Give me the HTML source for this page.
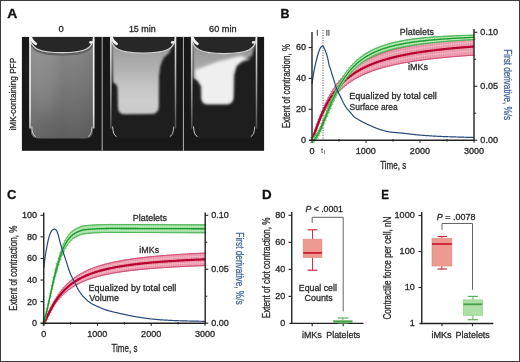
<!DOCTYPE html>
<html><head><meta charset="utf-8"><style>
html,body{margin:0;padding:0;background:#fff;width:520px;height:362px;overflow:hidden;}
svg{display:block;font-family:"Liberation Sans", sans-serif;}
</style></head><body>
<svg style="will-change:transform" width="520" height="362" viewBox="0 0 520 362" font-family='"Liberation Sans", sans-serif'>
<defs>
<filter id="b1" filterUnits="userSpaceOnUse" x="0" y="0" width="520" height="362"><feGaussianBlur stdDeviation="1.2"/></filter>
<filter id="b2" filterUnits="userSpaceOnUse" x="0" y="0" width="520" height="362"><feGaussianBlur stdDeviation="1.6"/></filter>
<filter id="b03" filterUnits="userSpaceOnUse" x="0" y="0" width="520" height="362"><feGaussianBlur stdDeviation="0.35"/></filter>
<filter id="b05" filterUnits="userSpaceOnUse" x="0" y="0" width="520" height="362"><feGaussianBlur stdDeviation="0.5"/></filter>
<filter id="b3" filterUnits="userSpaceOnUse" x="0" y="0" width="520" height="362"><feGaussianBlur stdDeviation="5"/></filter>
<linearGradient id="tube1" x1="0" y1="0" x2="0" y2="1">
 <stop offset="0" stop-color="#8a8a8a"/><stop offset="0.45" stop-color="#797979"/><stop offset="1" stop-color="#5e5e5e"/>
</linearGradient>
<linearGradient id="tube1h" x1="0" y1="0" x2="1" y2="0">
 <stop offset="0" stop-color="#ffffff" stop-opacity="0.06"/><stop offset="0.5" stop-color="#ffffff" stop-opacity="0"/><stop offset="1" stop-color="#000" stop-opacity="0.06"/>
</linearGradient>
<linearGradient id="wallg0" x1="0" y1="0" x2="0" y2="1"><stop offset="0" stop-color="#fafafa"/><stop offset="0.8" stop-color="#ececec"/><stop offset="1" stop-color="#c4c4c4"/></linearGradient>
<linearGradient id="wallg1" x1="0" y1="0" x2="0" y2="1"><stop offset="0" stop-color="#eeeeee"/><stop offset="0.55" stop-color="#9a9a9a"/><stop offset="1" stop-color="#4a4a4a"/></linearGradient>
<linearGradient id="haze" x1="0" y1="0" x2="0" y2="1">
 <stop offset="0" stop-color="#8a8a8a"/><stop offset="1" stop-color="#b0b0b0"/>
</linearGradient>
</defs>
<rect x="0" y="0" width="520" height="362" fill="#ffffff"/>
<text x="7.25" y="17.60" font-size="12.5" font-weight="bold" fill="#111" stroke="#111" stroke-width="0.3" textLength="10.01" lengthAdjust="spacingAndGlyphs" >A</text>
<text x="280.57" y="17.60" font-size="12.5" font-weight="bold" fill="#111" stroke="#111" stroke-width="0.3" textLength="9.00" lengthAdjust="spacingAndGlyphs" >B</text>
<text x="6.97" y="198.60" font-size="12.5" font-weight="bold" fill="#111" stroke="#111" stroke-width="0.3" textLength="9.39" lengthAdjust="spacingAndGlyphs" >C</text>
<text x="262.11" y="198.80" font-size="12.5" font-weight="bold" fill="#111" stroke="#111" stroke-width="0.3" textLength="9.66" lengthAdjust="spacingAndGlyphs" >D</text>
<text x="381.32" y="198.60" font-size="12.5" font-weight="bold" fill="#111" stroke="#111" stroke-width="0.3" textLength="7.73" lengthAdjust="spacingAndGlyphs" >E</text>
<rect x="21.9" y="36.9" width="242.2" height="113.9" fill="#181818"/>
<clipPath id="ph"><rect x="21.9" y="36.9" width="242.2" height="113.9"/></clipPath>
<g clip-path="url(#ph)">
<path d="M30.8,36.9 L93.0,36.9 L93.0,130.5 Q93.0,138.5 85.0,138.5 L38.8,138.5 Q30.8,138.5 30.8,130.5 Z" fill="url(#tube1)"/>
<path d="M30.8,36.9 L93.0,36.9 L93.0,130.5 Q93.0,138.5 85.0,138.5 L38.8,138.5 Q30.8,138.5 30.8,130.5 Z" fill="url(#tube1h)"/>
<ellipse cx="43.8" cy="75" rx="14" ry="40" fill="#ffffff" fill-opacity="0.07" filter="url(#b3)"/>
<path d="M94.0,37.4 C92.8,48.6 85.0,52.6 61.9,52.6 C38.8,52.6 31.0,48.6 29.8,37.4" fill="none" stroke="#606060" stroke-width="2.2" transform="translate(0,1.8)" filter="url(#b05)"/>
<path d="M29.8,35.9 L94.0,35.9 L94.0,37.4 C92.8,48.6 85.0,52.6 61.9,52.6 C38.8,52.6 31.0,48.6 29.8,37.4 Z" fill="#272727"/>
<path d="M93.5,37.4 C92.8,48.6 85.0,52.6 61.9,52.6 C38.8,52.6 31.0,48.6 29.8,37.4" fill="none" stroke="#d4d4d4" stroke-width="1.1" filter="url(#b03)"/>
<rect x="29.2" y="36.9" width="1.7" height="91.6" fill="url(#wallg0)" filter="url(#b03)"/>
<rect x="92.9" y="36.9" width="1.6" height="91.6" fill="url(#wallg0)" filter="url(#b03)"/>
<path d="M30.8,37.4 Q32.3,41.9 35.8,43.9" fill="none" stroke="#f4f4f4" stroke-width="2.6" stroke-linecap="round" filter="url(#b05)"/>
<ellipse cx="90.8" cy="42.4" rx="1.8" ry="1.4" fill="#e8e8e8" filter="url(#b05)"/>
<path d="M31.8,126.5 Q32.3,135.5 35.8,136.5" fill="none" stroke="#cfcfcf" stroke-width="1.0" filter="url(#b05)"/>
<path d="M92.0,126.5 Q91.5,135.5 88.0,136.5" fill="none" stroke="#bbbbbb" stroke-width="1.0" filter="url(#b05)"/>
<linearGradient id="hz2" x1="0" y1="50" x2="0" y2="115" gradientUnits="userSpaceOnUse"><stop offset="0" stop-color="#a0a0a0"/><stop offset="0.3" stop-color="#b2b2b2"/><stop offset="0.55" stop-color="#c4c4c4"/><stop offset="0.8" stop-color="#cecece"/><stop offset="1" stop-color="#c8c8c8"/></linearGradient>
<path d="M111.6,36.9 L174.8,36.9 L174.8,130.5 Q174.8,138.5 166.8,138.5 L119.6,138.5 Q111.6,138.5 111.6,130.5 Z" fill="#1e1e1e"/>
<path d="M111.5,40 L175,40 L169,53 L163.5,58 L160.3,66 L159,76 L158.8,107 Q158.2,113.8 152,114 L124,114.2 Q118.5,114 118,108 L117.6,88 L116.5,85 L113,82 Z" fill="url(#hz2)" filter="url(#b1)"/>
<path d="M110.6,35.9 L175.8,35.9 L175.8,37.4 C174.60000000000002,49.0 166.8,53.0 143.2,53.0 C119.6,53.0 111.8,49.0 110.6,37.4 Z" fill="#272727"/>
<path d="M175.3,37.4 C174.60000000000002,49.0 166.8,53.0 143.2,53.0 C119.6,53.0 111.8,49.0 110.6,37.4" fill="none" stroke="#d4d4d4" stroke-width="1.1" filter="url(#b03)"/>
<rect x="110.0" y="36.9" width="1.7" height="91.6" fill="url(#wallg1)" filter="url(#b03)"/>
<rect x="174.70000000000002" y="36.9" width="1.6" height="91.6" fill="url(#wallg1)" filter="url(#b03)"/>
<path d="M111.6,37.4 Q113.1,41.9 116.6,43.9" fill="none" stroke="#f4f4f4" stroke-width="2.6" stroke-linecap="round" filter="url(#b05)"/>
<ellipse cx="172.60000000000002" cy="42.4" rx="1.8" ry="1.4" fill="#e8e8e8" filter="url(#b05)"/>
<path d="M112.6,126.5 Q113.1,135.5 116.6,136.5" fill="none" stroke="#cfcfcf" stroke-width="1.0" filter="url(#b05)"/>
<path d="M173.8,126.5 Q173.3,135.5 169.8,136.5" fill="none" stroke="#bbbbbb" stroke-width="1.0" filter="url(#b05)"/>
<linearGradient id="hz3" x1="0" y1="50" x2="0" y2="90" gradientUnits="userSpaceOnUse"><stop offset="0" stop-color="#989898"/><stop offset="0.5" stop-color="#b0b0b0"/><stop offset="1" stop-color="#c4c4c4"/></linearGradient>
<path d="M192.5,36.9 L255.8,36.9 L255.8,130.5 Q255.8,138.5 247.8,138.5 L200.5,138.5 Q192.5,138.5 192.5,130.5 Z" fill="#1e1e1e"/>
<path d="M192.5,40 L256,40 L252,56 L242,59 L236,66 L233.5,75 L233,98 Q232.5,103.5 227,103.8 L207,103.8 Q202,103.5 201.8,98 L201.6,86 L198,80.5 L193.5,78 Z" fill="url(#hz3)" filter="url(#b1)"/>
<path d="M195.5,70 L218,61.5 L240,56 L251,58.5 L242,61.5 L236,66 L233.5,75 L233,98 Q232.5,103.5 227,103.8 L207,103.8 Q202,103.5 201.8,98 L201.6,86 L198,80.5 L195.5,78 Z" fill="#efefef" filter="url(#b2)"/>
<path d="M191.5,35.9 L256.8,35.9 L256.8,37.4 C255.60000000000002,49.6 247.8,53.6 224.15,53.6 C200.5,53.6 192.7,49.6 191.5,37.4 Z" fill="#272727"/>
<path d="M256.3,37.4 C255.60000000000002,49.6 247.8,53.6 224.15,53.6 C200.5,53.6 192.7,49.6 191.5,37.4" fill="none" stroke="#d4d4d4" stroke-width="1.1" filter="url(#b03)"/>
<rect x="190.9" y="36.9" width="1.7" height="91.6" fill="url(#wallg1)" filter="url(#b03)"/>
<rect x="255.70000000000002" y="36.9" width="1.6" height="91.6" fill="url(#wallg1)" filter="url(#b03)"/>
<path d="M192.5,37.4 Q194.0,41.9 197.5,43.9" fill="none" stroke="#f4f4f4" stroke-width="2.6" stroke-linecap="round" filter="url(#b05)"/>
<ellipse cx="253.60000000000002" cy="42.4" rx="1.8" ry="1.4" fill="#e8e8e8" filter="url(#b05)"/>
<path d="M193.5,126.5 Q194.0,135.5 197.5,136.5" fill="none" stroke="#cfcfcf" stroke-width="1.0" filter="url(#b05)"/>
<path d="M254.8,126.5 Q254.3,135.5 250.8,136.5" fill="none" stroke="#bbbbbb" stroke-width="1.0" filter="url(#b05)"/>
</g>
<line x1="102.20" y1="36.90" x2="102.20" y2="150.80" stroke="#b5b5b5" stroke-width="1.0" />
<line x1="183.40" y1="36.90" x2="183.40" y2="150.80" stroke="#b5b5b5" stroke-width="1.0" />
<text x="58.43" y="31.90" font-size="8.6" font-weight="normal" fill="#2b2b2b" stroke="#2b2b2b" stroke-width="0.3" textLength="5.24" lengthAdjust="spacingAndGlyphs" >0</text>
<text x="128.92" y="32.00" font-size="8.6" font-weight="normal" fill="#2b2b2b" stroke="#2b2b2b" stroke-width="0.3" textLength="26.76" lengthAdjust="spacingAndGlyphs" >15 min</text>
<text x="209.14" y="32.00" font-size="8.6" font-weight="normal" fill="#2b2b2b" stroke="#2b2b2b" stroke-width="0.3" textLength="27.46" lengthAdjust="spacingAndGlyphs" >60 min</text>
<text transform="translate(15.80,0) rotate(-90)" x="-130.55" y="0" font-size="9.4" font-weight="normal" fill="#2b2b2b" stroke="#2b2b2b" stroke-width="0.3" textLength="72.68" lengthAdjust="spacingAndGlyphs">iMK-containing PFP</text>
<clipPath id="bR"><path d="M312.00,137.80 L312.55,136.55 L313.02,135.32 L313.11,135.07 L313.66,133.52 L314.04,132.45 L314.22,131.94 L314.77,130.34 L315.06,129.52 L315.32,128.75 L315.88,127.18 L316.08,126.62 L316.43,125.62 L316.98,124.08 L317.09,123.78 L317.54,122.57 L318.09,121.09 L318.11,121.03 L318.65,119.63 L319.13,118.38 L319.20,118.21 L319.75,116.81 L320.15,115.83 L320.31,115.45 L320.86,114.12 L321.17,113.39 L321.42,112.81 L321.97,111.52 L322.19,110.98 L322.52,110.17 L323.08,108.84 L323.21,108.53 L323.63,107.54 L324.18,106.28 L324.23,106.19 L324.74,105.05 L325.25,103.94 L325.29,103.84 L325.85,102.67 L326.26,101.80 L326.40,101.52 L326.95,100.40 L327.28,99.74 L327.51,99.30 L328.06,98.24 L328.30,97.78 L328.62,97.19 L329.17,96.17 L329.32,95.90 L329.72,95.18 L330.28,94.21 L330.34,94.10 L330.83,93.26 L331.36,92.38 L331.38,92.33 L331.94,91.43 L332.38,90.72 L332.49,90.54 L333.05,89.67 L333.40,89.14 L333.60,88.83 L334.42,87.62 L335.43,86.16 L336.45,84.76 L337.47,83.41 L338.49,82.12 L339.51,80.88 L340.53,79.68 L341.55,78.53 L342.57,77.42 L343.58,76.35 L344.60,75.31 L345.62,74.32 L346.64,73.36 L347.66,72.43 L348.68,71.54 L349.70,70.67 L350.72,69.83 L351.74,69.02 L352.75,68.24 L353.77,67.48 L354.79,66.74 L355.81,66.03 L356.83,65.34 L357.85,64.67 L358.87,64.02 L359.89,63.39 L360.91,62.78 L361.92,62.19 L362.94,61.61 L363.96,61.05 L364.98,60.50 L366.00,59.97 L367.02,59.45 L368.04,58.95 L369.06,58.46 L370.08,57.99 L371.09,57.52 L372.11,57.07 L373.13,56.63 L374.15,56.20 L375.17,55.78 L376.19,55.37 L377.21,54.97 L378.23,54.58 L379.25,54.20 L380.26,53.83 L381.28,53.47 L382.30,53.12 L383.32,52.77 L384.34,52.43 L385.36,52.10 L386.38,51.78 L387.40,51.47 L388.42,51.16 L389.43,50.85 L390.45,50.56 L391.47,50.27 L392.49,49.98 L393.51,49.71 L394.53,49.44 L395.55,49.17 L396.57,48.91 L397.58,48.65 L398.60,48.40 L399.62,48.16 L400.64,47.91 L401.66,47.68 L402.68,47.45 L403.70,47.22 L404.72,47.00 L405.74,46.78 L406.75,46.56 L407.77,46.35 L408.79,46.14 L409.81,45.94 L410.83,45.74 L411.85,45.55 L412.87,45.35 L413.89,45.16 L414.91,44.98 L415.92,44.80 L416.94,44.62 L417.96,44.44 L418.98,44.27 L420.00,44.09 L421.02,43.93 L422.04,43.76 L423.06,43.60 L424.08,43.44 L425.09,43.28 L426.11,43.13 L427.13,42.98 L428.15,42.83 L429.17,42.68 L430.19,42.53 L431.21,42.39 L432.23,42.25 L433.25,42.11 L434.26,41.98 L435.28,41.84 L436.30,41.71 L437.32,41.58 L438.34,41.45 L439.36,41.32 L440.38,41.20 L441.40,41.08 L442.42,40.95 L443.43,40.83 L444.45,40.72 L445.47,40.60 L446.49,40.49 L447.51,40.37 L448.53,40.26 L449.55,40.15 L450.57,40.04 L451.58,39.94 L452.60,39.83 L453.62,39.73 L454.64,39.63 L455.66,39.52 L456.68,39.42 L457.70,39.33 L458.72,39.23 L459.74,39.13 L460.75,39.04 L461.77,38.94 L462.79,38.85 L463.81,38.76 L464.83,38.67 L465.85,38.58 L466.87,38.49 L467.89,38.41 L468.91,38.32 L469.92,38.24 L470.94,38.15 L471.96,38.07 L472.98,37.99 L474.00,37.91 L474.00,55.14 L472.98,55.21 L471.96,55.28 L470.94,55.35 L469.92,55.42 L468.91,55.49 L467.89,55.56 L466.87,55.63 L465.85,55.70 L464.83,55.78 L463.81,55.85 L462.79,55.93 L461.77,56.01 L460.75,56.08 L459.74,56.16 L458.72,56.24 L457.70,56.32 L456.68,56.40 L455.66,56.49 L454.64,56.57 L453.62,56.66 L452.60,56.74 L451.58,56.83 L450.57,56.92 L449.55,57.01 L448.53,57.10 L447.51,57.19 L446.49,57.29 L445.47,57.38 L444.45,57.48 L443.43,57.58 L442.42,57.68 L441.40,57.78 L440.38,57.88 L439.36,57.98 L438.34,58.09 L437.32,58.20 L436.30,58.30 L435.28,58.41 L434.26,58.53 L433.25,58.64 L432.23,58.75 L431.21,58.87 L430.19,58.99 L429.17,59.11 L428.15,59.23 L427.13,59.36 L426.11,59.48 L425.09,59.61 L424.08,59.74 L423.06,59.88 L422.04,60.01 L421.02,60.15 L420.00,60.29 L418.98,60.43 L417.96,60.57 L416.94,60.72 L415.92,60.87 L414.91,61.02 L413.89,61.18 L412.87,61.33 L411.85,61.49 L410.83,61.66 L409.81,61.82 L408.79,61.99 L407.77,62.17 L406.75,62.34 L405.74,62.52 L404.72,62.70 L403.70,62.89 L402.68,63.08 L401.66,63.27 L400.64,63.46 L399.62,63.67 L398.60,63.87 L397.58,64.08 L396.57,64.29 L395.55,64.51 L394.53,64.73 L393.51,64.96 L392.49,65.19 L391.47,65.42 L390.45,65.66 L389.43,65.91 L388.42,66.16 L387.40,66.42 L386.38,66.68 L385.36,66.95 L384.34,67.22 L383.32,67.50 L382.30,67.79 L381.28,68.09 L380.26,68.39 L379.25,68.69 L378.23,69.01 L377.21,69.33 L376.19,69.67 L375.17,70.01 L374.15,70.35 L373.13,70.71 L372.11,71.08 L371.09,71.45 L370.08,71.84 L369.06,72.23 L368.04,72.64 L367.02,73.06 L366.00,73.49 L364.98,73.93 L363.96,74.38 L362.94,74.85 L361.92,75.33 L360.91,75.82 L359.89,76.33 L358.87,76.86 L357.85,77.40 L356.83,77.96 L355.81,78.53 L354.79,79.12 L353.77,79.73 L352.75,80.36 L351.74,81.02 L350.72,81.69 L349.70,82.39 L348.68,83.11 L347.66,83.85 L346.64,84.62 L345.62,85.42 L344.60,86.25 L343.58,87.10 L342.57,87.99 L341.55,88.92 L340.53,89.88 L339.51,90.87 L338.49,91.91 L337.47,92.98 L336.45,94.10 L335.43,95.26 L334.42,96.48 L333.60,97.48 L333.40,97.74 L333.05,98.19 L332.49,98.91 L332.38,99.06 L331.94,99.64 L331.38,100.40 L331.36,100.43 L330.83,101.17 L330.34,101.87 L330.28,101.96 L329.72,102.77 L329.32,103.36 L329.17,103.59 L328.62,104.44 L328.30,104.93 L328.06,105.31 L327.51,106.19 L327.28,106.56 L326.95,107.10 L326.40,108.04 L326.26,108.27 L325.85,108.99 L325.29,109.97 L325.25,110.05 L324.74,110.97 L324.23,111.92 L324.18,112.00 L323.63,113.05 L323.21,113.87 L323.08,114.12 L322.52,115.23 L322.19,115.90 L321.97,116.36 L321.42,117.61 L321.17,118.19 L320.86,118.92 L320.31,120.25 L320.15,120.63 L319.75,121.61 L319.20,123.01 L319.13,123.18 L318.65,124.43 L318.11,125.83 L318.09,125.89 L317.54,127.37 L317.09,128.58 L316.98,128.88 L316.43,130.42 L316.08,131.42 L315.88,131.98 L315.32,133.55 L315.06,134.32 L314.77,135.14 L314.22,136.74 L314.04,137.25 L313.66,138.32 L313.11,139.87 L313.02,140.12 L312.55,141.35 L312.00,142.60 Z"/></clipPath>
<path d="M312.00,137.80 L312.55,136.55 L313.02,135.32 L313.11,135.07 L313.66,133.52 L314.04,132.45 L314.22,131.94 L314.77,130.34 L315.06,129.52 L315.32,128.75 L315.88,127.18 L316.08,126.62 L316.43,125.62 L316.98,124.08 L317.09,123.78 L317.54,122.57 L318.09,121.09 L318.11,121.03 L318.65,119.63 L319.13,118.38 L319.20,118.21 L319.75,116.81 L320.15,115.83 L320.31,115.45 L320.86,114.12 L321.17,113.39 L321.42,112.81 L321.97,111.52 L322.19,110.98 L322.52,110.17 L323.08,108.84 L323.21,108.53 L323.63,107.54 L324.18,106.28 L324.23,106.19 L324.74,105.05 L325.25,103.94 L325.29,103.84 L325.85,102.67 L326.26,101.80 L326.40,101.52 L326.95,100.40 L327.28,99.74 L327.51,99.30 L328.06,98.24 L328.30,97.78 L328.62,97.19 L329.17,96.17 L329.32,95.90 L329.72,95.18 L330.28,94.21 L330.34,94.10 L330.83,93.26 L331.36,92.38 L331.38,92.33 L331.94,91.43 L332.38,90.72 L332.49,90.54 L333.05,89.67 L333.40,89.14 L333.60,88.83 L334.42,87.62 L335.43,86.16 L336.45,84.76 L337.47,83.41 L338.49,82.12 L339.51,80.88 L340.53,79.68 L341.55,78.53 L342.57,77.42 L343.58,76.35 L344.60,75.31 L345.62,74.32 L346.64,73.36 L347.66,72.43 L348.68,71.54 L349.70,70.67 L350.72,69.83 L351.74,69.02 L352.75,68.24 L353.77,67.48 L354.79,66.74 L355.81,66.03 L356.83,65.34 L357.85,64.67 L358.87,64.02 L359.89,63.39 L360.91,62.78 L361.92,62.19 L362.94,61.61 L363.96,61.05 L364.98,60.50 L366.00,59.97 L367.02,59.45 L368.04,58.95 L369.06,58.46 L370.08,57.99 L371.09,57.52 L372.11,57.07 L373.13,56.63 L374.15,56.20 L375.17,55.78 L376.19,55.37 L377.21,54.97 L378.23,54.58 L379.25,54.20 L380.26,53.83 L381.28,53.47 L382.30,53.12 L383.32,52.77 L384.34,52.43 L385.36,52.10 L386.38,51.78 L387.40,51.47 L388.42,51.16 L389.43,50.85 L390.45,50.56 L391.47,50.27 L392.49,49.98 L393.51,49.71 L394.53,49.44 L395.55,49.17 L396.57,48.91 L397.58,48.65 L398.60,48.40 L399.62,48.16 L400.64,47.91 L401.66,47.68 L402.68,47.45 L403.70,47.22 L404.72,47.00 L405.74,46.78 L406.75,46.56 L407.77,46.35 L408.79,46.14 L409.81,45.94 L410.83,45.74 L411.85,45.55 L412.87,45.35 L413.89,45.16 L414.91,44.98 L415.92,44.80 L416.94,44.62 L417.96,44.44 L418.98,44.27 L420.00,44.09 L421.02,43.93 L422.04,43.76 L423.06,43.60 L424.08,43.44 L425.09,43.28 L426.11,43.13 L427.13,42.98 L428.15,42.83 L429.17,42.68 L430.19,42.53 L431.21,42.39 L432.23,42.25 L433.25,42.11 L434.26,41.98 L435.28,41.84 L436.30,41.71 L437.32,41.58 L438.34,41.45 L439.36,41.32 L440.38,41.20 L441.40,41.08 L442.42,40.95 L443.43,40.83 L444.45,40.72 L445.47,40.60 L446.49,40.49 L447.51,40.37 L448.53,40.26 L449.55,40.15 L450.57,40.04 L451.58,39.94 L452.60,39.83 L453.62,39.73 L454.64,39.63 L455.66,39.52 L456.68,39.42 L457.70,39.33 L458.72,39.23 L459.74,39.13 L460.75,39.04 L461.77,38.94 L462.79,38.85 L463.81,38.76 L464.83,38.67 L465.85,38.58 L466.87,38.49 L467.89,38.41 L468.91,38.32 L469.92,38.24 L470.94,38.15 L471.96,38.07 L472.98,37.99 L474.00,37.91 L474.00,55.14 L472.98,55.21 L471.96,55.28 L470.94,55.35 L469.92,55.42 L468.91,55.49 L467.89,55.56 L466.87,55.63 L465.85,55.70 L464.83,55.78 L463.81,55.85 L462.79,55.93 L461.77,56.01 L460.75,56.08 L459.74,56.16 L458.72,56.24 L457.70,56.32 L456.68,56.40 L455.66,56.49 L454.64,56.57 L453.62,56.66 L452.60,56.74 L451.58,56.83 L450.57,56.92 L449.55,57.01 L448.53,57.10 L447.51,57.19 L446.49,57.29 L445.47,57.38 L444.45,57.48 L443.43,57.58 L442.42,57.68 L441.40,57.78 L440.38,57.88 L439.36,57.98 L438.34,58.09 L437.32,58.20 L436.30,58.30 L435.28,58.41 L434.26,58.53 L433.25,58.64 L432.23,58.75 L431.21,58.87 L430.19,58.99 L429.17,59.11 L428.15,59.23 L427.13,59.36 L426.11,59.48 L425.09,59.61 L424.08,59.74 L423.06,59.88 L422.04,60.01 L421.02,60.15 L420.00,60.29 L418.98,60.43 L417.96,60.57 L416.94,60.72 L415.92,60.87 L414.91,61.02 L413.89,61.18 L412.87,61.33 L411.85,61.49 L410.83,61.66 L409.81,61.82 L408.79,61.99 L407.77,62.17 L406.75,62.34 L405.74,62.52 L404.72,62.70 L403.70,62.89 L402.68,63.08 L401.66,63.27 L400.64,63.46 L399.62,63.67 L398.60,63.87 L397.58,64.08 L396.57,64.29 L395.55,64.51 L394.53,64.73 L393.51,64.96 L392.49,65.19 L391.47,65.42 L390.45,65.66 L389.43,65.91 L388.42,66.16 L387.40,66.42 L386.38,66.68 L385.36,66.95 L384.34,67.22 L383.32,67.50 L382.30,67.79 L381.28,68.09 L380.26,68.39 L379.25,68.69 L378.23,69.01 L377.21,69.33 L376.19,69.67 L375.17,70.01 L374.15,70.35 L373.13,70.71 L372.11,71.08 L371.09,71.45 L370.08,71.84 L369.06,72.23 L368.04,72.64 L367.02,73.06 L366.00,73.49 L364.98,73.93 L363.96,74.38 L362.94,74.85 L361.92,75.33 L360.91,75.82 L359.89,76.33 L358.87,76.86 L357.85,77.40 L356.83,77.96 L355.81,78.53 L354.79,79.12 L353.77,79.73 L352.75,80.36 L351.74,81.02 L350.72,81.69 L349.70,82.39 L348.68,83.11 L347.66,83.85 L346.64,84.62 L345.62,85.42 L344.60,86.25 L343.58,87.10 L342.57,87.99 L341.55,88.92 L340.53,89.88 L339.51,90.87 L338.49,91.91 L337.47,92.98 L336.45,94.10 L335.43,95.26 L334.42,96.48 L333.60,97.48 L333.40,97.74 L333.05,98.19 L332.49,98.91 L332.38,99.06 L331.94,99.64 L331.38,100.40 L331.36,100.43 L330.83,101.17 L330.34,101.87 L330.28,101.96 L329.72,102.77 L329.32,103.36 L329.17,103.59 L328.62,104.44 L328.30,104.93 L328.06,105.31 L327.51,106.19 L327.28,106.56 L326.95,107.10 L326.40,108.04 L326.26,108.27 L325.85,108.99 L325.29,109.97 L325.25,110.05 L324.74,110.97 L324.23,111.92 L324.18,112.00 L323.63,113.05 L323.21,113.87 L323.08,114.12 L322.52,115.23 L322.19,115.90 L321.97,116.36 L321.42,117.61 L321.17,118.19 L320.86,118.92 L320.31,120.25 L320.15,120.63 L319.75,121.61 L319.20,123.01 L319.13,123.18 L318.65,124.43 L318.11,125.83 L318.09,125.89 L317.54,127.37 L317.09,128.58 L316.98,128.88 L316.43,130.42 L316.08,131.42 L315.88,131.98 L315.32,133.55 L315.06,134.32 L314.77,135.14 L314.22,136.74 L314.04,137.25 L313.66,138.32 L313.11,139.87 L313.02,140.12 L312.55,141.35 L312.00,142.60 Z" fill="#e98aa0"/>
<path d="M312.90,35.9V144.6M314.70,35.9V144.6M316.50,35.9V144.6M318.30,35.9V144.6M320.10,35.9V144.6M321.90,35.9V144.6M323.70,35.9V144.6M325.50,35.9V144.6M327.30,35.9V144.6M329.10,35.9V144.6M330.90,35.9V144.6M332.70,35.9V144.6M334.50,35.9V144.6M336.30,35.9V144.6M338.10,35.9V144.6M339.90,35.9V144.6M341.70,35.9V144.6M343.50,35.9V144.6M345.30,35.9V144.6M347.10,35.9V144.6M348.90,35.9V144.6M350.70,35.9V144.6M352.50,35.9V144.6M354.30,35.9V144.6M356.10,35.9V144.6M357.90,35.9V144.6M359.70,35.9V144.6M361.50,35.9V144.6M363.30,35.9V144.6M365.10,35.9V144.6M366.90,35.9V144.6M368.70,35.9V144.6M370.50,35.9V144.6M372.30,35.9V144.6M374.10,35.9V144.6M375.90,35.9V144.6M377.70,35.9V144.6M379.50,35.9V144.6M381.30,35.9V144.6M383.10,35.9V144.6M384.90,35.9V144.6M386.70,35.9V144.6M388.50,35.9V144.6M390.30,35.9V144.6M392.10,35.9V144.6M393.90,35.9V144.6M395.70,35.9V144.6M397.50,35.9V144.6M399.30,35.9V144.6M401.10,35.9V144.6M402.90,35.9V144.6M404.70,35.9V144.6M406.50,35.9V144.6M408.30,35.9V144.6M410.10,35.9V144.6M411.90,35.9V144.6M413.70,35.9V144.6M415.50,35.9V144.6M417.30,35.9V144.6M419.10,35.9V144.6M420.90,35.9V144.6M422.70,35.9V144.6M424.50,35.9V144.6M426.30,35.9V144.6M428.10,35.9V144.6M429.90,35.9V144.6M431.70,35.9V144.6M433.50,35.9V144.6M435.30,35.9V144.6M437.10,35.9V144.6M438.90,35.9V144.6M440.70,35.9V144.6M442.50,35.9V144.6M444.30,35.9V144.6M446.10,35.9V144.6M447.90,35.9V144.6M449.70,35.9V144.6M451.50,35.9V144.6M453.30,35.9V144.6M455.10,35.9V144.6M456.90,35.9V144.6M458.70,35.9V144.6M460.50,35.9V144.6M462.30,35.9V144.6M464.10,35.9V144.6M465.90,35.9V144.6M467.70,35.9V144.6M469.50,35.9V144.6M471.30,35.9V144.6M473.10,35.9V144.6" stroke="#ffffff" stroke-opacity="0.4" stroke-width="0.7" clip-path="url(#bR)"/>
<path d="M310.50,137.80h3.0M310.50,142.60h3.0M312.16,133.52h3.0M312.16,138.32h3.0M313.82,128.75h3.0M313.82,133.55h3.0M315.48,124.08h3.0M315.48,128.88h3.0M317.15,119.63h3.0M317.15,124.43h3.0M318.81,115.45h3.0M318.81,120.25h3.0M320.47,111.52h3.0M320.47,116.36h3.0M322.13,107.54h3.0M322.13,113.05h3.0M323.75,103.94h3.0M323.75,110.05h3.0M325.45,100.40h3.0M325.45,107.10h3.0M327.12,97.19h3.0M327.12,104.44h3.0M328.78,94.21h3.0M328.78,101.96h3.0M330.44,91.43h3.0M330.44,99.64h3.0M332.10,88.83h3.0M332.10,97.48h3.0M333.93,86.16h3.0M333.93,95.26h3.0M335.97,83.41h3.0M335.97,92.98h3.0M338.01,80.88h3.0M338.01,90.87h3.0M340.05,78.53h3.0M340.05,88.92h3.0M342.08,76.35h3.0M342.08,87.10h3.0M344.12,74.32h3.0M344.12,85.42h3.0M346.16,72.43h3.0M346.16,83.85h3.0M348.20,70.67h3.0M348.20,82.39h3.0M350.24,69.02h3.0M350.24,81.02h3.0M352.27,67.48h3.0M352.27,79.73h3.0M354.31,66.03h3.0M354.31,78.53h3.0M356.35,64.67h3.0M356.35,77.40h3.0M358.39,63.39h3.0M358.39,76.33h3.0M360.42,62.19h3.0M360.42,75.33h3.0M362.46,61.05h3.0M362.46,74.38h3.0M364.50,59.97h3.0M364.50,73.49h3.0M366.54,58.95h3.0M366.54,72.64h3.0M368.58,57.99h3.0M368.58,71.84h3.0M370.61,57.07h3.0M370.61,71.08h3.0M372.65,56.20h3.0M372.65,70.35h3.0M374.69,55.37h3.0M374.69,69.67h3.0M376.73,54.58h3.0M376.73,69.01h3.0M378.76,53.83h3.0M378.76,68.39h3.0M380.80,53.12h3.0M380.80,67.79h3.0M382.84,52.43h3.0M382.84,67.22h3.0M384.88,51.78h3.0M384.88,66.68h3.0M386.92,51.16h3.0M386.92,66.16h3.0M388.95,50.56h3.0M388.95,65.66h3.0M390.99,49.98h3.0M390.99,65.19h3.0M393.03,49.44h3.0M393.03,64.73h3.0M395.07,48.91h3.0M395.07,64.29h3.0M397.10,48.40h3.0M397.10,63.87h3.0M399.14,47.91h3.0M399.14,63.46h3.0M401.18,47.45h3.0M401.18,63.08h3.0M403.22,47.00h3.0M403.22,62.70h3.0M405.25,46.56h3.0M405.25,62.34h3.0M407.29,46.14h3.0M407.29,61.99h3.0M409.33,45.74h3.0M409.33,61.66h3.0M411.37,45.35h3.0M411.37,61.33h3.0M413.41,44.98h3.0M413.41,61.02h3.0M415.44,44.62h3.0M415.44,60.72h3.0M417.48,44.27h3.0M417.48,60.43h3.0M419.52,43.93h3.0M419.52,60.15h3.0M421.56,43.60h3.0M421.56,59.88h3.0M423.59,43.28h3.0M423.59,59.61h3.0M425.63,42.98h3.0M425.63,59.36h3.0M427.67,42.68h3.0M427.67,59.11h3.0M429.71,42.39h3.0M429.71,58.87h3.0M431.75,42.11h3.0M431.75,58.64h3.0M433.78,41.84h3.0M433.78,58.41h3.0M435.82,41.58h3.0M435.82,58.20h3.0M437.86,41.32h3.0M437.86,57.98h3.0M439.90,41.08h3.0M439.90,57.78h3.0M441.93,40.83h3.0M441.93,57.58h3.0M443.97,40.60h3.0M443.97,57.38h3.0M446.01,40.37h3.0M446.01,57.19h3.0M448.05,40.15h3.0M448.05,57.01h3.0M450.08,39.94h3.0M450.08,56.83h3.0M452.12,39.73h3.0M452.12,56.66h3.0M454.16,39.52h3.0M454.16,56.49h3.0M456.20,39.33h3.0M456.20,56.32h3.0M458.24,39.13h3.0M458.24,56.16h3.0M460.27,38.94h3.0M460.27,56.01h3.0M462.31,38.76h3.0M462.31,55.85h3.0M464.35,38.58h3.0M464.35,55.70h3.0M466.39,38.41h3.0M466.39,55.56h3.0M468.42,38.24h3.0M468.42,55.42h3.0M470.46,38.07h3.0M470.46,55.28h3.0M472.50,37.91h3.0M472.50,55.14h3.0" stroke="#e07c98" stroke-width="0.7" fill="none"/>
<path d="M312.00,139.00 L312.55,137.75 L313.02,136.52 L313.11,136.27 L313.66,134.72 L314.04,133.65 L314.22,133.14 L314.77,131.54 L315.06,130.72 L315.32,129.95 L315.88,128.38 L316.08,127.82 L316.43,126.82 L316.98,125.28 L317.09,124.98 L317.54,123.77 L318.09,122.29 L318.11,122.23 L318.65,120.83 L319.13,119.58 L319.20,119.41 L319.75,118.01 L320.15,117.03 L320.31,116.65 L320.86,115.32 L321.17,114.59 L321.42,114.01 L321.97,112.73 L322.19,112.21 L322.52,111.43 L323.08,110.16 L323.21,109.87 L323.63,108.92 L324.18,107.71 L324.23,107.62 L324.74,106.53 L325.25,105.47 L325.29,105.37 L325.85,104.25 L326.26,103.42 L326.40,103.15 L326.95,102.07 L327.28,101.45 L327.51,101.03 L328.06,100.00 L328.30,99.57 L328.62,99.00 L329.17,98.03 L329.32,97.77 L329.72,97.08 L330.28,96.15 L330.34,96.04 L330.83,95.24 L331.36,94.39 L331.38,94.35 L331.94,93.48 L332.38,92.81 L332.49,92.63 L333.05,91.80 L333.40,91.29 L333.60,90.99 L334.42,89.83 L335.43,88.44 L336.45,87.09 L337.47,85.80 L338.49,84.57 L339.51,83.37 L340.53,82.23 L341.55,81.12 L342.57,80.06 L343.58,79.04 L344.60,78.05 L345.62,77.09 L346.64,76.17 L347.66,75.29 L348.68,74.43 L349.70,73.60 L350.72,72.80 L351.74,72.02 L352.75,71.27 L353.77,70.54 L354.79,69.84 L355.81,69.16 L356.83,68.49 L357.85,67.85 L358.87,67.23 L359.89,66.63 L360.91,66.04 L361.92,65.47 L362.94,64.92 L363.96,64.38 L364.98,63.86 L366.00,63.35 L367.02,62.86 L368.04,62.37 L369.06,61.91 L370.08,61.45 L371.09,61.00 L372.11,60.57 L373.13,60.15 L374.15,59.74 L375.17,59.34 L376.19,58.95 L377.21,58.56 L378.23,58.19 L379.25,57.83 L380.26,57.47 L381.28,57.13 L382.30,56.79 L383.32,56.46 L384.34,56.13 L385.36,55.82 L386.38,55.51 L387.40,55.20 L388.42,54.91 L389.43,54.62 L390.45,54.33 L391.47,54.06 L392.49,53.79 L393.51,53.52 L394.53,53.26 L395.55,53.00 L396.57,52.75 L397.58,52.51 L398.60,52.27 L399.62,52.03 L400.64,51.80 L401.66,51.58 L402.68,51.35 L403.70,51.14 L404.72,50.92 L405.74,50.71 L406.75,50.51 L407.77,50.31 L408.79,50.11 L409.81,49.91 L410.83,49.72 L411.85,49.53 L412.87,49.35 L413.89,49.17 L414.91,48.99 L415.92,48.81 L416.94,48.64 L417.96,48.47 L418.98,48.31 L420.00,48.14 L421.02,47.98 L422.04,47.82 L423.06,47.67 L424.08,47.52 L425.09,47.37 L426.11,47.22 L427.13,47.07 L428.15,46.93 L429.17,46.79 L430.19,46.65 L431.21,46.51 L432.23,46.38 L433.25,46.24 L434.26,46.11 L435.28,45.98 L436.30,45.86 L437.32,45.73 L438.34,45.61 L439.36,45.49 L440.38,45.37 L441.40,45.25 L442.42,45.13 L443.43,45.02 L444.45,44.91 L445.47,44.80 L446.49,44.69 L447.51,44.58 L448.53,44.47 L449.55,44.37 L450.57,44.26 L451.58,44.16 L452.60,44.06 L453.62,43.96 L454.64,43.86 L455.66,43.77 L456.68,43.67 L457.70,43.58 L458.72,43.48 L459.74,43.39 L460.75,43.30 L461.77,43.21 L462.79,43.12 L463.81,43.03 L464.83,42.95 L465.85,42.86 L466.87,42.78 L467.89,42.69 L468.91,42.61 L469.92,42.53 L470.94,42.45 L471.96,42.37 L472.98,42.29 L474.00,42.22" fill="none" stroke="#fcd8e0" stroke-opacity="0.55" stroke-width="0.9" clip-path="url(#bR)"/>
<path d="M312.00,141.40 L312.55,140.15 L313.02,138.92 L313.11,138.67 L313.66,137.12 L314.04,136.05 L314.22,135.54 L314.77,133.94 L315.06,133.12 L315.32,132.35 L315.88,130.78 L316.08,130.22 L316.43,129.22 L316.98,127.68 L317.09,127.38 L317.54,126.17 L318.09,124.69 L318.11,124.63 L318.65,123.23 L319.13,121.98 L319.20,121.81 L319.75,120.41 L320.15,119.43 L320.31,119.05 L320.86,117.72 L321.17,116.99 L321.42,116.41 L321.97,115.15 L322.19,114.67 L322.52,113.96 L323.08,112.80 L323.21,112.53 L323.63,111.67 L324.18,110.57 L324.23,110.48 L324.74,109.49 L325.25,108.53 L325.29,108.44 L325.85,107.41 L326.26,106.65 L326.40,106.41 L326.95,105.43 L327.28,104.86 L327.51,104.47 L328.06,103.54 L328.30,103.14 L328.62,102.63 L329.17,101.74 L329.32,101.50 L329.72,100.87 L330.28,100.02 L330.34,99.93 L330.83,99.19 L331.36,98.42 L331.38,98.38 L331.94,97.59 L332.38,96.98 L332.49,96.82 L333.05,96.06 L333.40,95.59 L333.60,95.32 L334.42,94.26 L335.43,92.99 L336.45,91.76 L337.47,90.59 L338.49,89.46 L339.51,88.37 L340.53,87.33 L341.55,86.32 L342.57,85.35 L343.58,84.42 L344.60,83.51 L345.62,82.64 L346.64,81.81 L347.66,81.00 L348.68,80.21 L349.70,79.46 L350.72,78.72 L351.74,78.02 L352.75,77.33 L353.77,76.67 L354.79,76.03 L355.81,75.40 L356.83,74.80 L357.85,74.22 L358.87,73.65 L359.89,73.10 L360.91,72.56 L361.92,72.04 L362.94,71.54 L363.96,71.05 L364.98,70.57 L366.00,70.11 L367.02,69.66 L368.04,69.22 L369.06,68.79 L370.08,68.38 L371.09,67.97 L372.11,67.58 L373.13,67.19 L374.15,66.82 L375.17,66.45 L376.19,66.09 L377.21,65.74 L378.23,65.40 L379.25,65.07 L380.26,64.75 L381.28,64.43 L382.30,64.12 L383.32,63.82 L384.34,63.53 L385.36,63.24 L386.38,62.96 L387.40,62.68 L388.42,62.41 L389.43,62.15 L390.45,61.89 L391.47,61.63 L392.49,61.39 L393.51,61.14 L394.53,60.91 L395.55,60.67 L396.57,60.44 L397.58,60.22 L398.60,60.00 L399.62,59.79 L400.64,59.58 L401.66,59.37 L402.68,59.17 L403.70,58.97 L404.72,58.77 L405.74,58.58 L406.75,58.40 L407.77,58.21 L408.79,58.03 L409.81,57.85 L410.83,57.68 L411.85,57.51 L412.87,57.34 L413.89,57.17 L414.91,57.01 L415.92,56.85 L416.94,56.69 L417.96,56.54 L418.98,56.39 L420.00,56.24 L421.02,56.09 L422.04,55.95 L423.06,55.81 L424.08,55.67 L425.09,55.53 L426.11,55.40 L427.13,55.26 L428.15,55.13 L429.17,55.00 L430.19,54.88 L431.21,54.75 L432.23,54.63 L433.25,54.51 L434.26,54.39 L435.28,54.27 L436.30,54.16 L437.32,54.04 L438.34,53.93 L439.36,53.82 L440.38,53.71 L441.40,53.60 L442.42,53.50 L443.43,53.39 L444.45,53.29 L445.47,53.19 L446.49,53.09 L447.51,52.99 L448.53,52.89 L449.55,52.80 L450.57,52.70 L451.58,52.61 L452.60,52.52 L453.62,52.43 L454.64,52.34 L455.66,52.25 L456.68,52.16 L457.70,52.07 L458.72,51.99 L459.74,51.90 L460.75,51.82 L461.77,51.74 L462.79,51.66 L463.81,51.58 L464.83,51.50 L465.85,51.42 L466.87,51.35 L467.89,51.27 L468.91,51.20 L469.92,51.12 L470.94,51.05 L471.96,50.98 L472.98,50.91 L474.00,50.83" fill="none" stroke="#fcd8e0" stroke-opacity="0.55" stroke-width="0.9" clip-path="url(#bR)"/>
<path d="M312.00,137.80 L312.55,136.55 L313.02,135.32 L313.11,135.07 L313.66,133.52 L314.04,132.45 L314.22,131.94 L314.77,130.34 L315.06,129.52 L315.32,128.75 L315.88,127.18 L316.08,126.62 L316.43,125.62 L316.98,124.08 L317.09,123.78 L317.54,122.57 L318.09,121.09 L318.11,121.03 L318.65,119.63 L319.13,118.38 L319.20,118.21 L319.75,116.81 L320.15,115.83 L320.31,115.45 L320.86,114.12 L321.17,113.39 L321.42,112.81 L321.97,111.52 L322.19,110.98 L322.52,110.17 L323.08,108.84 L323.21,108.53 L323.63,107.54 L324.18,106.28 L324.23,106.19 L324.74,105.05 L325.25,103.94 L325.29,103.84 L325.85,102.67 L326.26,101.80 L326.40,101.52 L326.95,100.40 L327.28,99.74 L327.51,99.30 L328.06,98.24 L328.30,97.78 L328.62,97.19 L329.17,96.17 L329.32,95.90 L329.72,95.18 L330.28,94.21 L330.34,94.10 L330.83,93.26 L331.36,92.38 L331.38,92.33 L331.94,91.43 L332.38,90.72 L332.49,90.54 L333.05,89.67 L333.40,89.14 L333.60,88.83 L334.42,87.62 L335.43,86.16 L336.45,84.76 L337.47,83.41 L338.49,82.12 L339.51,80.88 L340.53,79.68 L341.55,78.53 L342.57,77.42 L343.58,76.35 L344.60,75.31 L345.62,74.32 L346.64,73.36 L347.66,72.43 L348.68,71.54 L349.70,70.67 L350.72,69.83 L351.74,69.02 L352.75,68.24 L353.77,67.48 L354.79,66.74 L355.81,66.03 L356.83,65.34 L357.85,64.67 L358.87,64.02 L359.89,63.39 L360.91,62.78 L361.92,62.19 L362.94,61.61 L363.96,61.05 L364.98,60.50 L366.00,59.97 L367.02,59.45 L368.04,58.95 L369.06,58.46 L370.08,57.99 L371.09,57.52 L372.11,57.07 L373.13,56.63 L374.15,56.20 L375.17,55.78 L376.19,55.37 L377.21,54.97 L378.23,54.58 L379.25,54.20 L380.26,53.83 L381.28,53.47 L382.30,53.12 L383.32,52.77 L384.34,52.43 L385.36,52.10 L386.38,51.78 L387.40,51.47 L388.42,51.16 L389.43,50.85 L390.45,50.56 L391.47,50.27 L392.49,49.98 L393.51,49.71 L394.53,49.44 L395.55,49.17 L396.57,48.91 L397.58,48.65 L398.60,48.40 L399.62,48.16 L400.64,47.91 L401.66,47.68 L402.68,47.45 L403.70,47.22 L404.72,47.00 L405.74,46.78 L406.75,46.56 L407.77,46.35 L408.79,46.14 L409.81,45.94 L410.83,45.74 L411.85,45.55 L412.87,45.35 L413.89,45.16 L414.91,44.98 L415.92,44.80 L416.94,44.62 L417.96,44.44 L418.98,44.27 L420.00,44.09 L421.02,43.93 L422.04,43.76 L423.06,43.60 L424.08,43.44 L425.09,43.28 L426.11,43.13 L427.13,42.98 L428.15,42.83 L429.17,42.68 L430.19,42.53 L431.21,42.39 L432.23,42.25 L433.25,42.11 L434.26,41.98 L435.28,41.84 L436.30,41.71 L437.32,41.58 L438.34,41.45 L439.36,41.32 L440.38,41.20 L441.40,41.08 L442.42,40.95 L443.43,40.83 L444.45,40.72 L445.47,40.60 L446.49,40.49 L447.51,40.37 L448.53,40.26 L449.55,40.15 L450.57,40.04 L451.58,39.94 L452.60,39.83 L453.62,39.73 L454.64,39.63 L455.66,39.52 L456.68,39.42 L457.70,39.33 L458.72,39.23 L459.74,39.13 L460.75,39.04 L461.77,38.94 L462.79,38.85 L463.81,38.76 L464.83,38.67 L465.85,38.58 L466.87,38.49 L467.89,38.41 L468.91,38.32 L469.92,38.24 L470.94,38.15 L471.96,38.07 L472.98,37.99 L474.00,37.91" fill="none" stroke="#c83562" stroke-width="0.8"/>
<path d="M312.00,142.60 L312.55,141.35 L313.02,140.12 L313.11,139.87 L313.66,138.32 L314.04,137.25 L314.22,136.74 L314.77,135.14 L315.06,134.32 L315.32,133.55 L315.88,131.98 L316.08,131.42 L316.43,130.42 L316.98,128.88 L317.09,128.58 L317.54,127.37 L318.09,125.89 L318.11,125.83 L318.65,124.43 L319.13,123.18 L319.20,123.01 L319.75,121.61 L320.15,120.63 L320.31,120.25 L320.86,118.92 L321.17,118.19 L321.42,117.61 L321.97,116.36 L322.19,115.90 L322.52,115.23 L323.08,114.12 L323.21,113.87 L323.63,113.05 L324.18,112.00 L324.23,111.92 L324.74,110.97 L325.25,110.05 L325.29,109.97 L325.85,108.99 L326.26,108.27 L326.40,108.04 L326.95,107.10 L327.28,106.56 L327.51,106.19 L328.06,105.31 L328.30,104.93 L328.62,104.44 L329.17,103.59 L329.32,103.36 L329.72,102.77 L330.28,101.96 L330.34,101.87 L330.83,101.17 L331.36,100.43 L331.38,100.40 L331.94,99.64 L332.38,99.06 L332.49,98.91 L333.05,98.19 L333.40,97.74 L333.60,97.48 L334.42,96.48 L335.43,95.26 L336.45,94.10 L337.47,92.98 L338.49,91.91 L339.51,90.87 L340.53,89.88 L341.55,88.92 L342.57,87.99 L343.58,87.10 L344.60,86.25 L345.62,85.42 L346.64,84.62 L347.66,83.85 L348.68,83.11 L349.70,82.39 L350.72,81.69 L351.74,81.02 L352.75,80.36 L353.77,79.73 L354.79,79.12 L355.81,78.53 L356.83,77.96 L357.85,77.40 L358.87,76.86 L359.89,76.33 L360.91,75.82 L361.92,75.33 L362.94,74.85 L363.96,74.38 L364.98,73.93 L366.00,73.49 L367.02,73.06 L368.04,72.64 L369.06,72.23 L370.08,71.84 L371.09,71.45 L372.11,71.08 L373.13,70.71 L374.15,70.35 L375.17,70.01 L376.19,69.67 L377.21,69.33 L378.23,69.01 L379.25,68.69 L380.26,68.39 L381.28,68.09 L382.30,67.79 L383.32,67.50 L384.34,67.22 L385.36,66.95 L386.38,66.68 L387.40,66.42 L388.42,66.16 L389.43,65.91 L390.45,65.66 L391.47,65.42 L392.49,65.19 L393.51,64.96 L394.53,64.73 L395.55,64.51 L396.57,64.29 L397.58,64.08 L398.60,63.87 L399.62,63.67 L400.64,63.46 L401.66,63.27 L402.68,63.08 L403.70,62.89 L404.72,62.70 L405.74,62.52 L406.75,62.34 L407.77,62.17 L408.79,61.99 L409.81,61.82 L410.83,61.66 L411.85,61.49 L412.87,61.33 L413.89,61.18 L414.91,61.02 L415.92,60.87 L416.94,60.72 L417.96,60.57 L418.98,60.43 L420.00,60.29 L421.02,60.15 L422.04,60.01 L423.06,59.88 L424.08,59.74 L425.09,59.61 L426.11,59.48 L427.13,59.36 L428.15,59.23 L429.17,59.11 L430.19,58.99 L431.21,58.87 L432.23,58.75 L433.25,58.64 L434.26,58.53 L435.28,58.41 L436.30,58.30 L437.32,58.20 L438.34,58.09 L439.36,57.98 L440.38,57.88 L441.40,57.78 L442.42,57.68 L443.43,57.58 L444.45,57.48 L445.47,57.38 L446.49,57.29 L447.51,57.19 L448.53,57.10 L449.55,57.01 L450.57,56.92 L451.58,56.83 L452.60,56.74 L453.62,56.66 L454.64,56.57 L455.66,56.49 L456.68,56.40 L457.70,56.32 L458.72,56.24 L459.74,56.16 L460.75,56.08 L461.77,56.01 L462.79,55.93 L463.81,55.85 L464.83,55.78 L465.85,55.70 L466.87,55.63 L467.89,55.56 L468.91,55.49 L469.92,55.42 L470.94,55.35 L471.96,55.28 L472.98,55.21 L474.00,55.14" fill="none" stroke="#c83562" stroke-width="0.8"/>
<path d="M312.00,140.20 L312.55,138.95 L313.02,137.72 L313.11,137.47 L313.66,135.92 L314.04,134.85 L314.22,134.34 L314.77,132.74 L315.06,131.92 L315.32,131.15 L315.88,129.58 L316.08,129.02 L316.43,128.02 L316.98,126.48 L317.09,126.18 L317.54,124.97 L318.09,123.49 L318.11,123.43 L318.65,122.03 L319.13,120.78 L319.20,120.61 L319.75,119.21 L320.15,118.23 L320.31,117.85 L320.86,116.52 L321.17,115.79 L321.42,115.21 L321.97,113.94 L322.19,113.44 L322.52,112.70 L323.08,111.48 L323.21,111.20 L323.63,110.30 L324.18,109.14 L324.23,109.05 L324.74,108.01 L325.25,107.00 L325.29,106.91 L325.85,105.83 L326.26,105.03 L326.40,104.78 L326.95,103.75 L327.28,103.15 L327.51,102.75 L328.06,101.77 L328.30,101.35 L328.62,100.82 L329.17,99.88 L329.32,99.63 L329.72,98.97 L330.28,98.08 L330.34,97.98 L330.83,97.21 L331.36,96.40 L331.38,96.36 L331.94,95.54 L332.38,94.89 L332.49,94.72 L333.05,93.93 L333.40,93.44 L333.60,93.16 L334.42,92.05 L335.43,90.71 L336.45,89.43 L337.47,88.20 L338.49,87.01 L339.51,85.87 L340.53,84.78 L341.55,83.72 L342.57,82.70 L343.58,81.73 L344.60,80.78 L345.62,79.87 L346.64,78.99 L347.66,78.14 L348.68,77.32 L349.70,76.53 L350.72,75.76 L351.74,75.02 L352.75,74.30 L353.77,73.61 L354.79,72.93 L355.81,72.28 L356.83,71.65 L357.85,71.04 L358.87,70.44 L359.89,69.86 L360.91,69.30 L361.92,68.76 L362.94,68.23 L363.96,67.72 L364.98,67.22 L366.00,66.73 L367.02,66.26 L368.04,65.80 L369.06,65.35 L370.08,64.91 L371.09,64.49 L372.11,64.07 L373.13,63.67 L374.15,63.28 L375.17,62.89 L376.19,62.52 L377.21,62.15 L378.23,61.80 L379.25,61.45 L380.26,61.11 L381.28,60.78 L382.30,60.45 L383.32,60.14 L384.34,59.83 L385.36,59.53 L386.38,59.23 L387.40,58.94 L388.42,58.66 L389.43,58.38 L390.45,58.11 L391.47,57.85 L392.49,57.59 L393.51,57.33 L394.53,57.08 L395.55,56.84 L396.57,56.60 L397.58,56.37 L398.60,56.14 L399.62,55.91 L400.64,55.69 L401.66,55.47 L402.68,55.26 L403.70,55.05 L404.72,54.85 L405.74,54.65 L406.75,54.45 L407.77,54.26 L408.79,54.07 L409.81,53.88 L410.83,53.70 L411.85,53.52 L412.87,53.34 L413.89,53.17 L414.91,53.00 L415.92,52.83 L416.94,52.67 L417.96,52.51 L418.98,52.35 L420.00,52.19 L421.02,52.04 L422.04,51.89 L423.06,51.74 L424.08,51.59 L425.09,51.45 L426.11,51.31 L427.13,51.17 L428.15,51.03 L429.17,50.89 L430.19,50.76 L431.21,50.63 L432.23,50.50 L433.25,50.38 L434.26,50.25 L435.28,50.13 L436.30,50.01 L437.32,49.89 L438.34,49.77 L439.36,49.65 L440.38,49.54 L441.40,49.43 L442.42,49.32 L443.43,49.21 L444.45,49.10 L445.47,48.99 L446.49,48.89 L447.51,48.78 L448.53,48.68 L449.55,48.58 L450.57,48.48 L451.58,48.38 L452.60,48.29 L453.62,48.19 L454.64,48.10 L455.66,48.01 L456.68,47.91 L457.70,47.82 L458.72,47.74 L459.74,47.65 L460.75,47.56 L461.77,47.47 L462.79,47.39 L463.81,47.31 L464.83,47.22 L465.85,47.14 L466.87,47.06 L467.89,46.98 L468.91,46.90 L469.92,46.83 L470.94,46.75 L471.96,46.67 L472.98,46.60 L474.00,46.53" fill="none" stroke="#b8002f" stroke-width="2.2"/>
<clipPath id="bG"><path d="M312.00,137.80 L312.55,137.72 L313.02,137.55 L313.11,137.51 L313.66,137.19 L314.04,136.91 L314.22,136.77 L314.77,136.24 L315.06,135.94 L315.32,135.63 L315.88,134.94 L316.08,134.67 L316.43,134.16 L316.98,133.32 L317.09,133.14 L317.54,132.40 L318.09,131.42 L318.11,131.38 L318.65,130.38 L319.13,129.43 L319.20,129.29 L319.75,128.16 L320.15,127.32 L320.31,126.98 L320.86,125.76 L321.17,125.07 L321.42,124.51 L321.97,123.23 L322.19,122.72 L322.52,121.93 L323.08,120.60 L323.21,120.29 L323.63,119.26 L324.18,117.90 L324.23,117.80 L324.74,116.44 L325.25,115.08 L325.29,114.96 L325.85,113.47 L326.26,112.35 L326.40,111.98 L326.95,110.50 L327.28,109.62 L327.51,109.02 L328.06,107.54 L328.30,106.91 L328.62,106.15 L329.17,104.80 L329.32,104.43 L329.72,103.46 L330.28,102.14 L330.34,101.99 L330.83,100.83 L331.36,99.60 L331.38,99.54 L331.94,98.27 L332.38,97.27 L332.49,97.01 L333.05,95.77 L333.40,94.99 L333.60,94.55 L334.42,92.78 L335.43,90.64 L336.45,88.57 L337.47,86.57 L338.49,84.64 L339.51,82.78 L340.53,80.99 L341.55,79.26 L342.57,77.61 L343.58,76.02 L344.60,74.49 L345.62,73.03 L346.64,71.62 L347.66,70.28 L348.68,68.98 L349.70,67.74 L350.72,66.56 L351.74,65.42 L352.75,64.32 L353.77,63.28 L354.79,62.27 L355.81,61.31 L356.83,60.38 L357.85,59.49 L358.87,58.64 L359.89,57.82 L360.91,57.04 L361.92,56.28 L362.94,55.56 L363.96,54.86 L364.98,54.19 L366.00,53.54 L367.02,52.92 L368.04,52.33 L369.06,51.75 L370.08,51.20 L371.09,50.66 L372.11,50.15 L373.13,49.66 L374.15,49.18 L375.17,48.72 L376.19,48.27 L377.21,47.84 L378.23,47.43 L379.25,47.03 L380.26,46.64 L381.28,46.27 L382.30,45.91 L383.32,45.56 L384.34,45.22 L385.36,44.89 L386.38,44.57 L387.40,44.27 L388.42,43.97 L389.43,43.68 L390.45,43.40 L391.47,43.13 L392.49,42.87 L393.51,42.62 L394.53,42.37 L395.55,42.13 L396.57,41.90 L397.58,41.67 L398.60,41.46 L399.62,41.24 L400.64,41.04 L401.66,40.84 L402.68,40.64 L403.70,40.45 L404.72,40.27 L405.74,40.09 L406.75,39.91 L407.77,39.74 L408.79,39.58 L409.81,39.42 L410.83,39.28 L411.85,39.15 L412.87,39.01 L413.89,38.88 L414.91,38.76 L415.92,38.63 L416.94,38.52 L417.96,38.40 L418.98,38.29 L420.00,38.18 L421.02,38.07 L422.04,37.97 L423.06,37.87 L424.08,37.77 L425.09,37.68 L426.11,37.58 L427.13,37.49 L428.15,37.41 L429.17,37.32 L430.19,37.24 L431.21,37.16 L432.23,37.08 L433.25,37.00 L434.26,36.93 L435.28,36.85 L436.30,36.78 L437.32,36.71 L438.34,36.65 L439.36,36.58 L440.38,36.52 L441.40,36.46 L442.42,36.40 L443.43,36.34 L444.45,36.28 L445.47,36.22 L446.49,36.17 L447.51,36.12 L448.53,36.07 L449.55,36.02 L450.57,35.97 L451.58,35.92 L452.60,35.87 L453.62,35.83 L454.64,35.78 L455.66,35.74 L456.68,35.70 L457.70,35.66 L458.72,35.62 L459.74,35.58 L460.75,35.54 L461.77,35.51 L462.79,35.47 L463.81,35.43 L464.83,35.40 L465.85,35.37 L466.87,35.34 L467.89,35.30 L468.91,35.27 L469.92,35.24 L470.94,35.22 L471.96,35.19 L472.98,35.16 L474.00,35.13 L474.00,39.53 L472.98,39.59 L471.96,39.65 L470.94,39.71 L469.92,39.77 L468.91,39.83 L467.89,39.89 L466.87,39.96 L465.85,40.02 L464.83,40.08 L463.81,40.15 L462.79,40.22 L461.77,40.28 L460.75,40.35 L459.74,40.42 L458.72,40.49 L457.70,40.56 L456.68,40.63 L455.66,40.71 L454.64,40.78 L453.62,40.86 L452.60,40.93 L451.58,41.01 L450.57,41.09 L449.55,41.17 L448.53,41.25 L447.51,41.34 L446.49,41.42 L445.47,41.51 L444.45,41.59 L443.43,41.68 L442.42,41.77 L441.40,41.86 L440.38,41.96 L439.36,42.05 L438.34,42.15 L437.32,42.25 L436.30,42.35 L435.28,42.45 L434.26,42.55 L433.25,42.66 L432.23,42.77 L431.21,42.88 L430.19,42.99 L429.17,43.10 L428.15,43.22 L427.13,43.34 L426.11,43.46 L425.09,43.59 L424.08,43.71 L423.06,43.84 L422.04,43.97 L421.02,44.11 L420.00,44.25 L418.98,44.39 L417.96,44.53 L416.94,44.68 L415.92,44.83 L414.91,44.98 L413.89,45.14 L412.87,45.30 L411.85,45.46 L410.83,45.63 L409.81,45.81 L408.79,45.98 L407.77,46.14 L406.75,46.31 L405.74,46.49 L404.72,46.67 L403.70,46.85 L402.68,47.04 L401.66,47.24 L400.64,47.44 L399.62,47.64 L398.60,47.86 L397.58,48.07 L396.57,48.30 L395.55,48.53 L394.53,48.77 L393.51,49.02 L392.49,49.27 L391.47,49.53 L390.45,49.80 L389.43,50.08 L388.42,50.37 L387.40,50.67 L386.38,50.97 L385.36,51.29 L384.34,51.62 L383.32,51.96 L382.30,52.31 L381.28,52.67 L380.26,53.04 L379.25,53.43 L378.23,53.83 L377.21,54.24 L376.19,54.67 L375.17,55.12 L374.15,55.58 L373.13,56.06 L372.11,56.55 L371.09,57.06 L370.08,57.60 L369.06,58.15 L368.04,58.73 L367.02,59.32 L366.00,59.94 L364.98,60.59 L363.96,61.26 L362.94,61.96 L361.92,62.68 L360.91,63.44 L359.89,64.22 L358.87,65.04 L357.85,65.89 L356.83,66.78 L355.81,67.71 L354.79,68.67 L353.77,69.68 L352.75,70.72 L351.74,71.82 L350.72,72.96 L349.70,74.14 L348.68,75.38 L347.66,76.68 L346.64,78.02 L345.62,79.43 L344.60,80.89 L343.58,82.42 L342.57,84.01 L341.55,85.66 L340.53,87.39 L339.51,89.18 L338.49,91.04 L337.47,92.97 L336.45,94.97 L335.43,97.04 L334.42,99.18 L333.60,100.95 L333.40,101.39 L333.05,102.17 L332.49,103.41 L332.38,103.67 L331.94,104.67 L331.38,105.94 L331.36,106.00 L330.83,107.23 L330.34,108.39 L330.28,108.54 L329.72,109.86 L329.32,110.83 L329.17,111.20 L328.62,112.55 L328.30,113.31 L328.06,113.86 L327.51,115.12 L327.28,115.63 L326.95,116.38 L326.40,117.64 L326.26,117.96 L325.85,118.91 L325.29,120.18 L325.25,120.28 L324.74,121.44 L324.23,122.60 L324.18,122.70 L323.63,124.06 L323.21,125.09 L323.08,125.40 L322.52,126.73 L322.19,127.52 L321.97,128.03 L321.42,129.31 L321.17,129.87 L320.86,130.56 L320.31,131.78 L320.15,132.12 L319.75,132.96 L319.20,134.09 L319.13,134.23 L318.65,135.18 L318.11,136.18 L318.09,136.22 L317.54,137.20 L317.09,137.94 L316.98,138.12 L316.43,138.96 L316.08,139.47 L315.88,139.74 L315.32,140.43 L315.06,140.74 L314.77,141.04 L314.22,141.57 L314.04,141.71 L313.66,141.99 L313.11,142.31 L313.02,142.35 L312.55,142.52 L312.00,142.60 Z"/></clipPath>
<path d="M312.00,137.80 L312.55,137.72 L313.02,137.55 L313.11,137.51 L313.66,137.19 L314.04,136.91 L314.22,136.77 L314.77,136.24 L315.06,135.94 L315.32,135.63 L315.88,134.94 L316.08,134.67 L316.43,134.16 L316.98,133.32 L317.09,133.14 L317.54,132.40 L318.09,131.42 L318.11,131.38 L318.65,130.38 L319.13,129.43 L319.20,129.29 L319.75,128.16 L320.15,127.32 L320.31,126.98 L320.86,125.76 L321.17,125.07 L321.42,124.51 L321.97,123.23 L322.19,122.72 L322.52,121.93 L323.08,120.60 L323.21,120.29 L323.63,119.26 L324.18,117.90 L324.23,117.80 L324.74,116.44 L325.25,115.08 L325.29,114.96 L325.85,113.47 L326.26,112.35 L326.40,111.98 L326.95,110.50 L327.28,109.62 L327.51,109.02 L328.06,107.54 L328.30,106.91 L328.62,106.15 L329.17,104.80 L329.32,104.43 L329.72,103.46 L330.28,102.14 L330.34,101.99 L330.83,100.83 L331.36,99.60 L331.38,99.54 L331.94,98.27 L332.38,97.27 L332.49,97.01 L333.05,95.77 L333.40,94.99 L333.60,94.55 L334.42,92.78 L335.43,90.64 L336.45,88.57 L337.47,86.57 L338.49,84.64 L339.51,82.78 L340.53,80.99 L341.55,79.26 L342.57,77.61 L343.58,76.02 L344.60,74.49 L345.62,73.03 L346.64,71.62 L347.66,70.28 L348.68,68.98 L349.70,67.74 L350.72,66.56 L351.74,65.42 L352.75,64.32 L353.77,63.28 L354.79,62.27 L355.81,61.31 L356.83,60.38 L357.85,59.49 L358.87,58.64 L359.89,57.82 L360.91,57.04 L361.92,56.28 L362.94,55.56 L363.96,54.86 L364.98,54.19 L366.00,53.54 L367.02,52.92 L368.04,52.33 L369.06,51.75 L370.08,51.20 L371.09,50.66 L372.11,50.15 L373.13,49.66 L374.15,49.18 L375.17,48.72 L376.19,48.27 L377.21,47.84 L378.23,47.43 L379.25,47.03 L380.26,46.64 L381.28,46.27 L382.30,45.91 L383.32,45.56 L384.34,45.22 L385.36,44.89 L386.38,44.57 L387.40,44.27 L388.42,43.97 L389.43,43.68 L390.45,43.40 L391.47,43.13 L392.49,42.87 L393.51,42.62 L394.53,42.37 L395.55,42.13 L396.57,41.90 L397.58,41.67 L398.60,41.46 L399.62,41.24 L400.64,41.04 L401.66,40.84 L402.68,40.64 L403.70,40.45 L404.72,40.27 L405.74,40.09 L406.75,39.91 L407.77,39.74 L408.79,39.58 L409.81,39.42 L410.83,39.28 L411.85,39.15 L412.87,39.01 L413.89,38.88 L414.91,38.76 L415.92,38.63 L416.94,38.52 L417.96,38.40 L418.98,38.29 L420.00,38.18 L421.02,38.07 L422.04,37.97 L423.06,37.87 L424.08,37.77 L425.09,37.68 L426.11,37.58 L427.13,37.49 L428.15,37.41 L429.17,37.32 L430.19,37.24 L431.21,37.16 L432.23,37.08 L433.25,37.00 L434.26,36.93 L435.28,36.85 L436.30,36.78 L437.32,36.71 L438.34,36.65 L439.36,36.58 L440.38,36.52 L441.40,36.46 L442.42,36.40 L443.43,36.34 L444.45,36.28 L445.47,36.22 L446.49,36.17 L447.51,36.12 L448.53,36.07 L449.55,36.02 L450.57,35.97 L451.58,35.92 L452.60,35.87 L453.62,35.83 L454.64,35.78 L455.66,35.74 L456.68,35.70 L457.70,35.66 L458.72,35.62 L459.74,35.58 L460.75,35.54 L461.77,35.51 L462.79,35.47 L463.81,35.43 L464.83,35.40 L465.85,35.37 L466.87,35.34 L467.89,35.30 L468.91,35.27 L469.92,35.24 L470.94,35.22 L471.96,35.19 L472.98,35.16 L474.00,35.13 L474.00,39.53 L472.98,39.59 L471.96,39.65 L470.94,39.71 L469.92,39.77 L468.91,39.83 L467.89,39.89 L466.87,39.96 L465.85,40.02 L464.83,40.08 L463.81,40.15 L462.79,40.22 L461.77,40.28 L460.75,40.35 L459.74,40.42 L458.72,40.49 L457.70,40.56 L456.68,40.63 L455.66,40.71 L454.64,40.78 L453.62,40.86 L452.60,40.93 L451.58,41.01 L450.57,41.09 L449.55,41.17 L448.53,41.25 L447.51,41.34 L446.49,41.42 L445.47,41.51 L444.45,41.59 L443.43,41.68 L442.42,41.77 L441.40,41.86 L440.38,41.96 L439.36,42.05 L438.34,42.15 L437.32,42.25 L436.30,42.35 L435.28,42.45 L434.26,42.55 L433.25,42.66 L432.23,42.77 L431.21,42.88 L430.19,42.99 L429.17,43.10 L428.15,43.22 L427.13,43.34 L426.11,43.46 L425.09,43.59 L424.08,43.71 L423.06,43.84 L422.04,43.97 L421.02,44.11 L420.00,44.25 L418.98,44.39 L417.96,44.53 L416.94,44.68 L415.92,44.83 L414.91,44.98 L413.89,45.14 L412.87,45.30 L411.85,45.46 L410.83,45.63 L409.81,45.81 L408.79,45.98 L407.77,46.14 L406.75,46.31 L405.74,46.49 L404.72,46.67 L403.70,46.85 L402.68,47.04 L401.66,47.24 L400.64,47.44 L399.62,47.64 L398.60,47.86 L397.58,48.07 L396.57,48.30 L395.55,48.53 L394.53,48.77 L393.51,49.02 L392.49,49.27 L391.47,49.53 L390.45,49.80 L389.43,50.08 L388.42,50.37 L387.40,50.67 L386.38,50.97 L385.36,51.29 L384.34,51.62 L383.32,51.96 L382.30,52.31 L381.28,52.67 L380.26,53.04 L379.25,53.43 L378.23,53.83 L377.21,54.24 L376.19,54.67 L375.17,55.12 L374.15,55.58 L373.13,56.06 L372.11,56.55 L371.09,57.06 L370.08,57.60 L369.06,58.15 L368.04,58.73 L367.02,59.32 L366.00,59.94 L364.98,60.59 L363.96,61.26 L362.94,61.96 L361.92,62.68 L360.91,63.44 L359.89,64.22 L358.87,65.04 L357.85,65.89 L356.83,66.78 L355.81,67.71 L354.79,68.67 L353.77,69.68 L352.75,70.72 L351.74,71.82 L350.72,72.96 L349.70,74.14 L348.68,75.38 L347.66,76.68 L346.64,78.02 L345.62,79.43 L344.60,80.89 L343.58,82.42 L342.57,84.01 L341.55,85.66 L340.53,87.39 L339.51,89.18 L338.49,91.04 L337.47,92.97 L336.45,94.97 L335.43,97.04 L334.42,99.18 L333.60,100.95 L333.40,101.39 L333.05,102.17 L332.49,103.41 L332.38,103.67 L331.94,104.67 L331.38,105.94 L331.36,106.00 L330.83,107.23 L330.34,108.39 L330.28,108.54 L329.72,109.86 L329.32,110.83 L329.17,111.20 L328.62,112.55 L328.30,113.31 L328.06,113.86 L327.51,115.12 L327.28,115.63 L326.95,116.38 L326.40,117.64 L326.26,117.96 L325.85,118.91 L325.29,120.18 L325.25,120.28 L324.74,121.44 L324.23,122.60 L324.18,122.70 L323.63,124.06 L323.21,125.09 L323.08,125.40 L322.52,126.73 L322.19,127.52 L321.97,128.03 L321.42,129.31 L321.17,129.87 L320.86,130.56 L320.31,131.78 L320.15,132.12 L319.75,132.96 L319.20,134.09 L319.13,134.23 L318.65,135.18 L318.11,136.18 L318.09,136.22 L317.54,137.20 L317.09,137.94 L316.98,138.12 L316.43,138.96 L316.08,139.47 L315.88,139.74 L315.32,140.43 L315.06,140.74 L314.77,141.04 L314.22,141.57 L314.04,141.71 L313.66,141.99 L313.11,142.31 L313.02,142.35 L312.55,142.52 L312.00,142.60 Z" fill="#8ad88a"/>
<path d="M312.90,33.1V144.6M314.70,33.1V144.6M316.50,33.1V144.6M318.30,33.1V144.6M320.10,33.1V144.6M321.90,33.1V144.6M323.70,33.1V144.6M325.50,33.1V144.6M327.30,33.1V144.6M329.10,33.1V144.6M330.90,33.1V144.6M332.70,33.1V144.6M334.50,33.1V144.6M336.30,33.1V144.6M338.10,33.1V144.6M339.90,33.1V144.6M341.70,33.1V144.6M343.50,33.1V144.6M345.30,33.1V144.6M347.10,33.1V144.6M348.90,33.1V144.6M350.70,33.1V144.6M352.50,33.1V144.6M354.30,33.1V144.6M356.10,33.1V144.6M357.90,33.1V144.6M359.70,33.1V144.6M361.50,33.1V144.6M363.30,33.1V144.6M365.10,33.1V144.6M366.90,33.1V144.6M368.70,33.1V144.6M370.50,33.1V144.6M372.30,33.1V144.6M374.10,33.1V144.6M375.90,33.1V144.6M377.70,33.1V144.6M379.50,33.1V144.6M381.30,33.1V144.6M383.10,33.1V144.6M384.90,33.1V144.6M386.70,33.1V144.6M388.50,33.1V144.6M390.30,33.1V144.6M392.10,33.1V144.6M393.90,33.1V144.6M395.70,33.1V144.6M397.50,33.1V144.6M399.30,33.1V144.6M401.10,33.1V144.6M402.90,33.1V144.6M404.70,33.1V144.6M406.50,33.1V144.6M408.30,33.1V144.6M410.10,33.1V144.6M411.90,33.1V144.6M413.70,33.1V144.6M415.50,33.1V144.6M417.30,33.1V144.6M419.10,33.1V144.6M420.90,33.1V144.6M422.70,33.1V144.6M424.50,33.1V144.6M426.30,33.1V144.6M428.10,33.1V144.6M429.90,33.1V144.6M431.70,33.1V144.6M433.50,33.1V144.6M435.30,33.1V144.6M437.10,33.1V144.6M438.90,33.1V144.6M440.70,33.1V144.6M442.50,33.1V144.6M444.30,33.1V144.6M446.10,33.1V144.6M447.90,33.1V144.6M449.70,33.1V144.6M451.50,33.1V144.6M453.30,33.1V144.6M455.10,33.1V144.6M456.90,33.1V144.6M458.70,33.1V144.6M460.50,33.1V144.6M462.30,33.1V144.6M464.10,33.1V144.6M465.90,33.1V144.6M467.70,33.1V144.6M469.50,33.1V144.6M471.30,33.1V144.6M473.10,33.1V144.6" stroke="#d8f8d8" stroke-opacity="0.55" stroke-width="0.7" clip-path="url(#bG)"/>
<path d="M310.30,137.80h3.4M310.30,142.60h3.4M311.96,137.19h3.4M311.96,141.99h3.4M313.62,135.63h3.4M313.62,140.43h3.4M315.28,133.32h3.4M315.28,138.12h3.4M316.95,130.38h3.4M316.95,135.18h3.4M318.61,126.98h3.4M318.61,131.78h3.4M320.27,123.23h3.4M320.27,128.03h3.4M321.93,119.26h3.4M321.93,124.06h3.4M323.55,115.08h3.4M323.55,120.28h3.4M325.25,110.50h3.4M325.25,116.38h3.4M326.92,106.15h3.4M326.92,112.55h3.4M328.58,102.14h3.4M328.58,108.54h3.4M330.24,98.27h3.4M330.24,104.67h3.4M331.90,94.55h3.4M331.90,100.95h3.4M333.73,90.64h3.4M333.73,97.04h3.4M335.77,86.57h3.4M335.77,92.97h3.4M337.81,82.78h3.4M337.81,89.18h3.4M339.85,79.26h3.4M339.85,85.66h3.4M341.88,76.02h3.4M341.88,82.42h3.4M343.92,73.03h3.4M343.92,79.43h3.4M345.96,70.28h3.4M345.96,76.68h3.4M348.00,67.74h3.4M348.00,74.14h3.4M350.04,65.42h3.4M350.04,71.82h3.4M352.07,63.28h3.4M352.07,69.68h3.4M354.11,61.31h3.4M354.11,67.71h3.4M356.15,59.49h3.4M356.15,65.89h3.4M358.19,57.82h3.4M358.19,64.22h3.4M360.22,56.28h3.4M360.22,62.68h3.4M362.26,54.86h3.4M362.26,61.26h3.4M364.30,53.54h3.4M364.30,59.94h3.4M366.34,52.33h3.4M366.34,58.73h3.4M368.38,51.20h3.4M368.38,57.60h3.4M370.41,50.15h3.4M370.41,56.55h3.4M372.45,49.18h3.4M372.45,55.58h3.4M374.49,48.27h3.4M374.49,54.67h3.4M376.53,47.43h3.4M376.53,53.83h3.4M378.56,46.64h3.4M378.56,53.04h3.4M380.60,45.91h3.4M380.60,52.31h3.4M382.64,45.22h3.4M382.64,51.62h3.4M384.68,44.57h3.4M384.68,50.97h3.4M386.72,43.97h3.4M386.72,50.37h3.4M388.75,43.40h3.4M388.75,49.80h3.4M390.79,42.87h3.4M390.79,49.27h3.4M392.83,42.37h3.4M392.83,48.77h3.4M394.87,41.90h3.4M394.87,48.30h3.4M396.90,41.46h3.4M396.90,47.86h3.4M398.94,41.04h3.4M398.94,47.44h3.4M400.98,40.64h3.4M400.98,47.04h3.4M403.02,40.27h3.4M403.02,46.67h3.4M405.05,39.91h3.4M405.05,46.31h3.4M407.09,39.58h3.4M407.09,45.98h3.4M409.13,39.28h3.4M409.13,45.63h3.4M411.17,39.01h3.4M411.17,45.30h3.4M413.21,38.76h3.4M413.21,44.98h3.4M415.24,38.52h3.4M415.24,44.68h3.4M417.28,38.29h3.4M417.28,44.39h3.4M419.32,38.07h3.4M419.32,44.11h3.4M421.36,37.87h3.4M421.36,43.84h3.4M423.39,37.68h3.4M423.39,43.59h3.4M425.43,37.49h3.4M425.43,43.34h3.4M427.47,37.32h3.4M427.47,43.10h3.4M429.51,37.16h3.4M429.51,42.88h3.4M431.55,37.00h3.4M431.55,42.66h3.4M433.58,36.85h3.4M433.58,42.45h3.4M435.62,36.71h3.4M435.62,42.25h3.4M437.66,36.58h3.4M437.66,42.05h3.4M439.70,36.46h3.4M439.70,41.86h3.4M441.73,36.34h3.4M441.73,41.68h3.4M443.77,36.22h3.4M443.77,41.51h3.4M445.81,36.12h3.4M445.81,41.34h3.4M447.85,36.02h3.4M447.85,41.17h3.4M449.88,35.92h3.4M449.88,41.01h3.4M451.92,35.83h3.4M451.92,40.86h3.4M453.96,35.74h3.4M453.96,40.71h3.4M456.00,35.66h3.4M456.00,40.56h3.4M458.04,35.58h3.4M458.04,40.42h3.4M460.07,35.51h3.4M460.07,40.28h3.4M462.11,35.43h3.4M462.11,40.15h3.4M464.15,35.37h3.4M464.15,40.02h3.4M466.19,35.30h3.4M466.19,39.89h3.4M468.22,35.24h3.4M468.22,39.77h3.4M470.26,35.19h3.4M470.26,39.65h3.4M472.30,35.13h3.4M472.30,39.53h3.4" stroke="#6cc66c" stroke-width="0.7" fill="none"/>
<path d="M312.00,139.00 L312.55,138.92 L313.02,138.75 L313.11,138.71 L313.66,138.39 L314.04,138.11 L314.22,137.97 L314.77,137.44 L315.06,137.14 L315.32,136.83 L315.88,136.14 L316.08,135.87 L316.43,135.36 L316.98,134.52 L317.09,134.34 L317.54,133.60 L318.09,132.62 L318.11,132.58 L318.65,131.58 L319.13,130.63 L319.20,130.49 L319.75,129.36 L320.15,128.52 L320.31,128.18 L320.86,126.96 L321.17,126.27 L321.42,125.71 L321.97,124.43 L322.19,123.92 L322.52,123.13 L323.08,121.80 L323.21,121.49 L323.63,120.46 L324.18,119.10 L324.23,119.00 L324.74,117.69 L325.25,116.38 L325.29,116.26 L325.85,114.83 L326.26,113.75 L326.40,113.40 L326.95,111.97 L327.28,111.12 L327.51,110.54 L328.06,109.12 L328.30,108.51 L328.62,107.75 L329.17,106.40 L329.32,106.03 L329.72,105.06 L330.28,103.74 L330.34,103.59 L330.83,102.43 L331.36,101.20 L331.38,101.14 L331.94,99.87 L332.38,98.87 L332.49,98.61 L333.05,97.37 L333.40,96.59 L333.60,96.15 L334.42,94.38 L335.43,92.24 L336.45,90.17 L337.47,88.17 L338.49,86.24 L339.51,84.38 L340.53,82.59 L341.55,80.86 L342.57,79.21 L343.58,77.62 L344.60,76.09 L345.62,74.63 L346.64,73.22 L347.66,71.88 L348.68,70.58 L349.70,69.34 L350.72,68.16 L351.74,67.02 L352.75,65.92 L353.77,64.88 L354.79,63.87 L355.81,62.91 L356.83,61.98 L357.85,61.09 L358.87,60.24 L359.89,59.42 L360.91,58.64 L361.92,57.88 L362.94,57.16 L363.96,56.46 L364.98,55.79 L366.00,55.14 L367.02,54.52 L368.04,53.93 L369.06,53.35 L370.08,52.80 L371.09,52.26 L372.11,51.75 L373.13,51.26 L374.15,50.78 L375.17,50.32 L376.19,49.87 L377.21,49.44 L378.23,49.03 L379.25,48.63 L380.26,48.24 L381.28,47.87 L382.30,47.51 L383.32,47.16 L384.34,46.82 L385.36,46.49 L386.38,46.17 L387.40,45.87 L388.42,45.57 L389.43,45.28 L390.45,45.00 L391.47,44.73 L392.49,44.47 L393.51,44.22 L394.53,43.97 L395.55,43.73 L396.57,43.50 L397.58,43.27 L398.60,43.06 L399.62,42.84 L400.64,42.64 L401.66,42.44 L402.68,42.24 L403.70,42.05 L404.72,41.87 L405.74,41.69 L406.75,41.51 L407.77,41.34 L408.79,41.18 L409.81,41.02 L410.83,40.87 L411.85,40.73 L412.87,40.58 L413.89,40.45 L414.91,40.31 L415.92,40.18 L416.94,40.06 L417.96,39.93 L418.98,39.81 L420.00,39.70 L421.02,39.58 L422.04,39.47 L423.06,39.36 L424.08,39.26 L425.09,39.15 L426.11,39.05 L427.13,38.95 L428.15,38.86 L429.17,38.77 L430.19,38.68 L431.21,38.59 L432.23,38.50 L433.25,38.42 L434.26,38.33 L435.28,38.25 L436.30,38.17 L437.32,38.10 L438.34,38.02 L439.36,37.95 L440.38,37.88 L441.40,37.81 L442.42,37.74 L443.43,37.67 L444.45,37.61 L445.47,37.54 L446.49,37.48 L447.51,37.42 L448.53,37.36 L449.55,37.30 L450.57,37.25 L451.58,37.19 L452.60,37.14 L453.62,37.08 L454.64,37.03 L455.66,36.98 L456.68,36.93 L457.70,36.88 L458.72,36.84 L459.74,36.79 L460.75,36.74 L461.77,36.70 L462.79,36.66 L463.81,36.61 L464.83,36.57 L465.85,36.53 L466.87,36.49 L467.89,36.45 L468.91,36.41 L469.92,36.38 L470.94,36.34 L471.96,36.30 L472.98,36.27 L474.00,36.23" fill="none" stroke="#e0f8e0" stroke-opacity="0.55" stroke-width="0.9" clip-path="url(#bG)"/>
<path d="M312.00,141.40 L312.55,141.32 L313.02,141.15 L313.11,141.11 L313.66,140.79 L314.04,140.51 L314.22,140.37 L314.77,139.84 L315.06,139.54 L315.32,139.23 L315.88,138.54 L316.08,138.27 L316.43,137.76 L316.98,136.92 L317.09,136.74 L317.54,136.00 L318.09,135.02 L318.11,134.98 L318.65,133.98 L319.13,133.03 L319.20,132.89 L319.75,131.76 L320.15,130.92 L320.31,130.58 L320.86,129.36 L321.17,128.67 L321.42,128.11 L321.97,126.83 L322.19,126.32 L322.52,125.53 L323.08,124.20 L323.21,123.89 L323.63,122.86 L324.18,121.50 L324.23,121.40 L324.74,120.19 L325.25,118.98 L325.29,118.87 L325.85,117.55 L326.26,116.55 L326.40,116.23 L326.95,114.91 L327.28,114.13 L327.51,113.59 L328.06,112.28 L328.30,111.71 L328.62,110.95 L329.17,109.60 L329.32,109.23 L329.72,108.26 L330.28,106.94 L330.34,106.79 L330.83,105.63 L331.36,104.40 L331.38,104.34 L331.94,103.07 L332.38,102.07 L332.49,101.81 L333.05,100.57 L333.40,99.79 L333.60,99.35 L334.42,97.58 L335.43,95.44 L336.45,93.37 L337.47,91.37 L338.49,89.44 L339.51,87.58 L340.53,85.79 L341.55,84.06 L342.57,82.41 L343.58,80.82 L344.60,79.29 L345.62,77.83 L346.64,76.42 L347.66,75.08 L348.68,73.78 L349.70,72.54 L350.72,71.36 L351.74,70.22 L352.75,69.12 L353.77,68.08 L354.79,67.07 L355.81,66.11 L356.83,65.18 L357.85,64.29 L358.87,63.44 L359.89,62.62 L360.91,61.84 L361.92,61.08 L362.94,60.36 L363.96,59.66 L364.98,58.99 L366.00,58.34 L367.02,57.72 L368.04,57.13 L369.06,56.55 L370.08,56.00 L371.09,55.46 L372.11,54.95 L373.13,54.46 L374.15,53.98 L375.17,53.52 L376.19,53.07 L377.21,52.64 L378.23,52.23 L379.25,51.83 L380.26,51.44 L381.28,51.07 L382.30,50.71 L383.32,50.36 L384.34,50.02 L385.36,49.69 L386.38,49.37 L387.40,49.07 L388.42,48.77 L389.43,48.48 L390.45,48.20 L391.47,47.93 L392.49,47.67 L393.51,47.42 L394.53,47.17 L395.55,46.93 L396.57,46.70 L397.58,46.47 L398.60,46.26 L399.62,46.04 L400.64,45.84 L401.66,45.64 L402.68,45.44 L403.70,45.25 L404.72,45.07 L405.74,44.89 L406.75,44.71 L407.77,44.54 L408.79,44.38 L409.81,44.21 L410.83,44.05 L411.85,43.88 L412.87,43.73 L413.89,43.57 L414.91,43.42 L415.92,43.28 L416.94,43.14 L417.96,43.00 L418.98,42.86 L420.00,42.73 L421.02,42.60 L422.04,42.47 L423.06,42.35 L424.08,42.23 L425.09,42.11 L426.11,41.99 L427.13,41.88 L428.15,41.77 L429.17,41.66 L430.19,41.55 L431.21,41.45 L432.23,41.34 L433.25,41.24 L434.26,41.15 L435.28,41.05 L436.30,40.96 L437.32,40.86 L438.34,40.77 L439.36,40.68 L440.38,40.60 L441.40,40.51 L442.42,40.43 L443.43,40.35 L444.45,40.26 L445.47,40.19 L446.49,40.11 L447.51,40.03 L448.53,39.96 L449.55,39.88 L450.57,39.81 L451.58,39.74 L452.60,39.67 L453.62,39.60 L454.64,39.53 L455.66,39.47 L456.68,39.40 L457.70,39.34 L458.72,39.27 L459.74,39.21 L460.75,39.15 L461.77,39.09 L462.79,39.03 L463.81,38.97 L464.83,38.91 L465.85,38.86 L466.87,38.80 L467.89,38.75 L468.91,38.69 L469.92,38.64 L470.94,38.59 L471.96,38.53 L472.98,38.48 L474.00,38.43" fill="none" stroke="#e0f8e0" stroke-opacity="0.55" stroke-width="0.9" clip-path="url(#bG)"/>
<path d="M312.00,137.80 L312.55,137.72 L313.02,137.55 L313.11,137.51 L313.66,137.19 L314.04,136.91 L314.22,136.77 L314.77,136.24 L315.06,135.94 L315.32,135.63 L315.88,134.94 L316.08,134.67 L316.43,134.16 L316.98,133.32 L317.09,133.14 L317.54,132.40 L318.09,131.42 L318.11,131.38 L318.65,130.38 L319.13,129.43 L319.20,129.29 L319.75,128.16 L320.15,127.32 L320.31,126.98 L320.86,125.76 L321.17,125.07 L321.42,124.51 L321.97,123.23 L322.19,122.72 L322.52,121.93 L323.08,120.60 L323.21,120.29 L323.63,119.26 L324.18,117.90 L324.23,117.80 L324.74,116.44 L325.25,115.08 L325.29,114.96 L325.85,113.47 L326.26,112.35 L326.40,111.98 L326.95,110.50 L327.28,109.62 L327.51,109.02 L328.06,107.54 L328.30,106.91 L328.62,106.15 L329.17,104.80 L329.32,104.43 L329.72,103.46 L330.28,102.14 L330.34,101.99 L330.83,100.83 L331.36,99.60 L331.38,99.54 L331.94,98.27 L332.38,97.27 L332.49,97.01 L333.05,95.77 L333.40,94.99 L333.60,94.55 L334.42,92.78 L335.43,90.64 L336.45,88.57 L337.47,86.57 L338.49,84.64 L339.51,82.78 L340.53,80.99 L341.55,79.26 L342.57,77.61 L343.58,76.02 L344.60,74.49 L345.62,73.03 L346.64,71.62 L347.66,70.28 L348.68,68.98 L349.70,67.74 L350.72,66.56 L351.74,65.42 L352.75,64.32 L353.77,63.28 L354.79,62.27 L355.81,61.31 L356.83,60.38 L357.85,59.49 L358.87,58.64 L359.89,57.82 L360.91,57.04 L361.92,56.28 L362.94,55.56 L363.96,54.86 L364.98,54.19 L366.00,53.54 L367.02,52.92 L368.04,52.33 L369.06,51.75 L370.08,51.20 L371.09,50.66 L372.11,50.15 L373.13,49.66 L374.15,49.18 L375.17,48.72 L376.19,48.27 L377.21,47.84 L378.23,47.43 L379.25,47.03 L380.26,46.64 L381.28,46.27 L382.30,45.91 L383.32,45.56 L384.34,45.22 L385.36,44.89 L386.38,44.57 L387.40,44.27 L388.42,43.97 L389.43,43.68 L390.45,43.40 L391.47,43.13 L392.49,42.87 L393.51,42.62 L394.53,42.37 L395.55,42.13 L396.57,41.90 L397.58,41.67 L398.60,41.46 L399.62,41.24 L400.64,41.04 L401.66,40.84 L402.68,40.64 L403.70,40.45 L404.72,40.27 L405.74,40.09 L406.75,39.91 L407.77,39.74 L408.79,39.58 L409.81,39.42 L410.83,39.28 L411.85,39.15 L412.87,39.01 L413.89,38.88 L414.91,38.76 L415.92,38.63 L416.94,38.52 L417.96,38.40 L418.98,38.29 L420.00,38.18 L421.02,38.07 L422.04,37.97 L423.06,37.87 L424.08,37.77 L425.09,37.68 L426.11,37.58 L427.13,37.49 L428.15,37.41 L429.17,37.32 L430.19,37.24 L431.21,37.16 L432.23,37.08 L433.25,37.00 L434.26,36.93 L435.28,36.85 L436.30,36.78 L437.32,36.71 L438.34,36.65 L439.36,36.58 L440.38,36.52 L441.40,36.46 L442.42,36.40 L443.43,36.34 L444.45,36.28 L445.47,36.22 L446.49,36.17 L447.51,36.12 L448.53,36.07 L449.55,36.02 L450.57,35.97 L451.58,35.92 L452.60,35.87 L453.62,35.83 L454.64,35.78 L455.66,35.74 L456.68,35.70 L457.70,35.66 L458.72,35.62 L459.74,35.58 L460.75,35.54 L461.77,35.51 L462.79,35.47 L463.81,35.43 L464.83,35.40 L465.85,35.37 L466.87,35.34 L467.89,35.30 L468.91,35.27 L469.92,35.24 L470.94,35.22 L471.96,35.19 L472.98,35.16 L474.00,35.13" fill="none" stroke="#38ac48" stroke-width="0.8"/>
<path d="M312.00,142.60 L312.55,142.52 L313.02,142.35 L313.11,142.31 L313.66,141.99 L314.04,141.71 L314.22,141.57 L314.77,141.04 L315.06,140.74 L315.32,140.43 L315.88,139.74 L316.08,139.47 L316.43,138.96 L316.98,138.12 L317.09,137.94 L317.54,137.20 L318.09,136.22 L318.11,136.18 L318.65,135.18 L319.13,134.23 L319.20,134.09 L319.75,132.96 L320.15,132.12 L320.31,131.78 L320.86,130.56 L321.17,129.87 L321.42,129.31 L321.97,128.03 L322.19,127.52 L322.52,126.73 L323.08,125.40 L323.21,125.09 L323.63,124.06 L324.18,122.70 L324.23,122.60 L324.74,121.44 L325.25,120.28 L325.29,120.18 L325.85,118.91 L326.26,117.96 L326.40,117.64 L326.95,116.38 L327.28,115.63 L327.51,115.12 L328.06,113.86 L328.30,113.31 L328.62,112.55 L329.17,111.20 L329.32,110.83 L329.72,109.86 L330.28,108.54 L330.34,108.39 L330.83,107.23 L331.36,106.00 L331.38,105.94 L331.94,104.67 L332.38,103.67 L332.49,103.41 L333.05,102.17 L333.40,101.39 L333.60,100.95 L334.42,99.18 L335.43,97.04 L336.45,94.97 L337.47,92.97 L338.49,91.04 L339.51,89.18 L340.53,87.39 L341.55,85.66 L342.57,84.01 L343.58,82.42 L344.60,80.89 L345.62,79.43 L346.64,78.02 L347.66,76.68 L348.68,75.38 L349.70,74.14 L350.72,72.96 L351.74,71.82 L352.75,70.72 L353.77,69.68 L354.79,68.67 L355.81,67.71 L356.83,66.78 L357.85,65.89 L358.87,65.04 L359.89,64.22 L360.91,63.44 L361.92,62.68 L362.94,61.96 L363.96,61.26 L364.98,60.59 L366.00,59.94 L367.02,59.32 L368.04,58.73 L369.06,58.15 L370.08,57.60 L371.09,57.06 L372.11,56.55 L373.13,56.06 L374.15,55.58 L375.17,55.12 L376.19,54.67 L377.21,54.24 L378.23,53.83 L379.25,53.43 L380.26,53.04 L381.28,52.67 L382.30,52.31 L383.32,51.96 L384.34,51.62 L385.36,51.29 L386.38,50.97 L387.40,50.67 L388.42,50.37 L389.43,50.08 L390.45,49.80 L391.47,49.53 L392.49,49.27 L393.51,49.02 L394.53,48.77 L395.55,48.53 L396.57,48.30 L397.58,48.07 L398.60,47.86 L399.62,47.64 L400.64,47.44 L401.66,47.24 L402.68,47.04 L403.70,46.85 L404.72,46.67 L405.74,46.49 L406.75,46.31 L407.77,46.14 L408.79,45.98 L409.81,45.81 L410.83,45.63 L411.85,45.46 L412.87,45.30 L413.89,45.14 L414.91,44.98 L415.92,44.83 L416.94,44.68 L417.96,44.53 L418.98,44.39 L420.00,44.25 L421.02,44.11 L422.04,43.97 L423.06,43.84 L424.08,43.71 L425.09,43.59 L426.11,43.46 L427.13,43.34 L428.15,43.22 L429.17,43.10 L430.19,42.99 L431.21,42.88 L432.23,42.77 L433.25,42.66 L434.26,42.55 L435.28,42.45 L436.30,42.35 L437.32,42.25 L438.34,42.15 L439.36,42.05 L440.38,41.96 L441.40,41.86 L442.42,41.77 L443.43,41.68 L444.45,41.59 L445.47,41.51 L446.49,41.42 L447.51,41.34 L448.53,41.25 L449.55,41.17 L450.57,41.09 L451.58,41.01 L452.60,40.93 L453.62,40.86 L454.64,40.78 L455.66,40.71 L456.68,40.63 L457.70,40.56 L458.72,40.49 L459.74,40.42 L460.75,40.35 L461.77,40.28 L462.79,40.22 L463.81,40.15 L464.83,40.08 L465.85,40.02 L466.87,39.96 L467.89,39.89 L468.91,39.83 L469.92,39.77 L470.94,39.71 L471.96,39.65 L472.98,39.59 L474.00,39.53" fill="none" stroke="#38ac48" stroke-width="0.8"/>
<path d="M312.00,140.20 L312.55,140.12 L313.02,139.95 L313.11,139.91 L313.66,139.59 L314.04,139.31 L314.22,139.17 L314.77,138.64 L315.06,138.34 L315.32,138.03 L315.88,137.34 L316.08,137.07 L316.43,136.56 L316.98,135.72 L317.09,135.54 L317.54,134.80 L318.09,133.82 L318.11,133.78 L318.65,132.78 L319.13,131.83 L319.20,131.69 L319.75,130.56 L320.15,129.72 L320.31,129.38 L320.86,128.16 L321.17,127.47 L321.42,126.91 L321.97,125.63 L322.19,125.12 L322.52,124.33 L323.08,123.00 L323.21,122.69 L323.63,121.66 L324.18,120.30 L324.23,120.20 L324.74,118.94 L325.25,117.68 L325.29,117.57 L325.85,116.19 L326.26,115.15 L326.40,114.81 L326.95,113.44 L327.28,112.62 L327.51,112.07 L328.06,110.70 L328.30,110.11 L328.62,109.35 L329.17,108.00 L329.32,107.63 L329.72,106.66 L330.28,105.34 L330.34,105.19 L330.83,104.03 L331.36,102.80 L331.38,102.74 L331.94,101.47 L332.38,100.47 L332.49,100.21 L333.05,98.97 L333.40,98.19 L333.60,97.75 L334.42,95.98 L335.43,93.84 L336.45,91.77 L337.47,89.77 L338.49,87.84 L339.51,85.98 L340.53,84.19 L341.55,82.46 L342.57,80.81 L343.58,79.22 L344.60,77.69 L345.62,76.23 L346.64,74.82 L347.66,73.48 L348.68,72.18 L349.70,70.94 L350.72,69.76 L351.74,68.62 L352.75,67.52 L353.77,66.48 L354.79,65.47 L355.81,64.51 L356.83,63.58 L357.85,62.69 L358.87,61.84 L359.89,61.02 L360.91,60.24 L361.92,59.48 L362.94,58.76 L363.96,58.06 L364.98,57.39 L366.00,56.74 L367.02,56.12 L368.04,55.53 L369.06,54.95 L370.08,54.40 L371.09,53.86 L372.11,53.35 L373.13,52.86 L374.15,52.38 L375.17,51.92 L376.19,51.47 L377.21,51.04 L378.23,50.63 L379.25,50.23 L380.26,49.84 L381.28,49.47 L382.30,49.11 L383.32,48.76 L384.34,48.42 L385.36,48.09 L386.38,47.77 L387.40,47.47 L388.42,47.17 L389.43,46.88 L390.45,46.60 L391.47,46.33 L392.49,46.07 L393.51,45.82 L394.53,45.57 L395.55,45.33 L396.57,45.10 L397.58,44.87 L398.60,44.66 L399.62,44.44 L400.64,44.24 L401.66,44.04 L402.68,43.84 L403.70,43.65 L404.72,43.47 L405.74,43.29 L406.75,43.11 L407.77,42.94 L408.79,42.78 L409.81,42.61 L410.83,42.46 L411.85,42.30 L412.87,42.16 L413.89,42.01 L414.91,41.87 L415.92,41.73 L416.94,41.60 L417.96,41.46 L418.98,41.34 L420.00,41.21 L421.02,41.09 L422.04,40.97 L423.06,40.85 L424.08,40.74 L425.09,40.63 L426.11,40.52 L427.13,40.42 L428.15,40.31 L429.17,40.21 L430.19,40.11 L431.21,40.02 L432.23,39.92 L433.25,39.83 L434.26,39.74 L435.28,39.65 L436.30,39.57 L437.32,39.48 L438.34,39.40 L439.36,39.32 L440.38,39.24 L441.40,39.16 L442.42,39.08 L443.43,39.01 L444.45,38.94 L445.47,38.87 L446.49,38.79 L447.51,38.73 L448.53,38.66 L449.55,38.59 L450.57,38.53 L451.58,38.47 L452.60,38.40 L453.62,38.34 L454.64,38.28 L455.66,38.22 L456.68,38.17 L457.70,38.11 L458.72,38.05 L459.74,38.00 L460.75,37.95 L461.77,37.89 L462.79,37.84 L463.81,37.79 L464.83,37.74 L465.85,37.69 L466.87,37.65 L467.89,37.60 L468.91,37.55 L469.92,37.51 L470.94,37.46 L471.96,37.42 L472.98,37.38 L474.00,37.33" fill="none" stroke="#1f9a30" stroke-width="1.3"/>
<path d="M312.00,84.00 L312.41,81.07 L312.81,78.29 L313.22,75.69 L313.62,73.29 L314.03,71.03 L314.44,68.90 L314.84,66.90 L315.25,65.03 L315.65,63.26 L316.06,61.53 L316.47,59.86 L316.87,58.25 L317.28,56.72 L317.68,55.28 L318.09,53.93 L318.50,52.70 L318.90,51.54 L319.31,50.40 L319.71,49.34 L320.12,48.40 L320.53,47.66 L320.93,47.16 L321.34,46.73 L321.74,46.37 L322.15,46.11 L322.56,46.00 L322.96,46.15 L323.37,46.61 L323.77,47.31 L324.18,48.16 L324.59,49.08 L324.99,49.98 L325.40,50.91 L325.80,51.94 L326.21,53.09 L326.62,54.34 L327.02,55.69 L327.43,57.14 L327.83,58.83 L328.24,60.90 L328.65,63.01 L329.05,64.82 L329.46,66.20 L329.86,67.37 L330.27,68.47 L330.68,69.62 L331.08,70.92 L331.49,72.32 L331.89,73.75 L332.30,75.14 L332.71,76.46 L333.11,77.69 L333.52,78.90 L333.92,80.14 L334.33,81.47 L334.74,82.92 L335.14,84.38 L335.55,85.75 L335.95,86.93 L336.36,87.98 L336.77,88.96 L337.17,89.88 L337.58,90.76 L337.98,91.63 L338.39,92.49 L338.80,93.34 L339.20,94.15 L339.61,94.95 L340.02,95.74 L340.42,96.54 L340.83,97.36 L341.23,98.20 L341.64,99.07 L342.05,99.94 L342.45,100.80 L342.86,101.63 L343.26,102.42 L343.67,103.18 L344.08,103.94 L344.48,104.68 L344.89,105.40 L345.29,106.09 L345.70,106.76 L346.11,107.39 L346.51,107.98 L346.92,108.52 L347.32,109.03 L347.73,109.51 L348.14,109.96 L348.54,110.41 L348.95,110.84 L349.35,111.28 L349.76,111.73 L350.17,112.19 L350.57,112.68 L350.98,113.18 L351.38,113.69 L351.79,114.19 L352.20,114.69 L352.60,115.17 L353.01,115.63 L353.41,116.06 L353.82,116.44 L354.23,116.79 L354.63,117.11 L355.04,117.43 L355.44,117.72 L355.85,118.01 L356.26,118.28 L356.66,118.54 L357.07,118.80 L357.47,119.05 L357.88,119.29 L358.29,119.52 L358.69,119.76 L359.10,119.99 L359.50,120.22 L359.91,120.45 L360.32,120.68 L360.72,120.91 L361.13,121.13 L361.53,121.36 L361.94,121.58 L362.35,121.79 L362.75,122.01 L363.16,122.22 L363.56,122.43 L363.97,122.64 L364.38,122.85 L364.78,123.05 L365.19,123.25 L365.59,123.45 L366.00,123.65 L366.41,123.84 L366.81,124.04 L367.22,124.23 L367.62,124.42 L368.03,124.61 L368.44,124.79 L368.84,124.98 L369.25,125.16 L369.65,125.35 L370.06,125.53 L370.47,125.71 L370.87,125.89 L371.28,126.07 L371.68,126.25 L372.09,126.43 L372.50,126.60 L372.90,126.78 L373.31,126.96 L373.71,127.13 L374.12,127.30 L374.53,127.47 L374.93,127.64 L375.34,127.81 L375.74,127.97 L376.15,128.14 L376.56,128.29 L376.96,128.45 L377.37,128.60 L377.77,128.75 L378.18,128.90 L378.59,129.04 L378.99,129.18 L379.40,129.31 L379.80,129.44 L380.21,129.56 L380.62,129.69 L381.02,129.81 L381.43,129.94 L381.83,130.06 L382.24,130.18 L382.65,130.30 L383.05,130.42 L383.46,130.54 L383.86,130.66 L384.27,130.77 L384.68,130.88 L385.08,130.99 L385.49,131.10 L385.89,131.20 L386.30,131.30 L386.71,131.39 L387.11,131.48 L387.52,131.57 L387.92,131.65 L388.33,131.73 L388.74,131.81 L389.14,131.87 L389.55,131.94 L389.95,131.99 L390.36,132.05 L390.77,132.10 L391.17,132.14 L391.58,132.19 L391.98,132.23 L392.39,132.27 L392.80,132.31 L393.20,132.35 L393.61,132.38 L394.02,132.41 L394.42,132.45 L394.83,132.48 L395.23,132.51 L395.64,132.54 L396.05,132.57 L396.45,132.60 L396.86,132.63 L397.26,132.67 L397.67,132.70 L398.08,132.73 L398.48,132.76 L398.89,132.80 L399.29,132.83 L399.70,132.87 L400.11,132.91 L400.51,132.95 L400.92,132.99 L401.32,133.03 L401.73,133.08 L402.14,133.12 L402.54,133.16 L402.95,133.21 L403.35,133.25 L403.76,133.30 L404.17,133.35 L404.57,133.39 L404.98,133.44 L405.38,133.49 L405.79,133.54 L406.20,133.58 L406.60,133.63 L407.01,133.68 L407.41,133.73 L407.82,133.78 L408.23,133.83 L408.63,133.88 L409.04,133.92 L409.44,133.97 L409.85,134.02 L410.26,134.07 L410.66,134.12 L411.07,134.17 L411.47,134.22 L411.88,134.26 L412.29,134.31 L412.69,134.36 L413.10,134.41 L413.50,134.45 L413.91,134.50 L414.32,134.54 L414.72,134.59 L415.13,134.63 L415.53,134.68 L415.94,134.72 L416.35,134.76 L416.75,134.80 L417.16,134.84 L417.56,134.88 L417.97,134.92 L418.38,134.96 L418.78,135.00 L419.19,135.03 L419.59,135.07 L420.00,135.10 L420.41,135.13 L420.81,135.17 L421.22,135.20 L421.62,135.23 L422.03,135.26 L422.44,135.29 L422.84,135.33 L423.25,135.36 L423.65,135.39 L424.06,135.42 L424.47,135.45 L424.87,135.48 L425.28,135.51 L425.68,135.54 L426.09,135.57 L426.50,135.60 L426.90,135.63 L427.31,135.66 L427.71,135.69 L428.12,135.71 L428.53,135.74 L428.93,135.77 L429.34,135.80 L429.74,135.82 L430.15,135.85 L430.56,135.88 L430.96,135.90 L431.37,135.93 L431.77,135.95 L432.18,135.98 L432.59,136.00 L432.99,136.03 L433.40,136.05 L433.80,136.08 L434.21,136.10 L434.62,136.12 L435.02,136.15 L435.43,136.17 L435.83,136.19 L436.24,136.21 L436.65,136.24 L437.05,136.26 L437.46,136.28 L437.86,136.30 L438.27,136.32 L438.68,136.34 L439.08,136.36 L439.49,136.38 L439.89,136.40 L440.30,136.41 L440.71,136.43 L441.11,136.45 L441.52,136.47 L441.92,136.48 L442.33,136.50 L442.74,136.52 L443.14,136.53 L443.55,136.55 L443.95,136.57 L444.36,136.58 L444.77,136.60 L445.17,136.61 L445.58,136.63 L445.98,136.65 L446.39,136.66 L446.80,136.67 L447.20,136.69 L447.61,136.70 L448.02,136.72 L448.42,136.73 L448.83,136.75 L449.23,136.76 L449.64,136.77 L450.05,136.79 L450.45,136.80 L450.86,136.81 L451.26,136.83 L451.67,136.84 L452.08,136.85 L452.48,136.87 L452.89,136.88 L453.29,136.89 L453.70,136.90 L454.11,136.92 L454.51,136.93 L454.92,136.94 L455.32,136.96 L455.73,136.97 L456.14,136.98 L456.54,136.99 L456.95,137.01 L457.35,137.02 L457.76,137.03 L458.17,137.04 L458.57,137.06 L458.98,137.07 L459.38,137.08 L459.79,137.09 L460.20,137.11 L460.60,137.12 L461.01,137.13 L461.41,137.14 L461.82,137.16 L462.23,137.17 L462.63,137.18 L463.04,137.19 L463.44,137.21 L463.85,137.22 L464.26,137.23 L464.66,137.24 L465.07,137.25 L465.47,137.27 L465.88,137.28 L466.29,137.29 L466.69,137.30 L467.10,137.31 L467.50,137.32 L467.91,137.34 L468.32,137.35 L468.72,137.36 L469.13,137.37 L469.53,137.38 L469.94,137.39 L470.35,137.40 L470.75,137.41 L471.16,137.42 L471.56,137.44 L471.97,137.45 L472.38,137.46 L472.78,137.47 L473.19,137.48 L473.59,137.49 L474.00,137.50" fill="none" stroke="#27497a" stroke-width="1.2"/>
<line x1="323" y1="30" x2="323" y2="140" stroke="#5a5048" stroke-width="1.0" stroke-dasharray="1.1,1.4"/>
<line x1="312.00" y1="32.00" x2="312.00" y2="140.70" stroke="#222" stroke-width="1.4" />
<line x1="308.80" y1="140.20" x2="474.70" y2="140.20" stroke="#222" stroke-width="1.4" />
<line x1="474.00" y1="29.00" x2="474.00" y2="140.70" stroke="#222" stroke-width="1.4" />
<line x1="308.60" y1="109.30" x2="312.00" y2="109.30" stroke="#222" stroke-width="1.1" />
<line x1="308.60" y1="78.40" x2="312.00" y2="78.40" stroke="#222" stroke-width="1.1" />
<line x1="308.60" y1="47.50" x2="312.00" y2="47.50" stroke="#222" stroke-width="1.1" />
<line x1="312.00" y1="140.20" x2="312.00" y2="142.80" stroke="#222" stroke-width="1.1" />
<line x1="366.00" y1="140.20" x2="366.00" y2="142.80" stroke="#222" stroke-width="1.1" />
<line x1="420.00" y1="140.20" x2="420.00" y2="142.80" stroke="#222" stroke-width="1.1" />
<line x1="474.00" y1="140.20" x2="474.00" y2="142.80" stroke="#222" stroke-width="1.1" />
<line x1="339.00" y1="138.90" x2="339.00" y2="141.50" stroke="#222" stroke-width="1.1" />
<line x1="393.00" y1="138.90" x2="393.00" y2="141.50" stroke="#222" stroke-width="1.1" />
<line x1="447.00" y1="138.90" x2="447.00" y2="141.50" stroke="#222" stroke-width="1.1" />
<line x1="474.00" y1="140.20" x2="477.30" y2="140.20" stroke="#222" stroke-width="1.1" />
<line x1="474.00" y1="86.25" x2="477.30" y2="86.25" stroke="#222" stroke-width="1.1" />
<line x1="474.00" y1="32.30" x2="477.30" y2="32.30" stroke="#222" stroke-width="1.1" />
<line x1="474.00" y1="113.22" x2="476.20" y2="113.22" stroke="#222" stroke-width="1.0" />
<line x1="474.00" y1="59.28" x2="476.20" y2="59.28" stroke="#222" stroke-width="1.0" />
<text x="301.11" y="143.10" font-size="8.4" font-weight="normal" fill="#2b2b2b" stroke="#2b2b2b" stroke-width="0.3" textLength="5.05" lengthAdjust="spacingAndGlyphs" >0</text>
<text x="296.06" y="112.20" font-size="8.4" font-weight="normal" fill="#2b2b2b" stroke="#2b2b2b" stroke-width="0.3" textLength="10.09" lengthAdjust="spacingAndGlyphs" >20</text>
<text x="296.06" y="81.30" font-size="8.4" font-weight="normal" fill="#2b2b2b" stroke="#2b2b2b" stroke-width="0.3" textLength="10.09" lengthAdjust="spacingAndGlyphs" >40</text>
<text x="296.06" y="50.40" font-size="8.4" font-weight="normal" fill="#2b2b2b" stroke="#2b2b2b" stroke-width="0.3" textLength="10.09" lengthAdjust="spacingAndGlyphs" >60</text>
<text x="480.35" y="143.10" font-size="8.4" font-weight="normal" fill="#2b2b2b" stroke="#2b2b2b" stroke-width="0.3" textLength="17.66" lengthAdjust="spacingAndGlyphs" >0.00</text>
<text x="480.35" y="89.15" font-size="8.4" font-weight="normal" fill="#2b2b2b" stroke="#2b2b2b" stroke-width="0.3" textLength="17.66" lengthAdjust="spacingAndGlyphs" >0.05</text>
<text x="480.35" y="35.20" font-size="8.4" font-weight="normal" fill="#2b2b2b" stroke="#2b2b2b" stroke-width="0.3" textLength="17.66" lengthAdjust="spacingAndGlyphs" >0.10</text>
<text x="309.48" y="153.90" font-size="8.4" font-weight="normal" fill="#2b2b2b" stroke="#2b2b2b" stroke-width="0.3" textLength="5.05" lengthAdjust="spacingAndGlyphs" >0</text>
<text x="355.74" y="153.90" font-size="8.4" font-weight="normal" fill="#2b2b2b" stroke="#2b2b2b" stroke-width="0.3" textLength="20.18" lengthAdjust="spacingAndGlyphs" >1000</text>
<text x="409.86" y="153.90" font-size="8.4" font-weight="normal" fill="#2b2b2b" stroke="#2b2b2b" stroke-width="0.3" textLength="20.18" lengthAdjust="spacingAndGlyphs" >2000</text>
<text x="463.91" y="153.90" font-size="8.4" font-weight="normal" fill="#2b2b2b" stroke="#2b2b2b" stroke-width="0.3" textLength="20.18" lengthAdjust="spacingAndGlyphs" >3000</text>
<text x="321.0" y="152.5" font-size="8" fill="#2b2b2b">t</text>
<text x="324.0" y="154.0" font-size="5.5" fill="#2b2b2b">I</text>
<line x1="317.30" y1="29.80" x2="317.30" y2="35.80" stroke="#333" stroke-width="0.95" />
<line x1="326.90" y1="29.80" x2="326.90" y2="35.80" stroke="#333" stroke-width="0.95" />
<line x1="328.90" y1="29.80" x2="328.90" y2="35.80" stroke="#333" stroke-width="0.95" />
<text x="380.22" y="168.80" font-size="11.2" font-weight="normal" fill="#2b2b2b" stroke="#2b2b2b" stroke-width="0.3" textLength="26.07" lengthAdjust="spacingAndGlyphs" >Time, s</text>
<text transform="translate(290.00,0) rotate(-90)" x="-128.25" y="0" font-size="11.2" font-weight="normal" fill="#2b2b2b" stroke="#2b2b2b" stroke-width="0.3" textLength="84.24" lengthAdjust="spacingAndGlyphs">Extent of contraction, %</text>
<text transform="translate(504.20,0) rotate(90)" x="49.23" y="0" font-size="11.0" font-weight="normal" fill="#41679b" stroke="#41679b" stroke-width="0.3" textLength="70.86" lengthAdjust="spacingAndGlyphs">First derivative, %/s</text>
<text x="399.87" y="34.80" font-size="9.2" font-weight="normal" fill="#2b2b2b" stroke="#2b2b2b" stroke-width="0.3" textLength="34.05" lengthAdjust="spacingAndGlyphs" >Platelets</text>
<text x="407.89" y="69.70" font-size="9.2" font-weight="normal" fill="#2b2b2b" stroke="#2b2b2b" stroke-width="0.3" textLength="20.13" lengthAdjust="spacingAndGlyphs" >iMKs</text>
<text x="349.26" y="99.40" font-size="9.4" font-weight="normal" fill="#2b2b2b" stroke="#2b2b2b" stroke-width="0.3" textLength="87.55" lengthAdjust="spacingAndGlyphs" >Equalized by total cell</text>
<text x="349.62" y="109.60" font-size="9.4" font-weight="normal" fill="#2b2b2b" stroke="#2b2b2b" stroke-width="0.3" textLength="48.08" lengthAdjust="spacingAndGlyphs" >Surface area</text>
<clipPath id="cR"><path d="M43.75,321.00 L44.30,320.20 L44.76,319.35 L44.85,319.18 L45.40,318.09 L45.78,317.32 L45.96,316.96 L46.51,315.81 L46.79,315.21 L47.06,314.66 L47.61,313.51 L47.81,313.09 L48.16,312.36 L48.71,311.24 L48.82,311.01 L49.26,310.12 L49.81,309.03 L49.83,308.99 L50.37,307.96 L50.85,307.04 L50.92,306.91 L51.47,305.88 L51.86,305.16 L52.02,304.88 L52.57,303.90 L52.88,303.36 L53.12,302.94 L53.67,302.01 L53.89,301.64 L54.22,301.10 L54.78,300.21 L54.91,300.00 L55.33,299.34 L55.88,298.50 L55.92,298.43 L56.43,297.59 L56.93,296.79 L56.98,296.72 L57.53,295.86 L57.95,295.23 L58.08,295.02 L58.63,294.21 L58.96,293.74 L59.19,293.42 L59.74,292.65 L59.98,292.32 L60.29,291.90 L60.84,291.17 L60.99,290.97 L61.39,290.45 L61.94,289.76 L62.00,289.68 L62.49,289.08 L63.02,288.45 L63.04,288.42 L63.60,287.78 L64.03,287.28 L64.15,287.15 L64.70,286.54 L65.05,286.16 L65.25,285.94 L66.06,285.08 L67.08,284.06 L68.09,283.08 L69.10,282.15 L70.12,281.25 L71.13,280.39 L72.15,279.56 L73.16,278.77 L74.17,278.01 L75.19,277.29 L76.20,276.58 L77.22,275.91 L78.23,275.26 L79.25,274.64 L80.26,274.04 L81.27,273.46 L82.29,272.90 L83.30,272.37 L84.32,271.85 L85.33,271.34 L86.34,270.86 L87.36,270.39 L88.37,269.94 L89.39,269.50 L90.40,269.08 L91.42,268.67 L92.43,268.27 L93.44,267.89 L94.46,267.52 L95.47,267.15 L96.49,266.80 L97.50,266.46 L98.51,266.13 L99.53,265.81 L100.54,265.50 L101.56,265.20 L102.57,264.90 L103.58,264.62 L104.60,264.34 L105.61,264.07 L106.63,263.80 L107.64,263.55 L108.66,263.30 L109.67,263.05 L110.68,262.82 L111.70,262.58 L112.71,262.36 L113.73,262.14 L114.74,261.92 L115.75,261.71 L116.77,261.51 L117.78,261.31 L118.80,261.12 L119.81,260.93 L120.83,260.74 L121.84,260.56 L122.85,260.38 L123.87,260.21 L124.88,260.04 L125.90,259.87 L126.91,259.71 L127.92,259.55 L128.94,259.39 L129.95,259.24 L130.97,259.09 L131.98,258.95 L133.00,258.80 L134.01,258.66 L135.02,258.53 L136.04,258.39 L137.05,258.26 L138.07,258.13 L139.08,258.00 L140.09,257.88 L141.11,257.76 L142.12,257.64 L143.14,257.52 L144.15,257.41 L145.17,257.29 L146.18,257.18 L147.19,257.07 L148.21,256.97 L149.22,256.86 L150.24,256.76 L151.25,256.66 L152.26,256.56 L153.28,256.46 L154.29,256.36 L155.31,256.27 L156.32,256.18 L157.33,256.08 L158.35,255.99 L159.36,255.91 L160.38,255.82 L161.39,255.73 L162.41,255.65 L163.42,255.57 L164.43,255.49 L165.45,255.41 L166.46,255.33 L167.48,255.25 L168.49,255.17 L169.50,255.10 L170.52,255.03 L171.53,254.95 L172.55,254.88 L173.56,254.81 L174.58,254.74 L175.59,254.67 L176.60,254.61 L177.62,254.54 L178.63,254.47 L179.65,254.41 L180.66,254.35 L181.67,254.28 L182.69,254.22 L183.70,254.16 L184.72,254.10 L185.73,254.04 L186.75,253.98 L187.76,253.93 L188.77,253.87 L189.79,253.81 L190.80,253.76 L191.82,253.70 L192.83,253.65 L193.84,253.60 L194.86,253.54 L195.87,253.49 L196.89,253.44 L197.90,253.39 L198.92,253.34 L199.93,253.29 L200.94,253.24 L201.96,253.20 L202.97,253.15 L203.99,253.10 L205.00,253.06 L205.00,265.58 L203.99,265.62 L202.97,265.65 L201.96,265.69 L200.94,265.73 L199.93,265.77 L198.92,265.81 L197.90,265.85 L196.89,265.89 L195.87,265.94 L194.86,265.98 L193.84,266.02 L192.83,266.06 L191.82,266.11 L190.80,266.15 L189.79,266.20 L188.77,266.24 L187.76,266.29 L186.75,266.34 L185.73,266.39 L184.72,266.44 L183.70,266.48 L182.69,266.53 L181.67,266.59 L180.66,266.64 L179.65,266.69 L178.63,266.74 L177.62,266.80 L176.60,266.85 L175.59,266.91 L174.58,266.96 L173.56,267.02 L172.55,267.08 L171.53,267.14 L170.52,267.20 L169.50,267.26 L168.49,267.32 L167.48,267.38 L166.46,267.44 L165.45,267.51 L164.43,267.57 L163.42,267.64 L162.41,267.71 L161.39,267.78 L160.38,267.85 L159.36,267.92 L158.35,267.99 L157.33,268.07 L156.32,268.14 L155.31,268.22 L154.29,268.29 L153.28,268.37 L152.26,268.45 L151.25,268.53 L150.24,268.62 L149.22,268.70 L148.21,268.79 L147.19,268.88 L146.18,268.97 L145.17,269.06 L144.15,269.15 L143.14,269.24 L142.12,269.34 L141.11,269.44 L140.09,269.54 L139.08,269.64 L138.07,269.75 L137.05,269.85 L136.04,269.96 L135.02,270.07 L134.01,270.18 L133.00,270.30 L131.98,270.42 L130.97,270.54 L129.95,270.66 L128.94,270.78 L127.92,270.91 L126.91,271.04 L125.90,271.18 L124.88,271.31 L123.87,271.45 L122.85,271.59 L121.84,271.74 L120.83,271.89 L119.81,272.04 L118.80,272.20 L117.78,272.36 L116.77,272.52 L115.75,272.69 L114.74,272.86 L113.73,273.04 L112.71,273.22 L111.70,273.40 L110.68,273.59 L109.67,273.79 L108.66,273.99 L107.64,274.20 L106.63,274.41 L105.61,274.62 L104.60,274.85 L103.58,275.07 L102.57,275.31 L101.56,275.55 L100.54,275.80 L99.53,276.06 L98.51,276.32 L97.50,276.59 L96.49,276.87 L95.47,277.16 L94.46,277.46 L93.44,277.76 L92.43,278.08 L91.42,278.40 L90.40,278.74 L89.39,279.09 L88.37,279.45 L87.36,279.82 L86.34,280.20 L85.33,280.60 L84.32,281.01 L83.30,281.44 L82.29,281.88 L81.27,282.34 L80.26,282.82 L79.25,283.31 L78.23,283.82 L77.22,284.35 L76.20,284.91 L75.19,285.48 L74.17,286.08 L73.16,286.70 L72.15,287.35 L71.13,288.03 L70.12,288.74 L69.10,289.47 L68.09,290.24 L67.08,291.05 L66.06,291.89 L65.25,292.59 L65.05,292.77 L64.70,293.08 L64.15,293.58 L64.03,293.69 L63.60,294.10 L63.04,294.63 L63.02,294.65 L62.49,295.17 L62.00,295.66 L61.94,295.73 L61.39,296.30 L60.99,296.72 L60.84,296.88 L60.29,297.49 L59.98,297.83 L59.74,298.10 L59.19,298.74 L58.96,299.00 L58.63,299.39 L58.08,300.05 L57.95,300.22 L57.53,300.74 L56.98,301.44 L56.93,301.50 L56.43,302.16 L55.92,302.85 L55.88,302.91 L55.33,303.74 L54.91,304.40 L54.78,304.61 L54.22,305.50 L53.89,306.04 L53.67,306.41 L53.12,307.34 L52.88,307.76 L52.57,308.30 L52.02,309.28 L51.86,309.56 L51.47,310.28 L50.92,311.31 L50.85,311.44 L50.37,312.36 L49.83,313.39 L49.81,313.43 L49.26,314.52 L48.82,315.41 L48.71,315.64 L48.16,316.76 L47.81,317.49 L47.61,317.91 L47.06,319.06 L46.79,319.61 L46.51,320.21 L45.96,321.36 L45.78,321.72 L45.40,322.49 L44.85,323.58 L44.76,323.75 L44.30,324.60 L43.75,325.40 Z"/></clipPath>
<path d="M43.75,321.00 L44.30,320.20 L44.76,319.35 L44.85,319.18 L45.40,318.09 L45.78,317.32 L45.96,316.96 L46.51,315.81 L46.79,315.21 L47.06,314.66 L47.61,313.51 L47.81,313.09 L48.16,312.36 L48.71,311.24 L48.82,311.01 L49.26,310.12 L49.81,309.03 L49.83,308.99 L50.37,307.96 L50.85,307.04 L50.92,306.91 L51.47,305.88 L51.86,305.16 L52.02,304.88 L52.57,303.90 L52.88,303.36 L53.12,302.94 L53.67,302.01 L53.89,301.64 L54.22,301.10 L54.78,300.21 L54.91,300.00 L55.33,299.34 L55.88,298.50 L55.92,298.43 L56.43,297.59 L56.93,296.79 L56.98,296.72 L57.53,295.86 L57.95,295.23 L58.08,295.02 L58.63,294.21 L58.96,293.74 L59.19,293.42 L59.74,292.65 L59.98,292.32 L60.29,291.90 L60.84,291.17 L60.99,290.97 L61.39,290.45 L61.94,289.76 L62.00,289.68 L62.49,289.08 L63.02,288.45 L63.04,288.42 L63.60,287.78 L64.03,287.28 L64.15,287.15 L64.70,286.54 L65.05,286.16 L65.25,285.94 L66.06,285.08 L67.08,284.06 L68.09,283.08 L69.10,282.15 L70.12,281.25 L71.13,280.39 L72.15,279.56 L73.16,278.77 L74.17,278.01 L75.19,277.29 L76.20,276.58 L77.22,275.91 L78.23,275.26 L79.25,274.64 L80.26,274.04 L81.27,273.46 L82.29,272.90 L83.30,272.37 L84.32,271.85 L85.33,271.34 L86.34,270.86 L87.36,270.39 L88.37,269.94 L89.39,269.50 L90.40,269.08 L91.42,268.67 L92.43,268.27 L93.44,267.89 L94.46,267.52 L95.47,267.15 L96.49,266.80 L97.50,266.46 L98.51,266.13 L99.53,265.81 L100.54,265.50 L101.56,265.20 L102.57,264.90 L103.58,264.62 L104.60,264.34 L105.61,264.07 L106.63,263.80 L107.64,263.55 L108.66,263.30 L109.67,263.05 L110.68,262.82 L111.70,262.58 L112.71,262.36 L113.73,262.14 L114.74,261.92 L115.75,261.71 L116.77,261.51 L117.78,261.31 L118.80,261.12 L119.81,260.93 L120.83,260.74 L121.84,260.56 L122.85,260.38 L123.87,260.21 L124.88,260.04 L125.90,259.87 L126.91,259.71 L127.92,259.55 L128.94,259.39 L129.95,259.24 L130.97,259.09 L131.98,258.95 L133.00,258.80 L134.01,258.66 L135.02,258.53 L136.04,258.39 L137.05,258.26 L138.07,258.13 L139.08,258.00 L140.09,257.88 L141.11,257.76 L142.12,257.64 L143.14,257.52 L144.15,257.41 L145.17,257.29 L146.18,257.18 L147.19,257.07 L148.21,256.97 L149.22,256.86 L150.24,256.76 L151.25,256.66 L152.26,256.56 L153.28,256.46 L154.29,256.36 L155.31,256.27 L156.32,256.18 L157.33,256.08 L158.35,255.99 L159.36,255.91 L160.38,255.82 L161.39,255.73 L162.41,255.65 L163.42,255.57 L164.43,255.49 L165.45,255.41 L166.46,255.33 L167.48,255.25 L168.49,255.17 L169.50,255.10 L170.52,255.03 L171.53,254.95 L172.55,254.88 L173.56,254.81 L174.58,254.74 L175.59,254.67 L176.60,254.61 L177.62,254.54 L178.63,254.47 L179.65,254.41 L180.66,254.35 L181.67,254.28 L182.69,254.22 L183.70,254.16 L184.72,254.10 L185.73,254.04 L186.75,253.98 L187.76,253.93 L188.77,253.87 L189.79,253.81 L190.80,253.76 L191.82,253.70 L192.83,253.65 L193.84,253.60 L194.86,253.54 L195.87,253.49 L196.89,253.44 L197.90,253.39 L198.92,253.34 L199.93,253.29 L200.94,253.24 L201.96,253.20 L202.97,253.15 L203.99,253.10 L205.00,253.06 L205.00,265.58 L203.99,265.62 L202.97,265.65 L201.96,265.69 L200.94,265.73 L199.93,265.77 L198.92,265.81 L197.90,265.85 L196.89,265.89 L195.87,265.94 L194.86,265.98 L193.84,266.02 L192.83,266.06 L191.82,266.11 L190.80,266.15 L189.79,266.20 L188.77,266.24 L187.76,266.29 L186.75,266.34 L185.73,266.39 L184.72,266.44 L183.70,266.48 L182.69,266.53 L181.67,266.59 L180.66,266.64 L179.65,266.69 L178.63,266.74 L177.62,266.80 L176.60,266.85 L175.59,266.91 L174.58,266.96 L173.56,267.02 L172.55,267.08 L171.53,267.14 L170.52,267.20 L169.50,267.26 L168.49,267.32 L167.48,267.38 L166.46,267.44 L165.45,267.51 L164.43,267.57 L163.42,267.64 L162.41,267.71 L161.39,267.78 L160.38,267.85 L159.36,267.92 L158.35,267.99 L157.33,268.07 L156.32,268.14 L155.31,268.22 L154.29,268.29 L153.28,268.37 L152.26,268.45 L151.25,268.53 L150.24,268.62 L149.22,268.70 L148.21,268.79 L147.19,268.88 L146.18,268.97 L145.17,269.06 L144.15,269.15 L143.14,269.24 L142.12,269.34 L141.11,269.44 L140.09,269.54 L139.08,269.64 L138.07,269.75 L137.05,269.85 L136.04,269.96 L135.02,270.07 L134.01,270.18 L133.00,270.30 L131.98,270.42 L130.97,270.54 L129.95,270.66 L128.94,270.78 L127.92,270.91 L126.91,271.04 L125.90,271.18 L124.88,271.31 L123.87,271.45 L122.85,271.59 L121.84,271.74 L120.83,271.89 L119.81,272.04 L118.80,272.20 L117.78,272.36 L116.77,272.52 L115.75,272.69 L114.74,272.86 L113.73,273.04 L112.71,273.22 L111.70,273.40 L110.68,273.59 L109.67,273.79 L108.66,273.99 L107.64,274.20 L106.63,274.41 L105.61,274.62 L104.60,274.85 L103.58,275.07 L102.57,275.31 L101.56,275.55 L100.54,275.80 L99.53,276.06 L98.51,276.32 L97.50,276.59 L96.49,276.87 L95.47,277.16 L94.46,277.46 L93.44,277.76 L92.43,278.08 L91.42,278.40 L90.40,278.74 L89.39,279.09 L88.37,279.45 L87.36,279.82 L86.34,280.20 L85.33,280.60 L84.32,281.01 L83.30,281.44 L82.29,281.88 L81.27,282.34 L80.26,282.82 L79.25,283.31 L78.23,283.82 L77.22,284.35 L76.20,284.91 L75.19,285.48 L74.17,286.08 L73.16,286.70 L72.15,287.35 L71.13,288.03 L70.12,288.74 L69.10,289.47 L68.09,290.24 L67.08,291.05 L66.06,291.89 L65.25,292.59 L65.05,292.77 L64.70,293.08 L64.15,293.58 L64.03,293.69 L63.60,294.10 L63.04,294.63 L63.02,294.65 L62.49,295.17 L62.00,295.66 L61.94,295.73 L61.39,296.30 L60.99,296.72 L60.84,296.88 L60.29,297.49 L59.98,297.83 L59.74,298.10 L59.19,298.74 L58.96,299.00 L58.63,299.39 L58.08,300.05 L57.95,300.22 L57.53,300.74 L56.98,301.44 L56.93,301.50 L56.43,302.16 L55.92,302.85 L55.88,302.91 L55.33,303.74 L54.91,304.40 L54.78,304.61 L54.22,305.50 L53.89,306.04 L53.67,306.41 L53.12,307.34 L52.88,307.76 L52.57,308.30 L52.02,309.28 L51.86,309.56 L51.47,310.28 L50.92,311.31 L50.85,311.44 L50.37,312.36 L49.83,313.39 L49.81,313.43 L49.26,314.52 L48.82,315.41 L48.71,315.64 L48.16,316.76 L47.81,317.49 L47.61,317.91 L47.06,319.06 L46.79,319.61 L46.51,320.21 L45.96,321.36 L45.78,321.72 L45.40,322.49 L44.85,323.58 L44.76,323.75 L44.30,324.60 L43.75,325.40 Z" fill="#e98aa0"/>
<path d="M44.65,251.1V327.4M46.45,251.1V327.4M48.25,251.1V327.4M50.05,251.1V327.4M51.85,251.1V327.4M53.65,251.1V327.4M55.45,251.1V327.4M57.25,251.1V327.4M59.05,251.1V327.4M60.85,251.1V327.4M62.65,251.1V327.4M64.45,251.1V327.4M66.25,251.1V327.4M68.05,251.1V327.4M69.85,251.1V327.4M71.65,251.1V327.4M73.45,251.1V327.4M75.25,251.1V327.4M77.05,251.1V327.4M78.85,251.1V327.4M80.65,251.1V327.4M82.45,251.1V327.4M84.25,251.1V327.4M86.05,251.1V327.4M87.85,251.1V327.4M89.65,251.1V327.4M91.45,251.1V327.4M93.25,251.1V327.4M95.05,251.1V327.4M96.85,251.1V327.4M98.65,251.1V327.4M100.45,251.1V327.4M102.25,251.1V327.4M104.05,251.1V327.4M105.85,251.1V327.4M107.65,251.1V327.4M109.45,251.1V327.4M111.25,251.1V327.4M113.05,251.1V327.4M114.85,251.1V327.4M116.65,251.1V327.4M118.45,251.1V327.4M120.25,251.1V327.4M122.05,251.1V327.4M123.85,251.1V327.4M125.65,251.1V327.4M127.45,251.1V327.4M129.25,251.1V327.4M131.05,251.1V327.4M132.85,251.1V327.4M134.65,251.1V327.4M136.45,251.1V327.4M138.25,251.1V327.4M140.05,251.1V327.4M141.85,251.1V327.4M143.65,251.1V327.4M145.45,251.1V327.4M147.25,251.1V327.4M149.05,251.1V327.4M150.85,251.1V327.4M152.65,251.1V327.4M154.45,251.1V327.4M156.25,251.1V327.4M158.05,251.1V327.4M159.85,251.1V327.4M161.65,251.1V327.4M163.45,251.1V327.4M165.25,251.1V327.4M167.05,251.1V327.4M168.85,251.1V327.4M170.65,251.1V327.4M172.45,251.1V327.4M174.25,251.1V327.4M176.05,251.1V327.4M177.85,251.1V327.4M179.65,251.1V327.4M181.45,251.1V327.4M183.25,251.1V327.4M185.05,251.1V327.4M186.85,251.1V327.4M188.65,251.1V327.4M190.45,251.1V327.4M192.25,251.1V327.4M194.05,251.1V327.4M195.85,251.1V327.4M197.65,251.1V327.4M199.45,251.1V327.4M201.25,251.1V327.4M203.05,251.1V327.4M204.85,251.1V327.4" stroke="#ffffff" stroke-opacity="0.4" stroke-width="0.7" clip-path="url(#cR)"/>
<path d="M42.25,321.00h3.0M42.25,325.40h3.0M43.90,318.09h3.0M43.90,322.49h3.0M45.56,314.66h3.0M45.56,319.06h3.0M47.21,311.24h3.0M47.21,315.64h3.0M48.87,307.96h3.0M48.87,312.36h3.0M50.52,304.88h3.0M50.52,309.28h3.0M52.17,302.01h3.0M52.17,306.41h3.0M53.83,299.34h3.0M53.83,303.74h3.0M55.43,296.79h3.0M55.43,301.50h3.0M57.13,294.21h3.0M57.13,299.39h3.0M58.79,291.90h3.0M58.79,297.49h3.0M60.44,289.76h3.0M60.44,295.73h3.0M62.10,287.78h3.0M62.10,294.10h3.0M63.75,285.94h3.0M63.75,292.59h3.0M65.58,284.06h3.0M65.58,291.05h3.0M67.60,282.15h3.0M67.60,289.47h3.0M69.63,280.39h3.0M69.63,288.03h3.0M71.66,278.77h3.0M71.66,286.70h3.0M73.69,277.29h3.0M73.69,285.48h3.0M75.72,275.91h3.0M75.72,284.35h3.0M77.75,274.64h3.0M77.75,283.31h3.0M79.77,273.46h3.0M79.77,282.34h3.0M81.80,272.37h3.0M81.80,281.44h3.0M83.83,271.34h3.0M83.83,280.60h3.0M85.86,270.39h3.0M85.86,279.82h3.0M87.89,269.50h3.0M87.89,279.09h3.0M89.92,268.67h3.0M89.92,278.40h3.0M91.94,267.89h3.0M91.94,277.76h3.0M93.97,267.15h3.0M93.97,277.16h3.0M96.00,266.46h3.0M96.00,276.59h3.0M98.03,265.81h3.0M98.03,276.06h3.0M100.06,265.20h3.0M100.06,275.55h3.0M102.08,264.62h3.0M102.08,275.07h3.0M104.11,264.07h3.0M104.11,274.62h3.0M106.14,263.55h3.0M106.14,274.20h3.0M108.17,263.05h3.0M108.17,273.79h3.0M110.20,262.58h3.0M110.20,273.40h3.0M112.23,262.14h3.0M112.23,273.04h3.0M114.25,261.71h3.0M114.25,272.69h3.0M116.28,261.31h3.0M116.28,272.36h3.0M118.31,260.93h3.0M118.31,272.04h3.0M120.34,260.56h3.0M120.34,271.74h3.0M122.37,260.21h3.0M122.37,271.45h3.0M124.40,259.87h3.0M124.40,271.18h3.0M126.42,259.55h3.0M126.42,270.91h3.0M128.45,259.24h3.0M128.45,270.66h3.0M130.48,258.95h3.0M130.48,270.42h3.0M132.51,258.66h3.0M132.51,270.18h3.0M134.54,258.39h3.0M134.54,269.96h3.0M136.57,258.13h3.0M136.57,269.75h3.0M138.59,257.88h3.0M138.59,269.54h3.0M140.62,257.64h3.0M140.62,269.34h3.0M142.65,257.41h3.0M142.65,269.15h3.0M144.68,257.18h3.0M144.68,268.97h3.0M146.71,256.97h3.0M146.71,268.79h3.0M148.74,256.76h3.0M148.74,268.62h3.0M150.76,256.56h3.0M150.76,268.45h3.0M152.79,256.36h3.0M152.79,268.29h3.0M154.82,256.18h3.0M154.82,268.14h3.0M156.85,255.99h3.0M156.85,267.99h3.0M158.88,255.82h3.0M158.88,267.85h3.0M160.91,255.65h3.0M160.91,267.71h3.0M162.93,255.49h3.0M162.93,267.57h3.0M164.96,255.33h3.0M164.96,267.44h3.0M166.99,255.17h3.0M166.99,267.32h3.0M169.02,255.03h3.0M169.02,267.20h3.0M171.05,254.88h3.0M171.05,267.08h3.0M173.08,254.74h3.0M173.08,266.96h3.0M175.10,254.61h3.0M175.10,266.85h3.0M177.13,254.47h3.0M177.13,266.74h3.0M179.16,254.35h3.0M179.16,266.64h3.0M181.19,254.22h3.0M181.19,266.53h3.0M183.22,254.10h3.0M183.22,266.44h3.0M185.25,253.98h3.0M185.25,266.34h3.0M187.27,253.87h3.0M187.27,266.24h3.0M189.30,253.76h3.0M189.30,266.15h3.0M191.33,253.65h3.0M191.33,266.06h3.0M193.36,253.54h3.0M193.36,265.98h3.0M195.39,253.44h3.0M195.39,265.89h3.0M197.42,253.34h3.0M197.42,265.81h3.0M199.44,253.24h3.0M199.44,265.73h3.0M201.47,253.15h3.0M201.47,265.65h3.0M203.50,253.06h3.0M203.50,265.58h3.0" stroke="#e07c98" stroke-width="0.7" fill="none"/>
<path d="M43.75,322.10 L44.30,321.30 L44.76,320.45 L44.85,320.28 L45.40,319.19 L45.78,318.42 L45.96,318.06 L46.51,316.91 L46.79,316.31 L47.06,315.76 L47.61,314.61 L47.81,314.19 L48.16,313.46 L48.71,312.34 L48.82,312.11 L49.26,311.22 L49.81,310.13 L49.83,310.09 L50.37,309.06 L50.85,308.14 L50.92,308.01 L51.47,306.98 L51.86,306.26 L52.02,305.98 L52.57,305.00 L52.88,304.46 L53.12,304.04 L53.67,303.11 L53.89,302.74 L54.22,302.20 L54.78,301.31 L54.91,301.10 L55.33,300.44 L55.88,299.60 L55.92,299.53 L56.43,298.74 L56.93,297.97 L56.98,297.90 L57.53,297.08 L57.95,296.48 L58.08,296.28 L58.63,295.51 L58.96,295.05 L59.19,294.75 L59.74,294.01 L59.98,293.70 L60.29,293.30 L60.84,292.60 L60.99,292.41 L61.39,291.91 L61.94,291.25 L62.00,291.18 L62.49,290.60 L63.02,290.00 L63.04,289.97 L63.60,289.36 L64.03,288.88 L64.15,288.76 L64.70,288.17 L65.05,287.81 L65.25,287.60 L66.06,286.79 L67.08,285.81 L68.09,284.87 L69.10,283.98 L70.12,283.12 L71.13,282.30 L72.15,281.51 L73.16,280.76 L74.17,280.03 L75.19,279.33 L76.20,278.67 L77.22,278.02 L78.23,277.40 L79.25,276.81 L80.26,276.23 L81.27,275.68 L82.29,275.15 L83.30,274.63 L84.32,274.14 L85.33,273.66 L86.34,273.20 L87.36,272.75 L88.37,272.32 L89.39,271.90 L90.40,271.49 L91.42,271.10 L92.43,270.72 L93.44,270.36 L94.46,270.00 L95.47,269.65 L96.49,269.32 L97.50,268.99 L98.51,268.68 L99.53,268.37 L100.54,268.07 L101.56,267.79 L102.57,267.50 L103.58,267.23 L104.60,266.96 L105.61,266.71 L106.63,266.45 L107.64,266.21 L108.66,265.97 L109.67,265.74 L110.68,265.51 L111.70,265.29 L112.71,265.07 L113.73,264.86 L114.74,264.66 L115.75,264.46 L116.77,264.26 L117.78,264.07 L118.80,263.89 L119.81,263.70 L120.83,263.53 L121.84,263.35 L122.85,263.18 L123.87,263.02 L124.88,262.86 L125.90,262.70 L126.91,262.54 L127.92,262.39 L128.94,262.24 L129.95,262.10 L130.97,261.95 L131.98,261.81 L133.00,261.68 L134.01,261.54 L135.02,261.41 L136.04,261.28 L137.05,261.16 L138.07,261.03 L139.08,260.91 L140.09,260.79 L141.11,260.68 L142.12,260.56 L143.14,260.45 L144.15,260.34 L145.17,260.23 L146.18,260.13 L147.19,260.02 L148.21,259.92 L149.22,259.82 L150.24,259.72 L151.25,259.63 L152.26,259.53 L153.28,259.44 L154.29,259.35 L155.31,259.26 L156.32,259.17 L157.33,259.08 L158.35,258.99 L159.36,258.91 L160.38,258.83 L161.39,258.75 L162.41,258.67 L163.42,258.59 L164.43,258.51 L165.45,258.43 L166.46,258.36 L167.48,258.28 L168.49,258.21 L169.50,258.14 L170.52,258.07 L171.53,258.00 L172.55,257.93 L173.56,257.86 L174.58,257.80 L175.59,257.73 L176.60,257.67 L177.62,257.60 L178.63,257.54 L179.65,257.48 L180.66,257.42 L181.67,257.36 L182.69,257.30 L183.70,257.24 L184.72,257.18 L185.73,257.13 L186.75,257.07 L187.76,257.02 L188.77,256.96 L189.79,256.91 L190.80,256.86 L191.82,256.80 L192.83,256.75 L193.84,256.70 L194.86,256.65 L195.87,256.60 L196.89,256.55 L197.90,256.51 L198.92,256.46 L199.93,256.41 L200.94,256.37 L201.96,256.32 L202.97,256.27 L203.99,256.23 L205.00,256.19" fill="none" stroke="#fcd8e0" stroke-opacity="0.55" stroke-width="0.9" clip-path="url(#cR)"/>
<path d="M43.75,324.30 L44.30,323.50 L44.76,322.65 L44.85,322.48 L45.40,321.39 L45.78,320.62 L45.96,320.26 L46.51,319.11 L46.79,318.51 L47.06,317.96 L47.61,316.81 L47.81,316.39 L48.16,315.66 L48.71,314.54 L48.82,314.31 L49.26,313.42 L49.81,312.33 L49.83,312.29 L50.37,311.26 L50.85,310.34 L50.92,310.21 L51.47,309.18 L51.86,308.46 L52.02,308.18 L52.57,307.20 L52.88,306.66 L53.12,306.24 L53.67,305.31 L53.89,304.94 L54.22,304.40 L54.78,303.51 L54.91,303.30 L55.33,302.64 L55.88,301.80 L55.92,301.74 L56.43,301.02 L56.93,300.32 L56.98,300.26 L57.53,299.52 L57.95,298.97 L58.08,298.80 L58.63,298.09 L58.96,297.68 L59.19,297.41 L59.74,296.74 L59.98,296.46 L60.29,296.09 L60.84,295.46 L60.99,295.28 L61.39,294.84 L61.94,294.24 L62.00,294.17 L62.49,293.65 L63.02,293.10 L63.04,293.08 L63.60,292.52 L64.03,292.09 L64.15,291.97 L64.70,291.44 L65.05,291.12 L65.25,290.93 L66.06,290.19 L67.08,289.30 L68.09,288.45 L69.10,287.64 L70.12,286.86 L71.13,286.12 L72.15,285.41 L73.16,284.72 L74.17,284.06 L75.19,283.43 L76.20,282.83 L77.22,282.24 L78.23,281.68 L79.25,281.14 L80.26,280.62 L81.27,280.12 L82.29,279.64 L83.30,279.17 L84.32,278.72 L85.33,278.29 L86.34,277.87 L87.36,277.46 L88.37,277.07 L89.39,276.69 L90.40,276.33 L91.42,275.97 L92.43,275.63 L93.44,275.29 L94.46,274.97 L95.47,274.66 L96.49,274.35 L97.50,274.06 L98.51,273.77 L99.53,273.49 L100.54,273.22 L101.56,272.96 L102.57,272.71 L103.58,272.46 L104.60,272.22 L105.61,271.98 L106.63,271.76 L107.64,271.53 L108.66,271.32 L109.67,271.11 L110.68,270.90 L111.70,270.70 L112.71,270.50 L113.73,270.31 L114.74,270.13 L115.75,269.95 L116.77,269.77 L117.78,269.60 L118.80,269.43 L119.81,269.26 L120.83,269.10 L121.84,268.94 L122.85,268.79 L123.87,268.64 L124.88,268.49 L125.90,268.35 L126.91,268.21 L127.92,268.07 L128.94,267.94 L129.95,267.80 L130.97,267.67 L131.98,267.55 L133.00,267.42 L134.01,267.30 L135.02,267.18 L136.04,267.07 L137.05,266.95 L138.07,266.84 L139.08,266.73 L140.09,266.62 L141.11,266.52 L142.12,266.42 L143.14,266.31 L144.15,266.21 L145.17,266.12 L146.18,266.02 L147.19,265.93 L148.21,265.83 L149.22,265.74 L150.24,265.65 L151.25,265.57 L152.26,265.48 L153.28,265.39 L154.29,265.31 L155.31,265.23 L156.32,265.15 L157.33,265.07 L158.35,264.99 L159.36,264.92 L160.38,264.84 L161.39,264.77 L162.41,264.69 L163.42,264.62 L164.43,264.55 L165.45,264.48 L166.46,264.42 L167.48,264.35 L168.49,264.28 L169.50,264.22 L170.52,264.15 L171.53,264.09 L172.55,264.03 L173.56,263.97 L174.58,263.91 L175.59,263.85 L176.60,263.79 L177.62,263.73 L178.63,263.67 L179.65,263.62 L180.66,263.56 L181.67,263.51 L182.69,263.46 L183.70,263.40 L184.72,263.35 L185.73,263.30 L186.75,263.25 L187.76,263.20 L188.77,263.15 L189.79,263.10 L190.80,263.05 L191.82,263.01 L192.83,262.96 L193.84,262.91 L194.86,262.87 L195.87,262.82 L196.89,262.78 L197.90,262.74 L198.92,262.69 L199.93,262.65 L200.94,262.61 L201.96,262.57 L202.97,262.53 L203.99,262.49 L205.00,262.45" fill="none" stroke="#fcd8e0" stroke-opacity="0.55" stroke-width="0.9" clip-path="url(#cR)"/>
<path d="M43.75,321.00 L44.30,320.20 L44.76,319.35 L44.85,319.18 L45.40,318.09 L45.78,317.32 L45.96,316.96 L46.51,315.81 L46.79,315.21 L47.06,314.66 L47.61,313.51 L47.81,313.09 L48.16,312.36 L48.71,311.24 L48.82,311.01 L49.26,310.12 L49.81,309.03 L49.83,308.99 L50.37,307.96 L50.85,307.04 L50.92,306.91 L51.47,305.88 L51.86,305.16 L52.02,304.88 L52.57,303.90 L52.88,303.36 L53.12,302.94 L53.67,302.01 L53.89,301.64 L54.22,301.10 L54.78,300.21 L54.91,300.00 L55.33,299.34 L55.88,298.50 L55.92,298.43 L56.43,297.59 L56.93,296.79 L56.98,296.72 L57.53,295.86 L57.95,295.23 L58.08,295.02 L58.63,294.21 L58.96,293.74 L59.19,293.42 L59.74,292.65 L59.98,292.32 L60.29,291.90 L60.84,291.17 L60.99,290.97 L61.39,290.45 L61.94,289.76 L62.00,289.68 L62.49,289.08 L63.02,288.45 L63.04,288.42 L63.60,287.78 L64.03,287.28 L64.15,287.15 L64.70,286.54 L65.05,286.16 L65.25,285.94 L66.06,285.08 L67.08,284.06 L68.09,283.08 L69.10,282.15 L70.12,281.25 L71.13,280.39 L72.15,279.56 L73.16,278.77 L74.17,278.01 L75.19,277.29 L76.20,276.58 L77.22,275.91 L78.23,275.26 L79.25,274.64 L80.26,274.04 L81.27,273.46 L82.29,272.90 L83.30,272.37 L84.32,271.85 L85.33,271.34 L86.34,270.86 L87.36,270.39 L88.37,269.94 L89.39,269.50 L90.40,269.08 L91.42,268.67 L92.43,268.27 L93.44,267.89 L94.46,267.52 L95.47,267.15 L96.49,266.80 L97.50,266.46 L98.51,266.13 L99.53,265.81 L100.54,265.50 L101.56,265.20 L102.57,264.90 L103.58,264.62 L104.60,264.34 L105.61,264.07 L106.63,263.80 L107.64,263.55 L108.66,263.30 L109.67,263.05 L110.68,262.82 L111.70,262.58 L112.71,262.36 L113.73,262.14 L114.74,261.92 L115.75,261.71 L116.77,261.51 L117.78,261.31 L118.80,261.12 L119.81,260.93 L120.83,260.74 L121.84,260.56 L122.85,260.38 L123.87,260.21 L124.88,260.04 L125.90,259.87 L126.91,259.71 L127.92,259.55 L128.94,259.39 L129.95,259.24 L130.97,259.09 L131.98,258.95 L133.00,258.80 L134.01,258.66 L135.02,258.53 L136.04,258.39 L137.05,258.26 L138.07,258.13 L139.08,258.00 L140.09,257.88 L141.11,257.76 L142.12,257.64 L143.14,257.52 L144.15,257.41 L145.17,257.29 L146.18,257.18 L147.19,257.07 L148.21,256.97 L149.22,256.86 L150.24,256.76 L151.25,256.66 L152.26,256.56 L153.28,256.46 L154.29,256.36 L155.31,256.27 L156.32,256.18 L157.33,256.08 L158.35,255.99 L159.36,255.91 L160.38,255.82 L161.39,255.73 L162.41,255.65 L163.42,255.57 L164.43,255.49 L165.45,255.41 L166.46,255.33 L167.48,255.25 L168.49,255.17 L169.50,255.10 L170.52,255.03 L171.53,254.95 L172.55,254.88 L173.56,254.81 L174.58,254.74 L175.59,254.67 L176.60,254.61 L177.62,254.54 L178.63,254.47 L179.65,254.41 L180.66,254.35 L181.67,254.28 L182.69,254.22 L183.70,254.16 L184.72,254.10 L185.73,254.04 L186.75,253.98 L187.76,253.93 L188.77,253.87 L189.79,253.81 L190.80,253.76 L191.82,253.70 L192.83,253.65 L193.84,253.60 L194.86,253.54 L195.87,253.49 L196.89,253.44 L197.90,253.39 L198.92,253.34 L199.93,253.29 L200.94,253.24 L201.96,253.20 L202.97,253.15 L203.99,253.10 L205.00,253.06" fill="none" stroke="#c83562" stroke-width="0.8"/>
<path d="M43.75,325.40 L44.30,324.60 L44.76,323.75 L44.85,323.58 L45.40,322.49 L45.78,321.72 L45.96,321.36 L46.51,320.21 L46.79,319.61 L47.06,319.06 L47.61,317.91 L47.81,317.49 L48.16,316.76 L48.71,315.64 L48.82,315.41 L49.26,314.52 L49.81,313.43 L49.83,313.39 L50.37,312.36 L50.85,311.44 L50.92,311.31 L51.47,310.28 L51.86,309.56 L52.02,309.28 L52.57,308.30 L52.88,307.76 L53.12,307.34 L53.67,306.41 L53.89,306.04 L54.22,305.50 L54.78,304.61 L54.91,304.40 L55.33,303.74 L55.88,302.91 L55.92,302.85 L56.43,302.16 L56.93,301.50 L56.98,301.44 L57.53,300.74 L57.95,300.22 L58.08,300.05 L58.63,299.39 L58.96,299.00 L59.19,298.74 L59.74,298.10 L59.98,297.83 L60.29,297.49 L60.84,296.88 L60.99,296.72 L61.39,296.30 L61.94,295.73 L62.00,295.66 L62.49,295.17 L63.02,294.65 L63.04,294.63 L63.60,294.10 L64.03,293.69 L64.15,293.58 L64.70,293.08 L65.05,292.77 L65.25,292.59 L66.06,291.89 L67.08,291.05 L68.09,290.24 L69.10,289.47 L70.12,288.74 L71.13,288.03 L72.15,287.35 L73.16,286.70 L74.17,286.08 L75.19,285.48 L76.20,284.91 L77.22,284.35 L78.23,283.82 L79.25,283.31 L80.26,282.82 L81.27,282.34 L82.29,281.88 L83.30,281.44 L84.32,281.01 L85.33,280.60 L86.34,280.20 L87.36,279.82 L88.37,279.45 L89.39,279.09 L90.40,278.74 L91.42,278.40 L92.43,278.08 L93.44,277.76 L94.46,277.46 L95.47,277.16 L96.49,276.87 L97.50,276.59 L98.51,276.32 L99.53,276.06 L100.54,275.80 L101.56,275.55 L102.57,275.31 L103.58,275.07 L104.60,274.85 L105.61,274.62 L106.63,274.41 L107.64,274.20 L108.66,273.99 L109.67,273.79 L110.68,273.59 L111.70,273.40 L112.71,273.22 L113.73,273.04 L114.74,272.86 L115.75,272.69 L116.77,272.52 L117.78,272.36 L118.80,272.20 L119.81,272.04 L120.83,271.89 L121.84,271.74 L122.85,271.59 L123.87,271.45 L124.88,271.31 L125.90,271.18 L126.91,271.04 L127.92,270.91 L128.94,270.78 L129.95,270.66 L130.97,270.54 L131.98,270.42 L133.00,270.30 L134.01,270.18 L135.02,270.07 L136.04,269.96 L137.05,269.85 L138.07,269.75 L139.08,269.64 L140.09,269.54 L141.11,269.44 L142.12,269.34 L143.14,269.24 L144.15,269.15 L145.17,269.06 L146.18,268.97 L147.19,268.88 L148.21,268.79 L149.22,268.70 L150.24,268.62 L151.25,268.53 L152.26,268.45 L153.28,268.37 L154.29,268.29 L155.31,268.22 L156.32,268.14 L157.33,268.07 L158.35,267.99 L159.36,267.92 L160.38,267.85 L161.39,267.78 L162.41,267.71 L163.42,267.64 L164.43,267.57 L165.45,267.51 L166.46,267.44 L167.48,267.38 L168.49,267.32 L169.50,267.26 L170.52,267.20 L171.53,267.14 L172.55,267.08 L173.56,267.02 L174.58,266.96 L175.59,266.91 L176.60,266.85 L177.62,266.80 L178.63,266.74 L179.65,266.69 L180.66,266.64 L181.67,266.59 L182.69,266.53 L183.70,266.48 L184.72,266.44 L185.73,266.39 L186.75,266.34 L187.76,266.29 L188.77,266.24 L189.79,266.20 L190.80,266.15 L191.82,266.11 L192.83,266.06 L193.84,266.02 L194.86,265.98 L195.87,265.94 L196.89,265.89 L197.90,265.85 L198.92,265.81 L199.93,265.77 L200.94,265.73 L201.96,265.69 L202.97,265.65 L203.99,265.62 L205.00,265.58" fill="none" stroke="#c83562" stroke-width="0.8"/>
<path d="M43.75,323.20 L44.30,322.40 L44.76,321.55 L44.85,321.38 L45.40,320.29 L45.78,319.52 L45.96,319.16 L46.51,318.01 L46.79,317.41 L47.06,316.86 L47.61,315.71 L47.81,315.29 L48.16,314.56 L48.71,313.44 L48.82,313.21 L49.26,312.32 L49.81,311.23 L49.83,311.19 L50.37,310.16 L50.85,309.24 L50.92,309.11 L51.47,308.08 L51.86,307.36 L52.02,307.08 L52.57,306.10 L52.88,305.56 L53.12,305.14 L53.67,304.21 L53.89,303.84 L54.22,303.30 L54.78,302.41 L54.91,302.20 L55.33,301.54 L55.88,300.70 L55.92,300.64 L56.43,299.88 L56.93,299.15 L56.98,299.08 L57.53,298.30 L57.95,297.72 L58.08,297.54 L58.63,296.80 L58.96,296.37 L59.19,296.08 L59.74,295.38 L59.98,295.08 L60.29,294.69 L60.84,294.03 L60.99,293.85 L61.39,293.38 L61.94,292.74 L62.00,292.67 L62.49,292.13 L63.02,291.55 L63.04,291.52 L63.60,290.94 L64.03,290.48 L64.15,290.37 L64.70,289.81 L65.05,289.46 L65.25,289.26 L66.06,288.49 L67.08,287.55 L68.09,286.66 L69.10,285.81 L70.12,284.99 L71.13,284.21 L72.15,283.46 L73.16,282.74 L74.17,282.05 L75.19,281.38 L76.20,280.75 L77.22,280.13 L78.23,279.54 L79.25,278.97 L80.26,278.43 L81.27,277.90 L82.29,277.39 L83.30,276.90 L84.32,276.43 L85.33,275.97 L86.34,275.53 L87.36,275.11 L88.37,274.69 L89.39,274.30 L90.40,273.91 L91.42,273.54 L92.43,273.18 L93.44,272.82 L94.46,272.49 L95.47,272.16 L96.49,271.84 L97.50,271.53 L98.51,271.23 L99.53,270.93 L100.54,270.65 L101.56,270.37 L102.57,270.11 L103.58,269.85 L104.60,269.59 L105.61,269.35 L106.63,269.10 L107.64,268.87 L108.66,268.64 L109.67,268.42 L110.68,268.21 L111.70,267.99 L112.71,267.79 L113.73,267.59 L114.74,267.39 L115.75,267.20 L116.77,267.02 L117.78,266.83 L118.80,266.66 L119.81,266.48 L120.83,266.31 L121.84,266.15 L122.85,265.99 L123.87,265.83 L124.88,265.67 L125.90,265.52 L126.91,265.37 L127.92,265.23 L128.94,265.09 L129.95,264.95 L130.97,264.81 L131.98,264.68 L133.00,264.55 L134.01,264.42 L135.02,264.30 L136.04,264.18 L137.05,264.06 L138.07,263.94 L139.08,263.82 L140.09,263.71 L141.11,263.60 L142.12,263.49 L143.14,263.38 L144.15,263.28 L145.17,263.17 L146.18,263.07 L147.19,262.97 L148.21,262.88 L149.22,262.78 L150.24,262.69 L151.25,262.60 L152.26,262.50 L153.28,262.42 L154.29,262.33 L155.31,262.24 L156.32,262.16 L157.33,262.07 L158.35,261.99 L159.36,261.91 L160.38,261.83 L161.39,261.76 L162.41,261.68 L163.42,261.60 L164.43,261.53 L165.45,261.46 L166.46,261.39 L167.48,261.32 L168.49,261.25 L169.50,261.18 L170.52,261.11 L171.53,261.04 L172.55,260.98 L173.56,260.91 L174.58,260.85 L175.59,260.79 L176.60,260.73 L177.62,260.67 L178.63,260.61 L179.65,260.55 L180.66,260.49 L181.67,260.43 L182.69,260.38 L183.70,260.32 L184.72,260.27 L185.73,260.21 L186.75,260.16 L187.76,260.11 L188.77,260.06 L189.79,260.01 L190.80,259.96 L191.82,259.91 L192.83,259.86 L193.84,259.81 L194.86,259.76 L195.87,259.71 L196.89,259.67 L197.90,259.62 L198.92,259.58 L199.93,259.53 L200.94,259.49 L201.96,259.44 L202.97,259.40 L203.99,259.36 L205.00,259.32" fill="none" stroke="#b8002f" stroke-width="2.2"/>
<clipPath id="cG"><path d="M43.75,321.90 L44.30,319.73 L44.76,317.89 L44.85,317.53 L45.40,315.29 L45.78,313.75 L45.96,313.02 L46.51,310.72 L46.79,309.51 L47.06,308.38 L47.61,306.02 L47.81,305.17 L48.16,303.63 L48.71,301.19 L48.82,300.70 L49.26,298.68 L49.81,296.14 L49.83,296.05 L50.37,293.55 L50.85,291.20 L50.92,290.87 L51.47,288.22 L51.86,286.29 L52.02,285.52 L52.57,282.81 L52.88,281.31 L53.12,280.13 L53.67,277.50 L53.89,276.48 L54.22,274.95 L54.78,272.48 L54.91,271.91 L55.33,270.06 L55.88,267.70 L55.92,267.52 L56.43,265.39 L56.93,263.33 L56.98,263.14 L57.53,262.26 L57.95,260.82 L58.08,260.36 L58.63,258.49 L58.96,257.37 L59.19,256.61 L59.74,254.74 L59.98,253.95 L60.29,252.93 L60.84,251.19 L60.99,250.73 L61.39,249.56 L61.94,248.05 L62.00,247.89 L62.49,246.61 L63.02,245.30 L63.04,245.24 L63.60,243.93 L64.03,242.95 L64.15,242.69 L64.70,241.53 L65.05,240.82 L65.25,240.42 L66.06,238.90 L67.08,237.22 L68.09,235.73 L69.10,234.42 L70.12,233.24 L71.13,232.21 L72.15,231.35 L73.16,230.57 L74.17,229.88 L75.19,229.26 L76.20,228.71 L77.22,228.20 L78.23,227.71 L79.25,227.25 L80.26,226.83 L81.27,226.46 L82.29,226.17 L83.30,225.96 L84.32,225.80 L85.33,225.66 L86.34,225.54 L87.36,225.44 L88.37,225.35 L89.39,225.26 L90.40,225.19 L91.42,225.12 L92.43,225.05 L93.44,224.98 L94.46,224.92 L95.47,224.86 L96.49,224.81 L97.50,224.77 L98.51,224.72 L99.53,224.69 L100.54,224.66 L101.56,224.63 L102.57,224.59 L103.58,224.56 L104.60,224.54 L105.61,224.51 L106.63,224.49 L107.64,224.48 L108.66,224.47 L109.67,224.46 L110.68,224.46 L111.70,224.46 L112.71,224.46 L113.73,224.47 L114.74,224.47 L115.75,224.47 L116.77,224.47 L117.78,224.47 L118.80,224.47 L119.81,224.47 L120.83,224.48 L121.84,224.48 L122.85,224.48 L123.87,224.48 L124.88,224.49 L125.90,224.49 L126.91,224.49 L127.92,224.49 L128.94,224.50 L129.95,224.50 L130.97,224.50 L131.98,224.51 L133.00,224.51 L134.01,224.51 L135.02,224.52 L136.04,224.52 L137.05,224.52 L138.07,224.53 L139.08,224.53 L140.09,224.53 L141.11,224.54 L142.12,224.54 L143.14,224.54 L144.15,224.55 L145.17,224.55 L146.18,224.56 L147.19,224.56 L148.21,224.56 L149.22,224.57 L150.24,224.57 L151.25,224.57 L152.26,224.57 L153.28,224.58 L154.29,224.58 L155.31,224.58 L156.32,224.59 L157.33,224.59 L158.35,224.59 L159.36,224.60 L160.38,224.60 L161.39,224.61 L162.41,224.61 L163.42,224.61 L164.43,224.62 L165.45,224.62 L166.46,224.62 L167.48,224.63 L168.49,224.63 L169.50,224.63 L170.52,224.64 L171.53,224.64 L172.55,224.65 L173.56,224.65 L174.58,224.65 L175.59,224.66 L176.60,224.66 L177.62,224.67 L178.63,224.67 L179.65,224.67 L180.66,224.68 L181.67,224.68 L182.69,224.69 L183.70,224.69 L184.72,224.70 L185.73,224.70 L186.75,224.70 L187.76,224.71 L188.77,224.71 L189.79,224.72 L190.80,224.72 L191.82,224.73 L192.83,224.73 L193.84,224.74 L194.86,224.74 L195.87,224.74 L196.89,224.75 L197.90,224.75 L198.92,224.76 L199.93,224.76 L200.94,224.77 L201.96,224.77 L202.97,224.78 L203.99,224.78 L205.00,224.79 L205.00,232.79 L203.99,232.78 L202.97,232.78 L201.96,232.77 L200.94,232.77 L199.93,232.76 L198.92,232.76 L197.90,232.75 L196.89,232.75 L195.87,232.74 L194.86,232.74 L193.84,232.74 L192.83,232.73 L191.82,232.73 L190.80,232.72 L189.79,232.72 L188.77,232.71 L187.76,232.71 L186.75,232.70 L185.73,232.70 L184.72,232.70 L183.70,232.69 L182.69,232.69 L181.67,232.68 L180.66,232.68 L179.65,232.67 L178.63,232.67 L177.62,232.67 L176.60,232.66 L175.59,232.66 L174.58,232.65 L173.56,232.65 L172.55,232.65 L171.53,232.64 L170.52,232.64 L169.50,232.63 L168.49,232.63 L167.48,232.63 L166.46,232.62 L165.45,232.62 L164.43,232.62 L163.42,232.61 L162.41,232.61 L161.39,232.61 L160.38,232.60 L159.36,232.60 L158.35,232.59 L157.33,232.59 L156.32,232.59 L155.31,232.58 L154.29,232.58 L153.28,232.58 L152.26,232.57 L151.25,232.57 L150.24,232.57 L149.22,232.57 L148.21,232.56 L147.19,232.56 L146.18,232.56 L145.17,232.55 L144.15,232.55 L143.14,232.54 L142.12,232.54 L141.11,232.54 L140.09,232.53 L139.08,232.53 L138.07,232.53 L137.05,232.52 L136.04,232.52 L135.02,232.52 L134.01,232.51 L133.00,232.51 L131.98,232.51 L130.97,232.50 L129.95,232.50 L128.94,232.50 L127.92,232.49 L126.91,232.49 L125.90,232.49 L124.88,232.49 L123.87,232.48 L122.85,232.48 L121.84,232.48 L120.83,232.48 L119.81,232.47 L118.80,232.47 L117.78,232.47 L116.77,232.47 L115.75,232.47 L114.74,232.47 L113.73,232.47 L112.71,232.46 L111.70,232.46 L110.68,232.46 L109.67,232.46 L108.66,232.47 L107.64,232.48 L106.63,232.49 L105.61,232.51 L104.60,232.54 L103.58,232.56 L102.57,232.59 L101.56,232.63 L100.54,232.66 L99.53,232.69 L98.51,232.72 L97.50,232.77 L96.49,232.81 L95.47,232.86 L94.46,232.92 L93.44,232.98 L92.43,233.05 L91.42,233.12 L90.40,233.19 L89.39,233.26 L88.37,233.35 L87.36,233.44 L86.34,233.54 L85.33,233.66 L84.32,233.80 L83.30,233.96 L82.29,234.17 L81.27,234.46 L80.26,234.83 L79.25,235.25 L78.23,235.71 L77.22,236.20 L76.20,236.71 L75.19,237.26 L74.17,237.88 L73.16,238.57 L72.15,239.35 L71.13,240.21 L70.12,241.24 L69.10,242.42 L68.09,243.73 L67.08,245.22 L66.06,246.90 L65.25,248.31 L65.05,248.67 L64.70,249.30 L64.15,250.36 L64.03,250.59 L63.60,251.48 L63.04,252.66 L63.02,252.72 L62.49,253.91 L62.00,255.06 L61.94,255.21 L61.39,256.57 L60.99,257.63 L60.84,258.05 L60.29,259.62 L59.98,260.54 L59.74,261.26 L59.19,262.95 L58.96,263.64 L58.63,264.65 L58.08,266.35 L57.95,266.76 L57.53,268.06 L56.98,270.93 L56.93,271.07 L56.43,272.62 L55.92,274.26 L55.88,274.40 L55.33,276.26 L54.91,277.73 L54.78,278.20 L54.22,280.21 L53.89,281.47 L53.67,282.32 L53.12,284.53 L52.88,285.54 L52.57,286.83 L52.02,289.17 L51.86,289.84 L51.47,291.52 L50.92,293.87 L50.85,294.15 L50.37,296.24 L49.83,298.65 L49.81,298.74 L49.26,301.28 L48.82,303.30 L48.71,303.79 L48.16,306.23 L47.81,307.77 L47.61,308.62 L47.06,310.98 L46.79,312.11 L46.51,313.32 L45.96,315.62 L45.78,316.35 L45.40,317.89 L44.85,320.13 L44.76,320.49 L44.30,322.33 L43.75,324.50 Z"/></clipPath>
<path d="M43.75,321.90 L44.30,319.73 L44.76,317.89 L44.85,317.53 L45.40,315.29 L45.78,313.75 L45.96,313.02 L46.51,310.72 L46.79,309.51 L47.06,308.38 L47.61,306.02 L47.81,305.17 L48.16,303.63 L48.71,301.19 L48.82,300.70 L49.26,298.68 L49.81,296.14 L49.83,296.05 L50.37,293.55 L50.85,291.20 L50.92,290.87 L51.47,288.22 L51.86,286.29 L52.02,285.52 L52.57,282.81 L52.88,281.31 L53.12,280.13 L53.67,277.50 L53.89,276.48 L54.22,274.95 L54.78,272.48 L54.91,271.91 L55.33,270.06 L55.88,267.70 L55.92,267.52 L56.43,265.39 L56.93,263.33 L56.98,263.14 L57.53,262.26 L57.95,260.82 L58.08,260.36 L58.63,258.49 L58.96,257.37 L59.19,256.61 L59.74,254.74 L59.98,253.95 L60.29,252.93 L60.84,251.19 L60.99,250.73 L61.39,249.56 L61.94,248.05 L62.00,247.89 L62.49,246.61 L63.02,245.30 L63.04,245.24 L63.60,243.93 L64.03,242.95 L64.15,242.69 L64.70,241.53 L65.05,240.82 L65.25,240.42 L66.06,238.90 L67.08,237.22 L68.09,235.73 L69.10,234.42 L70.12,233.24 L71.13,232.21 L72.15,231.35 L73.16,230.57 L74.17,229.88 L75.19,229.26 L76.20,228.71 L77.22,228.20 L78.23,227.71 L79.25,227.25 L80.26,226.83 L81.27,226.46 L82.29,226.17 L83.30,225.96 L84.32,225.80 L85.33,225.66 L86.34,225.54 L87.36,225.44 L88.37,225.35 L89.39,225.26 L90.40,225.19 L91.42,225.12 L92.43,225.05 L93.44,224.98 L94.46,224.92 L95.47,224.86 L96.49,224.81 L97.50,224.77 L98.51,224.72 L99.53,224.69 L100.54,224.66 L101.56,224.63 L102.57,224.59 L103.58,224.56 L104.60,224.54 L105.61,224.51 L106.63,224.49 L107.64,224.48 L108.66,224.47 L109.67,224.46 L110.68,224.46 L111.70,224.46 L112.71,224.46 L113.73,224.47 L114.74,224.47 L115.75,224.47 L116.77,224.47 L117.78,224.47 L118.80,224.47 L119.81,224.47 L120.83,224.48 L121.84,224.48 L122.85,224.48 L123.87,224.48 L124.88,224.49 L125.90,224.49 L126.91,224.49 L127.92,224.49 L128.94,224.50 L129.95,224.50 L130.97,224.50 L131.98,224.51 L133.00,224.51 L134.01,224.51 L135.02,224.52 L136.04,224.52 L137.05,224.52 L138.07,224.53 L139.08,224.53 L140.09,224.53 L141.11,224.54 L142.12,224.54 L143.14,224.54 L144.15,224.55 L145.17,224.55 L146.18,224.56 L147.19,224.56 L148.21,224.56 L149.22,224.57 L150.24,224.57 L151.25,224.57 L152.26,224.57 L153.28,224.58 L154.29,224.58 L155.31,224.58 L156.32,224.59 L157.33,224.59 L158.35,224.59 L159.36,224.60 L160.38,224.60 L161.39,224.61 L162.41,224.61 L163.42,224.61 L164.43,224.62 L165.45,224.62 L166.46,224.62 L167.48,224.63 L168.49,224.63 L169.50,224.63 L170.52,224.64 L171.53,224.64 L172.55,224.65 L173.56,224.65 L174.58,224.65 L175.59,224.66 L176.60,224.66 L177.62,224.67 L178.63,224.67 L179.65,224.67 L180.66,224.68 L181.67,224.68 L182.69,224.69 L183.70,224.69 L184.72,224.70 L185.73,224.70 L186.75,224.70 L187.76,224.71 L188.77,224.71 L189.79,224.72 L190.80,224.72 L191.82,224.73 L192.83,224.73 L193.84,224.74 L194.86,224.74 L195.87,224.74 L196.89,224.75 L197.90,224.75 L198.92,224.76 L199.93,224.76 L200.94,224.77 L201.96,224.77 L202.97,224.78 L203.99,224.78 L205.00,224.79 L205.00,232.79 L203.99,232.78 L202.97,232.78 L201.96,232.77 L200.94,232.77 L199.93,232.76 L198.92,232.76 L197.90,232.75 L196.89,232.75 L195.87,232.74 L194.86,232.74 L193.84,232.74 L192.83,232.73 L191.82,232.73 L190.80,232.72 L189.79,232.72 L188.77,232.71 L187.76,232.71 L186.75,232.70 L185.73,232.70 L184.72,232.70 L183.70,232.69 L182.69,232.69 L181.67,232.68 L180.66,232.68 L179.65,232.67 L178.63,232.67 L177.62,232.67 L176.60,232.66 L175.59,232.66 L174.58,232.65 L173.56,232.65 L172.55,232.65 L171.53,232.64 L170.52,232.64 L169.50,232.63 L168.49,232.63 L167.48,232.63 L166.46,232.62 L165.45,232.62 L164.43,232.62 L163.42,232.61 L162.41,232.61 L161.39,232.61 L160.38,232.60 L159.36,232.60 L158.35,232.59 L157.33,232.59 L156.32,232.59 L155.31,232.58 L154.29,232.58 L153.28,232.58 L152.26,232.57 L151.25,232.57 L150.24,232.57 L149.22,232.57 L148.21,232.56 L147.19,232.56 L146.18,232.56 L145.17,232.55 L144.15,232.55 L143.14,232.54 L142.12,232.54 L141.11,232.54 L140.09,232.53 L139.08,232.53 L138.07,232.53 L137.05,232.52 L136.04,232.52 L135.02,232.52 L134.01,232.51 L133.00,232.51 L131.98,232.51 L130.97,232.50 L129.95,232.50 L128.94,232.50 L127.92,232.49 L126.91,232.49 L125.90,232.49 L124.88,232.49 L123.87,232.48 L122.85,232.48 L121.84,232.48 L120.83,232.48 L119.81,232.47 L118.80,232.47 L117.78,232.47 L116.77,232.47 L115.75,232.47 L114.74,232.47 L113.73,232.47 L112.71,232.46 L111.70,232.46 L110.68,232.46 L109.67,232.46 L108.66,232.47 L107.64,232.48 L106.63,232.49 L105.61,232.51 L104.60,232.54 L103.58,232.56 L102.57,232.59 L101.56,232.63 L100.54,232.66 L99.53,232.69 L98.51,232.72 L97.50,232.77 L96.49,232.81 L95.47,232.86 L94.46,232.92 L93.44,232.98 L92.43,233.05 L91.42,233.12 L90.40,233.19 L89.39,233.26 L88.37,233.35 L87.36,233.44 L86.34,233.54 L85.33,233.66 L84.32,233.80 L83.30,233.96 L82.29,234.17 L81.27,234.46 L80.26,234.83 L79.25,235.25 L78.23,235.71 L77.22,236.20 L76.20,236.71 L75.19,237.26 L74.17,237.88 L73.16,238.57 L72.15,239.35 L71.13,240.21 L70.12,241.24 L69.10,242.42 L68.09,243.73 L67.08,245.22 L66.06,246.90 L65.25,248.31 L65.05,248.67 L64.70,249.30 L64.15,250.36 L64.03,250.59 L63.60,251.48 L63.04,252.66 L63.02,252.72 L62.49,253.91 L62.00,255.06 L61.94,255.21 L61.39,256.57 L60.99,257.63 L60.84,258.05 L60.29,259.62 L59.98,260.54 L59.74,261.26 L59.19,262.95 L58.96,263.64 L58.63,264.65 L58.08,266.35 L57.95,266.76 L57.53,268.06 L56.98,270.93 L56.93,271.07 L56.43,272.62 L55.92,274.26 L55.88,274.40 L55.33,276.26 L54.91,277.73 L54.78,278.20 L54.22,280.21 L53.89,281.47 L53.67,282.32 L53.12,284.53 L52.88,285.54 L52.57,286.83 L52.02,289.17 L51.86,289.84 L51.47,291.52 L50.92,293.87 L50.85,294.15 L50.37,296.24 L49.83,298.65 L49.81,298.74 L49.26,301.28 L48.82,303.30 L48.71,303.79 L48.16,306.23 L47.81,307.77 L47.61,308.62 L47.06,310.98 L46.79,312.11 L46.51,313.32 L45.96,315.62 L45.78,316.35 L45.40,317.89 L44.85,320.13 L44.76,320.49 L44.30,322.33 L43.75,324.50 Z" fill="#8cd68c"/>
<path d="M44.65,222.5V326.5M46.45,222.5V326.5M48.25,222.5V326.5M50.05,222.5V326.5M51.85,222.5V326.5M53.65,222.5V326.5M55.45,222.5V326.5M57.25,222.5V326.5M59.05,222.5V326.5M60.85,222.5V326.5M62.65,222.5V326.5M64.45,222.5V326.5M66.25,222.5V326.5M68.05,222.5V326.5M69.85,222.5V326.5M71.65,222.5V326.5M73.45,222.5V326.5M75.25,222.5V326.5M77.05,222.5V326.5M78.85,222.5V326.5M80.65,222.5V326.5M82.45,222.5V326.5M84.25,222.5V326.5M86.05,222.5V326.5M87.85,222.5V326.5M89.65,222.5V326.5M91.45,222.5V326.5M93.25,222.5V326.5M95.05,222.5V326.5M96.85,222.5V326.5M98.65,222.5V326.5M100.45,222.5V326.5M102.25,222.5V326.5M104.05,222.5V326.5M105.85,222.5V326.5M107.65,222.5V326.5M109.45,222.5V326.5M111.25,222.5V326.5M113.05,222.5V326.5M114.85,222.5V326.5M116.65,222.5V326.5M118.45,222.5V326.5M120.25,222.5V326.5M122.05,222.5V326.5M123.85,222.5V326.5M125.65,222.5V326.5M127.45,222.5V326.5M129.25,222.5V326.5M131.05,222.5V326.5M132.85,222.5V326.5M134.65,222.5V326.5M136.45,222.5V326.5M138.25,222.5V326.5M140.05,222.5V326.5M141.85,222.5V326.5M143.65,222.5V326.5M145.45,222.5V326.5M147.25,222.5V326.5M149.05,222.5V326.5M150.85,222.5V326.5M152.65,222.5V326.5M154.45,222.5V326.5M156.25,222.5V326.5M158.05,222.5V326.5M159.85,222.5V326.5M161.65,222.5V326.5M163.45,222.5V326.5M165.25,222.5V326.5M167.05,222.5V326.5M168.85,222.5V326.5M170.65,222.5V326.5M172.45,222.5V326.5M174.25,222.5V326.5M176.05,222.5V326.5M177.85,222.5V326.5M179.65,222.5V326.5M181.45,222.5V326.5M183.25,222.5V326.5M185.05,222.5V326.5M186.85,222.5V326.5M188.65,222.5V326.5M190.45,222.5V326.5M192.25,222.5V326.5M194.05,222.5V326.5M195.85,222.5V326.5M197.65,222.5V326.5M199.45,222.5V326.5M201.25,222.5V326.5M203.05,222.5V326.5M204.85,222.5V326.5" stroke="#d8f8d8" stroke-opacity="0.6" stroke-width="0.7" clip-path="url(#cG)"/>
<path d="M42.25,321.90h3.0M42.25,324.50h3.0M43.90,315.29h3.0M43.90,317.89h3.0M45.56,308.38h3.0M45.56,310.98h3.0M47.21,301.19h3.0M47.21,303.79h3.0M48.87,293.55h3.0M48.87,296.24h3.0M50.52,285.52h3.0M50.52,289.17h3.0M52.17,277.50h3.0M52.17,282.32h3.0M53.83,270.06h3.0M53.83,276.26h3.0M55.43,263.33h3.0M55.43,271.07h3.0M57.13,258.49h3.0M57.13,264.65h3.0M58.79,252.93h3.0M58.79,259.62h3.0M60.44,248.05h3.0M60.44,255.21h3.0M62.10,243.93h3.0M62.10,251.48h3.0M63.75,240.42h3.0M63.75,248.31h3.0M65.58,237.22h3.0M65.58,245.22h3.0M67.60,234.42h3.0M67.60,242.42h3.0M69.63,232.21h3.0M69.63,240.21h3.0M71.66,230.57h3.0M71.66,238.57h3.0M73.69,229.26h3.0M73.69,237.26h3.0M75.72,228.20h3.0M75.72,236.20h3.0M77.75,227.25h3.0M77.75,235.25h3.0M79.77,226.46h3.0M79.77,234.46h3.0M81.80,225.96h3.0M81.80,233.96h3.0M83.83,225.66h3.0M83.83,233.66h3.0M85.86,225.44h3.0M85.86,233.44h3.0M87.89,225.26h3.0M87.89,233.26h3.0M89.92,225.12h3.0M89.92,233.12h3.0M91.94,224.98h3.0M91.94,232.98h3.0M93.97,224.86h3.0M93.97,232.86h3.0M96.00,224.77h3.0M96.00,232.77h3.0M98.03,224.69h3.0M98.03,232.69h3.0M100.06,224.63h3.0M100.06,232.63h3.0M102.08,224.56h3.0M102.08,232.56h3.0M104.11,224.51h3.0M104.11,232.51h3.0M106.14,224.48h3.0M106.14,232.48h3.0M108.17,224.46h3.0M108.17,232.46h3.0M110.20,224.46h3.0M110.20,232.46h3.0M112.23,224.47h3.0M112.23,232.47h3.0M114.25,224.47h3.0M114.25,232.47h3.0M116.28,224.47h3.0M116.28,232.47h3.0M118.31,224.47h3.0M118.31,232.47h3.0M120.34,224.48h3.0M120.34,232.48h3.0M122.37,224.48h3.0M122.37,232.48h3.0M124.40,224.49h3.0M124.40,232.49h3.0M126.42,224.49h3.0M126.42,232.49h3.0M128.45,224.50h3.0M128.45,232.50h3.0M130.48,224.51h3.0M130.48,232.51h3.0M132.51,224.51h3.0M132.51,232.51h3.0M134.54,224.52h3.0M134.54,232.52h3.0M136.57,224.53h3.0M136.57,232.53h3.0M138.59,224.53h3.0M138.59,232.53h3.0M140.62,224.54h3.0M140.62,232.54h3.0M142.65,224.55h3.0M142.65,232.55h3.0M144.68,224.56h3.0M144.68,232.56h3.0M146.71,224.56h3.0M146.71,232.56h3.0M148.74,224.57h3.0M148.74,232.57h3.0M150.76,224.57h3.0M150.76,232.57h3.0M152.79,224.58h3.0M152.79,232.58h3.0M154.82,224.59h3.0M154.82,232.59h3.0M156.85,224.59h3.0M156.85,232.59h3.0M158.88,224.60h3.0M158.88,232.60h3.0M160.91,224.61h3.0M160.91,232.61h3.0M162.93,224.62h3.0M162.93,232.62h3.0M164.96,224.62h3.0M164.96,232.62h3.0M166.99,224.63h3.0M166.99,232.63h3.0M169.02,224.64h3.0M169.02,232.64h3.0M171.05,224.65h3.0M171.05,232.65h3.0M173.08,224.65h3.0M173.08,232.65h3.0M175.10,224.66h3.0M175.10,232.66h3.0M177.13,224.67h3.0M177.13,232.67h3.0M179.16,224.68h3.0M179.16,232.68h3.0M181.19,224.69h3.0M181.19,232.69h3.0M183.22,224.70h3.0M183.22,232.70h3.0M185.25,224.70h3.0M185.25,232.70h3.0M187.27,224.71h3.0M187.27,232.71h3.0M189.30,224.72h3.0M189.30,232.72h3.0M191.33,224.73h3.0M191.33,232.73h3.0M193.36,224.74h3.0M193.36,232.74h3.0M195.39,224.75h3.0M195.39,232.75h3.0M197.42,224.76h3.0M197.42,232.76h3.0M199.44,224.77h3.0M199.44,232.77h3.0M201.47,224.78h3.0M201.47,232.78h3.0M203.50,224.79h3.0M203.50,232.79h3.0" stroke="#6cc66c" stroke-width="0.7" fill="none"/>
<path d="M43.75,322.55 L44.30,320.38 L44.76,318.54 L44.85,318.18 L45.40,315.94 L45.78,314.40 L45.96,313.67 L46.51,311.37 L46.79,310.16 L47.06,309.03 L47.61,306.67 L47.81,305.82 L48.16,304.28 L48.71,301.84 L48.82,301.35 L49.26,299.33 L49.81,296.79 L49.83,296.70 L50.37,294.22 L50.85,291.94 L50.92,291.62 L51.47,289.04 L51.86,287.17 L52.02,286.43 L52.57,283.82 L52.88,282.37 L53.12,281.23 L53.67,278.70 L53.89,277.73 L54.22,276.27 L54.78,273.91 L54.91,273.36 L55.33,271.61 L55.88,269.37 L55.92,269.21 L56.43,267.20 L56.93,265.26 L56.98,265.09 L57.53,263.71 L57.95,262.31 L58.08,261.86 L58.63,260.03 L58.96,258.94 L59.19,258.19 L59.74,256.37 L59.98,255.60 L60.29,254.60 L60.84,252.90 L60.99,252.46 L61.39,251.31 L61.94,249.84 L62.00,249.68 L62.49,248.44 L63.02,247.16 L63.04,247.10 L63.60,245.82 L64.03,244.86 L64.15,244.61 L64.70,243.47 L65.05,242.78 L65.25,242.39 L66.06,240.90 L67.08,239.22 L68.09,237.73 L69.10,236.42 L70.12,235.24 L71.13,234.21 L72.15,233.35 L73.16,232.57 L74.17,231.88 L75.19,231.26 L76.20,230.71 L77.22,230.20 L78.23,229.71 L79.25,229.25 L80.26,228.83 L81.27,228.46 L82.29,228.17 L83.30,227.96 L84.32,227.80 L85.33,227.66 L86.34,227.54 L87.36,227.44 L88.37,227.35 L89.39,227.26 L90.40,227.19 L91.42,227.12 L92.43,227.05 L93.44,226.98 L94.46,226.92 L95.47,226.86 L96.49,226.81 L97.50,226.77 L98.51,226.72 L99.53,226.69 L100.54,226.66 L101.56,226.63 L102.57,226.59 L103.58,226.56 L104.60,226.54 L105.61,226.51 L106.63,226.49 L107.64,226.48 L108.66,226.47 L109.67,226.46 L110.68,226.46 L111.70,226.46 L112.71,226.46 L113.73,226.47 L114.74,226.47 L115.75,226.47 L116.77,226.47 L117.78,226.47 L118.80,226.47 L119.81,226.47 L120.83,226.48 L121.84,226.48 L122.85,226.48 L123.87,226.48 L124.88,226.49 L125.90,226.49 L126.91,226.49 L127.92,226.49 L128.94,226.50 L129.95,226.50 L130.97,226.50 L131.98,226.51 L133.00,226.51 L134.01,226.51 L135.02,226.52 L136.04,226.52 L137.05,226.52 L138.07,226.53 L139.08,226.53 L140.09,226.53 L141.11,226.54 L142.12,226.54 L143.14,226.54 L144.15,226.55 L145.17,226.55 L146.18,226.56 L147.19,226.56 L148.21,226.56 L149.22,226.57 L150.24,226.57 L151.25,226.57 L152.26,226.57 L153.28,226.58 L154.29,226.58 L155.31,226.58 L156.32,226.59 L157.33,226.59 L158.35,226.59 L159.36,226.60 L160.38,226.60 L161.39,226.61 L162.41,226.61 L163.42,226.61 L164.43,226.62 L165.45,226.62 L166.46,226.62 L167.48,226.63 L168.49,226.63 L169.50,226.63 L170.52,226.64 L171.53,226.64 L172.55,226.65 L173.56,226.65 L174.58,226.65 L175.59,226.66 L176.60,226.66 L177.62,226.67 L178.63,226.67 L179.65,226.67 L180.66,226.68 L181.67,226.68 L182.69,226.69 L183.70,226.69 L184.72,226.70 L185.73,226.70 L186.75,226.70 L187.76,226.71 L188.77,226.71 L189.79,226.72 L190.80,226.72 L191.82,226.73 L192.83,226.73 L193.84,226.74 L194.86,226.74 L195.87,226.74 L196.89,226.75 L197.90,226.75 L198.92,226.76 L199.93,226.76 L200.94,226.77 L201.96,226.77 L202.97,226.78 L203.99,226.78 L205.00,226.79" fill="none" stroke="#e0f8e0" stroke-opacity="0.55" stroke-width="0.9" clip-path="url(#cG)"/>
<path d="M43.75,323.85 L44.30,321.68 L44.76,319.84 L44.85,319.48 L45.40,317.24 L45.78,315.70 L45.96,314.97 L46.51,312.67 L46.79,311.46 L47.06,310.33 L47.61,307.97 L47.81,307.12 L48.16,305.58 L48.71,303.14 L48.82,302.65 L49.26,300.63 L49.81,298.09 L49.83,298.00 L50.37,295.57 L50.85,293.42 L50.92,293.12 L51.47,290.70 L51.86,288.95 L52.02,288.26 L52.57,285.83 L52.88,284.49 L53.12,283.43 L53.67,281.11 L53.89,280.22 L54.22,278.89 L54.78,276.77 L54.91,276.28 L55.33,274.71 L55.88,272.73 L55.92,272.58 L56.43,270.81 L56.93,269.13 L56.98,268.98 L57.53,266.61 L57.95,265.28 L58.08,264.85 L58.63,263.11 L58.96,262.07 L59.19,261.36 L59.74,259.63 L59.98,258.89 L60.29,257.95 L60.84,256.33 L60.99,255.91 L61.39,254.82 L61.94,253.42 L62.00,253.27 L62.49,252.08 L63.02,250.87 L63.04,250.81 L63.60,249.59 L64.03,248.68 L64.15,248.44 L64.70,247.36 L65.05,246.71 L65.25,246.34 L66.06,244.90 L67.08,243.22 L68.09,241.73 L69.10,240.42 L70.12,239.24 L71.13,238.21 L72.15,237.35 L73.16,236.57 L74.17,235.88 L75.19,235.26 L76.20,234.71 L77.22,234.20 L78.23,233.71 L79.25,233.25 L80.26,232.83 L81.27,232.46 L82.29,232.17 L83.30,231.96 L84.32,231.80 L85.33,231.66 L86.34,231.54 L87.36,231.44 L88.37,231.35 L89.39,231.26 L90.40,231.19 L91.42,231.12 L92.43,231.05 L93.44,230.98 L94.46,230.92 L95.47,230.86 L96.49,230.81 L97.50,230.77 L98.51,230.72 L99.53,230.69 L100.54,230.66 L101.56,230.63 L102.57,230.59 L103.58,230.56 L104.60,230.54 L105.61,230.51 L106.63,230.49 L107.64,230.48 L108.66,230.47 L109.67,230.46 L110.68,230.46 L111.70,230.46 L112.71,230.46 L113.73,230.47 L114.74,230.47 L115.75,230.47 L116.77,230.47 L117.78,230.47 L118.80,230.47 L119.81,230.47 L120.83,230.48 L121.84,230.48 L122.85,230.48 L123.87,230.48 L124.88,230.49 L125.90,230.49 L126.91,230.49 L127.92,230.49 L128.94,230.50 L129.95,230.50 L130.97,230.50 L131.98,230.51 L133.00,230.51 L134.01,230.51 L135.02,230.52 L136.04,230.52 L137.05,230.52 L138.07,230.53 L139.08,230.53 L140.09,230.53 L141.11,230.54 L142.12,230.54 L143.14,230.54 L144.15,230.55 L145.17,230.55 L146.18,230.56 L147.19,230.56 L148.21,230.56 L149.22,230.57 L150.24,230.57 L151.25,230.57 L152.26,230.57 L153.28,230.58 L154.29,230.58 L155.31,230.58 L156.32,230.59 L157.33,230.59 L158.35,230.59 L159.36,230.60 L160.38,230.60 L161.39,230.61 L162.41,230.61 L163.42,230.61 L164.43,230.62 L165.45,230.62 L166.46,230.62 L167.48,230.63 L168.49,230.63 L169.50,230.63 L170.52,230.64 L171.53,230.64 L172.55,230.65 L173.56,230.65 L174.58,230.65 L175.59,230.66 L176.60,230.66 L177.62,230.67 L178.63,230.67 L179.65,230.67 L180.66,230.68 L181.67,230.68 L182.69,230.69 L183.70,230.69 L184.72,230.70 L185.73,230.70 L186.75,230.70 L187.76,230.71 L188.77,230.71 L189.79,230.72 L190.80,230.72 L191.82,230.73 L192.83,230.73 L193.84,230.74 L194.86,230.74 L195.87,230.74 L196.89,230.75 L197.90,230.75 L198.92,230.76 L199.93,230.76 L200.94,230.77 L201.96,230.77 L202.97,230.78 L203.99,230.78 L205.00,230.79" fill="none" stroke="#e0f8e0" stroke-opacity="0.55" stroke-width="0.9" clip-path="url(#cG)"/>
<path d="M43.75,321.90 L44.30,319.73 L44.76,317.89 L44.85,317.53 L45.40,315.29 L45.78,313.75 L45.96,313.02 L46.51,310.72 L46.79,309.51 L47.06,308.38 L47.61,306.02 L47.81,305.17 L48.16,303.63 L48.71,301.19 L48.82,300.70 L49.26,298.68 L49.81,296.14 L49.83,296.05 L50.37,293.55 L50.85,291.20 L50.92,290.87 L51.47,288.22 L51.86,286.29 L52.02,285.52 L52.57,282.81 L52.88,281.31 L53.12,280.13 L53.67,277.50 L53.89,276.48 L54.22,274.95 L54.78,272.48 L54.91,271.91 L55.33,270.06 L55.88,267.70 L55.92,267.52 L56.43,265.39 L56.93,263.33 L56.98,263.14 L57.53,262.26 L57.95,260.82 L58.08,260.36 L58.63,258.49 L58.96,257.37 L59.19,256.61 L59.74,254.74 L59.98,253.95 L60.29,252.93 L60.84,251.19 L60.99,250.73 L61.39,249.56 L61.94,248.05 L62.00,247.89 L62.49,246.61 L63.02,245.30 L63.04,245.24 L63.60,243.93 L64.03,242.95 L64.15,242.69 L64.70,241.53 L65.05,240.82 L65.25,240.42 L66.06,238.90 L67.08,237.22 L68.09,235.73 L69.10,234.42 L70.12,233.24 L71.13,232.21 L72.15,231.35 L73.16,230.57 L74.17,229.88 L75.19,229.26 L76.20,228.71 L77.22,228.20 L78.23,227.71 L79.25,227.25 L80.26,226.83 L81.27,226.46 L82.29,226.17 L83.30,225.96 L84.32,225.80 L85.33,225.66 L86.34,225.54 L87.36,225.44 L88.37,225.35 L89.39,225.26 L90.40,225.19 L91.42,225.12 L92.43,225.05 L93.44,224.98 L94.46,224.92 L95.47,224.86 L96.49,224.81 L97.50,224.77 L98.51,224.72 L99.53,224.69 L100.54,224.66 L101.56,224.63 L102.57,224.59 L103.58,224.56 L104.60,224.54 L105.61,224.51 L106.63,224.49 L107.64,224.48 L108.66,224.47 L109.67,224.46 L110.68,224.46 L111.70,224.46 L112.71,224.46 L113.73,224.47 L114.74,224.47 L115.75,224.47 L116.77,224.47 L117.78,224.47 L118.80,224.47 L119.81,224.47 L120.83,224.48 L121.84,224.48 L122.85,224.48 L123.87,224.48 L124.88,224.49 L125.90,224.49 L126.91,224.49 L127.92,224.49 L128.94,224.50 L129.95,224.50 L130.97,224.50 L131.98,224.51 L133.00,224.51 L134.01,224.51 L135.02,224.52 L136.04,224.52 L137.05,224.52 L138.07,224.53 L139.08,224.53 L140.09,224.53 L141.11,224.54 L142.12,224.54 L143.14,224.54 L144.15,224.55 L145.17,224.55 L146.18,224.56 L147.19,224.56 L148.21,224.56 L149.22,224.57 L150.24,224.57 L151.25,224.57 L152.26,224.57 L153.28,224.58 L154.29,224.58 L155.31,224.58 L156.32,224.59 L157.33,224.59 L158.35,224.59 L159.36,224.60 L160.38,224.60 L161.39,224.61 L162.41,224.61 L163.42,224.61 L164.43,224.62 L165.45,224.62 L166.46,224.62 L167.48,224.63 L168.49,224.63 L169.50,224.63 L170.52,224.64 L171.53,224.64 L172.55,224.65 L173.56,224.65 L174.58,224.65 L175.59,224.66 L176.60,224.66 L177.62,224.67 L178.63,224.67 L179.65,224.67 L180.66,224.68 L181.67,224.68 L182.69,224.69 L183.70,224.69 L184.72,224.70 L185.73,224.70 L186.75,224.70 L187.76,224.71 L188.77,224.71 L189.79,224.72 L190.80,224.72 L191.82,224.73 L192.83,224.73 L193.84,224.74 L194.86,224.74 L195.87,224.74 L196.89,224.75 L197.90,224.75 L198.92,224.76 L199.93,224.76 L200.94,224.77 L201.96,224.77 L202.97,224.78 L203.99,224.78 L205.00,224.79" fill="none" stroke="#3fb04f" stroke-width="0.8"/>
<path d="M43.75,324.50 L44.30,322.33 L44.76,320.49 L44.85,320.13 L45.40,317.89 L45.78,316.35 L45.96,315.62 L46.51,313.32 L46.79,312.11 L47.06,310.98 L47.61,308.62 L47.81,307.77 L48.16,306.23 L48.71,303.79 L48.82,303.30 L49.26,301.28 L49.81,298.74 L49.83,298.65 L50.37,296.24 L50.85,294.15 L50.92,293.87 L51.47,291.52 L51.86,289.84 L52.02,289.17 L52.57,286.83 L52.88,285.54 L53.12,284.53 L53.67,282.32 L53.89,281.47 L54.22,280.21 L54.78,278.20 L54.91,277.73 L55.33,276.26 L55.88,274.40 L55.92,274.26 L56.43,272.62 L56.93,271.07 L56.98,270.93 L57.53,268.06 L57.95,266.76 L58.08,266.35 L58.63,264.65 L58.96,263.64 L59.19,262.95 L59.74,261.26 L59.98,260.54 L60.29,259.62 L60.84,258.05 L60.99,257.63 L61.39,256.57 L61.94,255.21 L62.00,255.06 L62.49,253.91 L63.02,252.72 L63.04,252.66 L63.60,251.48 L64.03,250.59 L64.15,250.36 L64.70,249.30 L65.05,248.67 L65.25,248.31 L66.06,246.90 L67.08,245.22 L68.09,243.73 L69.10,242.42 L70.12,241.24 L71.13,240.21 L72.15,239.35 L73.16,238.57 L74.17,237.88 L75.19,237.26 L76.20,236.71 L77.22,236.20 L78.23,235.71 L79.25,235.25 L80.26,234.83 L81.27,234.46 L82.29,234.17 L83.30,233.96 L84.32,233.80 L85.33,233.66 L86.34,233.54 L87.36,233.44 L88.37,233.35 L89.39,233.26 L90.40,233.19 L91.42,233.12 L92.43,233.05 L93.44,232.98 L94.46,232.92 L95.47,232.86 L96.49,232.81 L97.50,232.77 L98.51,232.72 L99.53,232.69 L100.54,232.66 L101.56,232.63 L102.57,232.59 L103.58,232.56 L104.60,232.54 L105.61,232.51 L106.63,232.49 L107.64,232.48 L108.66,232.47 L109.67,232.46 L110.68,232.46 L111.70,232.46 L112.71,232.46 L113.73,232.47 L114.74,232.47 L115.75,232.47 L116.77,232.47 L117.78,232.47 L118.80,232.47 L119.81,232.47 L120.83,232.48 L121.84,232.48 L122.85,232.48 L123.87,232.48 L124.88,232.49 L125.90,232.49 L126.91,232.49 L127.92,232.49 L128.94,232.50 L129.95,232.50 L130.97,232.50 L131.98,232.51 L133.00,232.51 L134.01,232.51 L135.02,232.52 L136.04,232.52 L137.05,232.52 L138.07,232.53 L139.08,232.53 L140.09,232.53 L141.11,232.54 L142.12,232.54 L143.14,232.54 L144.15,232.55 L145.17,232.55 L146.18,232.56 L147.19,232.56 L148.21,232.56 L149.22,232.57 L150.24,232.57 L151.25,232.57 L152.26,232.57 L153.28,232.58 L154.29,232.58 L155.31,232.58 L156.32,232.59 L157.33,232.59 L158.35,232.59 L159.36,232.60 L160.38,232.60 L161.39,232.61 L162.41,232.61 L163.42,232.61 L164.43,232.62 L165.45,232.62 L166.46,232.62 L167.48,232.63 L168.49,232.63 L169.50,232.63 L170.52,232.64 L171.53,232.64 L172.55,232.65 L173.56,232.65 L174.58,232.65 L175.59,232.66 L176.60,232.66 L177.62,232.67 L178.63,232.67 L179.65,232.67 L180.66,232.68 L181.67,232.68 L182.69,232.69 L183.70,232.69 L184.72,232.70 L185.73,232.70 L186.75,232.70 L187.76,232.71 L188.77,232.71 L189.79,232.72 L190.80,232.72 L191.82,232.73 L192.83,232.73 L193.84,232.74 L194.86,232.74 L195.87,232.74 L196.89,232.75 L197.90,232.75 L198.92,232.76 L199.93,232.76 L200.94,232.77 L201.96,232.77 L202.97,232.78 L203.99,232.78 L205.00,232.79" fill="none" stroke="#3fb04f" stroke-width="0.8"/>
<path d="M43.75,323.20 L44.30,321.03 L44.76,319.19 L44.85,318.83 L45.40,316.59 L45.78,315.05 L45.96,314.32 L46.51,312.02 L46.79,310.81 L47.06,309.68 L47.61,307.32 L47.81,306.47 L48.16,304.93 L48.71,302.49 L48.82,302.00 L49.26,299.98 L49.81,297.44 L49.83,297.35 L50.37,294.90 L50.85,292.68 L50.92,292.37 L51.47,289.87 L51.86,288.06 L52.02,287.35 L52.57,284.82 L52.88,283.43 L53.12,282.33 L53.67,279.91 L53.89,278.97 L54.22,277.58 L54.78,275.34 L54.91,274.82 L55.33,273.16 L55.88,271.05 L55.92,270.89 L56.43,269.01 L56.93,267.20 L56.98,267.03 L57.53,265.16 L57.95,263.79 L58.08,263.35 L58.63,261.57 L58.96,260.51 L59.19,259.78 L59.74,258.00 L59.98,257.25 L60.29,256.27 L60.84,254.62 L60.99,254.18 L61.39,253.07 L61.94,251.63 L62.00,251.47 L62.49,250.26 L63.02,249.01 L63.04,248.95 L63.60,247.71 L64.03,246.77 L64.15,246.53 L64.70,245.41 L65.05,244.75 L65.25,244.36 L66.06,242.90 L67.08,241.22 L68.09,239.73 L69.10,238.42 L70.12,237.24 L71.13,236.21 L72.15,235.35 L73.16,234.57 L74.17,233.88 L75.19,233.26 L76.20,232.71 L77.22,232.20 L78.23,231.71 L79.25,231.25 L80.26,230.83 L81.27,230.46 L82.29,230.17 L83.30,229.96 L84.32,229.80 L85.33,229.66 L86.34,229.54 L87.36,229.44 L88.37,229.35 L89.39,229.26 L90.40,229.19 L91.42,229.12 L92.43,229.05 L93.44,228.98 L94.46,228.92 L95.47,228.86 L96.49,228.81 L97.50,228.77 L98.51,228.72 L99.53,228.69 L100.54,228.66 L101.56,228.63 L102.57,228.59 L103.58,228.56 L104.60,228.54 L105.61,228.51 L106.63,228.49 L107.64,228.48 L108.66,228.47 L109.67,228.46 L110.68,228.46 L111.70,228.46 L112.71,228.46 L113.73,228.47 L114.74,228.47 L115.75,228.47 L116.77,228.47 L117.78,228.47 L118.80,228.47 L119.81,228.47 L120.83,228.48 L121.84,228.48 L122.85,228.48 L123.87,228.48 L124.88,228.49 L125.90,228.49 L126.91,228.49 L127.92,228.49 L128.94,228.50 L129.95,228.50 L130.97,228.50 L131.98,228.51 L133.00,228.51 L134.01,228.51 L135.02,228.52 L136.04,228.52 L137.05,228.52 L138.07,228.53 L139.08,228.53 L140.09,228.53 L141.11,228.54 L142.12,228.54 L143.14,228.54 L144.15,228.55 L145.17,228.55 L146.18,228.56 L147.19,228.56 L148.21,228.56 L149.22,228.57 L150.24,228.57 L151.25,228.57 L152.26,228.57 L153.28,228.58 L154.29,228.58 L155.31,228.58 L156.32,228.59 L157.33,228.59 L158.35,228.59 L159.36,228.60 L160.38,228.60 L161.39,228.61 L162.41,228.61 L163.42,228.61 L164.43,228.62 L165.45,228.62 L166.46,228.62 L167.48,228.63 L168.49,228.63 L169.50,228.63 L170.52,228.64 L171.53,228.64 L172.55,228.65 L173.56,228.65 L174.58,228.65 L175.59,228.66 L176.60,228.66 L177.62,228.67 L178.63,228.67 L179.65,228.67 L180.66,228.68 L181.67,228.68 L182.69,228.69 L183.70,228.69 L184.72,228.70 L185.73,228.70 L186.75,228.70 L187.76,228.71 L188.77,228.71 L189.79,228.72 L190.80,228.72 L191.82,228.73 L192.83,228.73 L193.84,228.74 L194.86,228.74 L195.87,228.74 L196.89,228.75 L197.90,228.75 L198.92,228.76 L199.93,228.76 L200.94,228.77 L201.96,228.77 L202.97,228.78 L203.99,228.78 L205.00,228.79" fill="none" stroke="#1e9a2e" stroke-width="1.3"/>
<path d="M43.75,268.10 L44.15,264.63 L44.56,261.37 L44.96,258.37 L45.37,255.61 L45.77,253.02 L46.17,250.60 L46.58,248.32 L46.98,246.14 L47.39,244.05 L47.79,242.11 L48.20,240.33 L48.60,238.71 L49.00,237.17 L49.41,235.76 L49.81,234.57 L50.22,233.60 L50.62,232.71 L51.02,231.88 L51.43,231.15 L51.83,230.56 L52.24,230.12 L52.64,229.84 L53.05,229.60 L53.45,229.39 L53.85,229.23 L54.26,229.13 L54.66,229.10 L55.07,229.23 L55.47,229.51 L55.87,229.91 L56.28,230.39 L56.68,230.92 L57.09,231.69 L57.49,232.74 L57.89,233.95 L58.30,235.22 L58.70,236.70 L59.11,238.38 L59.51,240.09 L59.92,241.69 L60.32,243.12 L60.72,244.48 L61.13,245.79 L61.53,247.07 L61.94,248.32 L62.34,249.56 L62.74,250.79 L63.15,252.03 L63.55,253.28 L63.96,254.51 L64.36,255.73 L64.77,256.94 L65.17,258.15 L65.57,259.36 L65.98,260.58 L66.38,261.82 L66.79,263.09 L67.19,264.41 L67.59,265.76 L68.00,267.08 L68.40,268.32 L68.81,269.47 L69.21,270.57 L69.61,271.65 L70.02,272.69 L70.42,273.69 L70.83,274.66 L71.23,275.60 L71.64,276.50 L72.04,277.35 L72.44,278.17 L72.85,278.96 L73.25,279.73 L73.66,280.49 L74.06,281.26 L74.46,282.03 L74.87,282.84 L75.27,283.66 L75.68,284.50 L76.08,285.35 L76.48,286.19 L76.89,287.02 L77.29,287.83 L77.70,288.60 L78.10,289.33 L78.51,290.01 L78.91,290.65 L79.31,291.27 L79.72,291.87 L80.12,292.46 L80.53,293.02 L80.93,293.57 L81.33,294.10 L81.74,294.61 L82.14,295.10 L82.55,295.58 L82.95,296.04 L83.36,296.48 L83.76,296.91 L84.16,297.34 L84.57,297.77 L84.97,298.18 L85.38,298.59 L85.78,298.99 L86.18,299.38 L86.59,299.76 L86.99,300.13 L87.40,300.49 L87.80,300.84 L88.20,301.19 L88.61,301.52 L89.01,301.84 L89.42,302.14 L89.82,302.44 L90.23,302.72 L90.63,302.99 L91.03,303.25 L91.44,303.49 L91.84,303.73 L92.25,303.96 L92.65,304.18 L93.05,304.40 L93.46,304.61 L93.86,304.81 L94.27,305.00 L94.67,305.20 L95.08,305.38 L95.48,305.57 L95.88,305.75 L96.29,305.93 L96.69,306.11 L97.10,306.28 L97.50,306.46 L97.90,306.64 L98.31,306.82 L98.71,306.99 L99.12,307.17 L99.52,307.35 L99.92,307.53 L100.33,307.71 L100.73,307.89 L101.14,308.06 L101.54,308.23 L101.95,308.40 L102.35,308.57 L102.75,308.74 L103.16,308.90 L103.56,309.06 L103.97,309.22 L104.37,309.37 L104.77,309.52 L105.18,309.66 L105.58,309.80 L105.99,309.93 L106.39,310.06 L106.80,310.19 L107.20,310.31 L107.60,310.43 L108.01,310.55 L108.41,310.66 L108.82,310.78 L109.22,310.89 L109.62,311.00 L110.03,311.11 L110.43,311.22 L110.84,311.33 L111.24,311.43 L111.64,311.54 L112.05,311.64 L112.45,311.74 L112.86,311.84 L113.26,311.94 L113.67,312.03 L114.07,312.13 L114.47,312.23 L114.88,312.32 L115.28,312.41 L115.69,312.51 L116.09,312.60 L116.49,312.69 L116.90,312.78 L117.30,312.87 L117.71,312.96 L118.11,313.05 L118.52,313.14 L118.92,313.23 L119.32,313.32 L119.73,313.41 L120.13,313.50 L120.54,313.59 L120.94,313.68 L121.34,313.77 L121.75,313.86 L122.15,313.94 L122.56,314.03 L122.96,314.12 L123.36,314.21 L123.77,314.30 L124.17,314.39 L124.58,314.48 L124.98,314.57 L125.39,314.65 L125.79,314.74 L126.19,314.83 L126.60,314.91 L127.00,315.00 L127.41,315.08 L127.81,315.17 L128.21,315.25 L128.62,315.34 L129.02,315.42 L129.43,315.50 L129.83,315.58 L130.23,315.66 L130.64,315.75 L131.04,315.83 L131.45,315.90 L131.85,315.98 L132.26,316.06 L132.66,316.14 L133.06,316.22 L133.47,316.29 L133.87,316.37 L134.28,316.44 L134.68,316.51 L135.08,316.59 L135.49,316.66 L135.89,316.73 L136.30,316.80 L136.70,316.87 L137.11,316.93 L137.51,317.00 L137.91,317.07 L138.32,317.14 L138.72,317.20 L139.13,317.27 L139.53,317.33 L139.93,317.40 L140.34,317.46 L140.74,317.53 L141.15,317.59 L141.55,317.66 L141.95,317.72 L142.36,317.78 L142.76,317.84 L143.17,317.90 L143.57,317.96 L143.98,318.02 L144.38,318.08 L144.78,318.14 L145.19,318.19 L145.59,318.25 L146.00,318.30 L146.40,318.36 L146.80,318.41 L147.21,318.46 L147.61,318.52 L148.02,318.57 L148.42,318.62 L148.83,318.67 L149.23,318.71 L149.63,318.76 L150.04,318.80 L150.44,318.85 L150.85,318.89 L151.25,318.94 L151.65,318.98 L152.06,319.02 L152.46,319.07 L152.87,319.11 L153.27,319.15 L153.67,319.19 L154.08,319.23 L154.48,319.27 L154.89,319.31 L155.29,319.35 L155.70,319.39 L156.10,319.43 L156.50,319.47 L156.91,319.51 L157.31,319.54 L157.72,319.58 L158.12,319.61 L158.52,319.65 L158.93,319.68 L159.33,319.71 L159.74,319.75 L160.14,319.78 L160.55,319.81 L160.95,319.84 L161.35,319.87 L161.76,319.90 L162.16,319.92 L162.57,319.95 L162.97,319.97 L163.37,320.00 L163.78,320.02 L164.18,320.05 L164.59,320.07 L164.99,320.09 L165.39,320.11 L165.80,320.14 L166.20,320.16 L166.61,320.18 L167.01,320.20 L167.42,320.22 L167.82,320.25 L168.22,320.27 L168.63,320.29 L169.03,320.31 L169.44,320.33 L169.84,320.35 L170.24,320.37 L170.65,320.39 L171.05,320.40 L171.46,320.42 L171.86,320.44 L172.27,320.46 L172.67,320.48 L173.07,320.50 L173.48,320.51 L173.88,320.53 L174.29,320.55 L174.69,320.56 L175.09,320.58 L175.50,320.60 L175.90,320.61 L176.31,320.63 L176.71,320.64 L177.11,320.66 L177.52,320.68 L177.92,320.69 L178.33,320.70 L178.73,320.72 L179.14,320.73 L179.54,320.75 L179.94,320.76 L180.35,320.77 L180.75,320.79 L181.16,320.80 L181.56,320.81 L181.96,320.82 L182.37,320.84 L182.77,320.85 L183.18,320.86 L183.58,320.87 L183.98,320.88 L184.39,320.89 L184.79,320.91 L185.20,320.92 L185.60,320.93 L186.01,320.94 L186.41,320.95 L186.81,320.96 L187.22,320.97 L187.62,320.98 L188.03,320.99 L188.43,321.00 L188.83,321.01 L189.24,321.02 L189.64,321.03 L190.05,321.04 L190.45,321.05 L190.86,321.06 L191.26,321.07 L191.66,321.08 L192.07,321.09 L192.47,321.10 L192.88,321.11 L193.28,321.11 L193.68,321.12 L194.09,321.13 L194.49,321.14 L194.90,321.15 L195.30,321.16 L195.70,321.17 L196.11,321.17 L196.51,321.18 L196.92,321.19 L197.32,321.20 L197.73,321.20 L198.13,321.21 L198.53,321.22 L198.94,321.22 L199.34,321.23 L199.75,321.24 L200.15,321.24 L200.55,321.25 L200.96,321.25 L201.36,321.26 L201.77,321.27 L202.17,321.27 L202.58,321.28 L202.98,321.28 L203.38,321.28 L203.79,321.29 L204.19,321.29 L204.60,321.30 L205.00,321.30" fill="none" stroke="#27497a" stroke-width="1.2"/>
<line x1="43.75" y1="212.50" x2="43.75" y2="323.70" stroke="#222" stroke-width="1.4" />
<line x1="40.50" y1="323.20" x2="205.70" y2="323.20" stroke="#222" stroke-width="1.4" />
<line x1="205.20" y1="212.50" x2="205.20" y2="323.70" stroke="#222" stroke-width="1.4" />
<line x1="40.50" y1="301.62" x2="43.75" y2="301.62" stroke="#222" stroke-width="1.1" />
<line x1="40.50" y1="280.04" x2="43.75" y2="280.04" stroke="#222" stroke-width="1.1" />
<line x1="40.50" y1="258.46" x2="43.75" y2="258.46" stroke="#222" stroke-width="1.1" />
<line x1="40.50" y1="236.88" x2="43.75" y2="236.88" stroke="#222" stroke-width="1.1" />
<line x1="40.50" y1="215.30" x2="43.75" y2="215.30" stroke="#222" stroke-width="1.1" />
<line x1="43.75" y1="323.20" x2="43.75" y2="325.80" stroke="#222" stroke-width="1.1" />
<line x1="97.50" y1="323.20" x2="97.50" y2="325.80" stroke="#222" stroke-width="1.1" />
<line x1="151.25" y1="323.20" x2="151.25" y2="325.80" stroke="#222" stroke-width="1.1" />
<line x1="205.00" y1="323.20" x2="205.00" y2="325.80" stroke="#222" stroke-width="1.1" />
<line x1="70.62" y1="321.90" x2="70.62" y2="324.50" stroke="#222" stroke-width="1.1" />
<line x1="124.38" y1="321.90" x2="124.38" y2="324.50" stroke="#222" stroke-width="1.1" />
<line x1="178.12" y1="321.90" x2="178.12" y2="324.50" stroke="#222" stroke-width="1.1" />
<line x1="205.20" y1="323.20" x2="208.30" y2="323.20" stroke="#222" stroke-width="1.1" />
<line x1="205.20" y1="269.25" x2="208.30" y2="269.25" stroke="#222" stroke-width="1.1" />
<line x1="205.20" y1="215.30" x2="208.30" y2="215.30" stroke="#222" stroke-width="1.1" />
<line x1="205.20" y1="296.23" x2="207.30" y2="296.23" stroke="#222" stroke-width="1.0" />
<line x1="205.20" y1="242.28" x2="207.30" y2="242.28" stroke="#222" stroke-width="1.0" />
<text x="32.01" y="326.10" font-size="8.4" font-weight="normal" fill="#2b2b2b" stroke="#2b2b2b" stroke-width="0.3" textLength="5.05" lengthAdjust="spacingAndGlyphs" >0</text>
<text x="26.96" y="304.52" font-size="8.4" font-weight="normal" fill="#2b2b2b" stroke="#2b2b2b" stroke-width="0.3" textLength="10.09" lengthAdjust="spacingAndGlyphs" >20</text>
<text x="26.96" y="282.94" font-size="8.4" font-weight="normal" fill="#2b2b2b" stroke="#2b2b2b" stroke-width="0.3" textLength="10.09" lengthAdjust="spacingAndGlyphs" >40</text>
<text x="26.96" y="261.36" font-size="8.4" font-weight="normal" fill="#2b2b2b" stroke="#2b2b2b" stroke-width="0.3" textLength="10.09" lengthAdjust="spacingAndGlyphs" >60</text>
<text x="26.96" y="239.78" font-size="8.4" font-weight="normal" fill="#2b2b2b" stroke="#2b2b2b" stroke-width="0.3" textLength="10.09" lengthAdjust="spacingAndGlyphs" >80</text>
<text x="21.92" y="218.20" font-size="8.4" font-weight="normal" fill="#2b2b2b" stroke="#2b2b2b" stroke-width="0.3" textLength="15.14" lengthAdjust="spacingAndGlyphs" >100</text>
<text x="211.25" y="326.10" font-size="8.4" font-weight="normal" fill="#2b2b2b" stroke="#2b2b2b" stroke-width="0.3" textLength="17.66" lengthAdjust="spacingAndGlyphs" >0.00</text>
<text x="211.25" y="272.15" font-size="8.4" font-weight="normal" fill="#2b2b2b" stroke="#2b2b2b" stroke-width="0.3" textLength="17.66" lengthAdjust="spacingAndGlyphs" >0.05</text>
<text x="211.25" y="218.20" font-size="8.4" font-weight="normal" fill="#2b2b2b" stroke="#2b2b2b" stroke-width="0.3" textLength="17.66" lengthAdjust="spacingAndGlyphs" >0.10</text>
<text x="41.23" y="337.00" font-size="8.4" font-weight="normal" fill="#2b2b2b" stroke="#2b2b2b" stroke-width="0.3" textLength="5.05" lengthAdjust="spacingAndGlyphs" >0</text>
<text x="87.24" y="337.00" font-size="8.4" font-weight="normal" fill="#2b2b2b" stroke="#2b2b2b" stroke-width="0.3" textLength="20.18" lengthAdjust="spacingAndGlyphs" >1000</text>
<text x="141.11" y="337.00" font-size="8.4" font-weight="normal" fill="#2b2b2b" stroke="#2b2b2b" stroke-width="0.3" textLength="20.18" lengthAdjust="spacingAndGlyphs" >2000</text>
<text x="194.91" y="337.00" font-size="8.4" font-weight="normal" fill="#2b2b2b" stroke="#2b2b2b" stroke-width="0.3" textLength="20.18" lengthAdjust="spacingAndGlyphs" >3000</text>
<text x="111.42" y="351.80" font-size="11.2" font-weight="normal" fill="#2b2b2b" stroke="#2b2b2b" stroke-width="0.3" textLength="26.07" lengthAdjust="spacingAndGlyphs" >Time, s</text>
<text transform="translate(16.60,0) rotate(-90)" x="-310.66" y="0" font-size="11.2" font-weight="normal" fill="#2b2b2b" stroke="#2b2b2b" stroke-width="0.3" textLength="84.95" lengthAdjust="spacingAndGlyphs">Extent of contraction, %</text>
<text transform="translate(235.60,0) rotate(90)" x="232.32" y="0" font-size="11.0" font-weight="normal" fill="#41679b" stroke="#41679b" stroke-width="0.3" textLength="72.38" lengthAdjust="spacingAndGlyphs">First derivative, %/s</text>
<text x="132.87" y="221.30" font-size="9.2" font-weight="normal" fill="#2b2b2b" stroke="#2b2b2b" stroke-width="0.3" textLength="34.15" lengthAdjust="spacingAndGlyphs" >Platelets</text>
<text x="139.30" y="252.80" font-size="9.2" font-weight="normal" fill="#2b2b2b" stroke="#2b2b2b" stroke-width="0.3" textLength="19.82" lengthAdjust="spacingAndGlyphs" >iMKs</text>
<text x="88.45" y="290.60" font-size="9.4" font-weight="normal" fill="#2b2b2b" stroke="#2b2b2b" stroke-width="0.3" textLength="87.95" lengthAdjust="spacingAndGlyphs" >Equalized by total cell</text>
<text x="89.16" y="300.80" font-size="9.4" font-weight="normal" fill="#2b2b2b" stroke="#2b2b2b" stroke-width="0.3" textLength="29.93" lengthAdjust="spacingAndGlyphs" >Volume</text>
<line x1="291.75" y1="212.00" x2="291.75" y2="323.90" stroke="#222" stroke-width="1.4" />
<line x1="289.50" y1="323.40" x2="363.50" y2="323.40" stroke="#222" stroke-width="1.4" />
<line x1="288.50" y1="296.38" x2="291.75" y2="296.38" stroke="#222" stroke-width="1.1" />
<line x1="288.50" y1="269.35" x2="291.75" y2="269.35" stroke="#222" stroke-width="1.1" />
<line x1="288.50" y1="242.32" x2="291.75" y2="242.32" stroke="#222" stroke-width="1.1" />
<line x1="288.50" y1="215.30" x2="291.75" y2="215.30" stroke="#222" stroke-width="1.1" />
<line x1="312.20" y1="323.40" x2="312.20" y2="326.20" stroke="#222" stroke-width="1.1" />
<line x1="343.20" y1="323.40" x2="343.20" y2="326.20" stroke="#222" stroke-width="1.1" />
<text x="280.31" y="326.30" font-size="8.4" font-weight="normal" fill="#2b2b2b" stroke="#2b2b2b" stroke-width="0.3" textLength="5.05" lengthAdjust="spacingAndGlyphs" >0</text>
<text x="275.26" y="299.27" font-size="8.4" font-weight="normal" fill="#2b2b2b" stroke="#2b2b2b" stroke-width="0.3" textLength="10.09" lengthAdjust="spacingAndGlyphs" >20</text>
<text x="275.26" y="272.25" font-size="8.4" font-weight="normal" fill="#2b2b2b" stroke="#2b2b2b" stroke-width="0.3" textLength="10.09" lengthAdjust="spacingAndGlyphs" >40</text>
<text x="275.26" y="245.22" font-size="8.4" font-weight="normal" fill="#2b2b2b" stroke="#2b2b2b" stroke-width="0.3" textLength="10.09" lengthAdjust="spacingAndGlyphs" >60</text>
<text x="275.26" y="218.20" font-size="8.4" font-weight="normal" fill="#2b2b2b" stroke="#2b2b2b" stroke-width="0.3" textLength="10.09" lengthAdjust="spacingAndGlyphs" >80</text>
<path d="M312.2,223.0 V217.3 H343.2 V311.5" fill="none" stroke="#555" stroke-width="0.9"/>
<line x1="312.55" y1="229.80" x2="312.55" y2="239.20" stroke="#cc2a40" stroke-width="1.0" />
<line x1="312.55" y1="257.50" x2="312.55" y2="270.20" stroke="#cc2a40" stroke-width="1.0" />
<line x1="307.60" y1="229.80" x2="317.40" y2="229.80" stroke="#cc2a40" stroke-width="1.2" />
<line x1="307.60" y1="270.20" x2="317.40" y2="270.20" stroke="#cc2a40" stroke-width="1.2" />
<rect x="303.2" y="239.2" width="18.70" height="18.30" fill="#ec9a92" stroke="#e08a84" stroke-width="0.7"/>
<line x1="303.20" y1="252.90" x2="321.90" y2="252.90" stroke="#cc1f3a" stroke-width="1.8" />
<line x1="342.90" y1="318.00" x2="342.90" y2="320.60" stroke="#5cb05c" stroke-width="1.0" />
<line x1="342.90" y1="322.60" x2="342.90" y2="323.00" stroke="#5cb05c" stroke-width="1.0" />
<line x1="337.80" y1="318.00" x2="348.40" y2="318.00" stroke="#5cb05c" stroke-width="1.2" />
<line x1="337.80" y1="323.00" x2="348.40" y2="323.00" stroke="#5cb05c" stroke-width="1.2" />
<rect x="333.6" y="320.6" width="18.60" height="2.00" fill="#ade0a5" stroke="#8ccc84" stroke-width="0.7"/>
<line x1="333.60" y1="321.60" x2="352.20" y2="321.60" stroke="#47a047" stroke-width="1.8" />
<text x="305.49" y="212.20" font-size="8.6" font-weight="normal" fill="#2b2b2b" stroke="#2b2b2b" stroke-width="0.3" textLength="37.44" lengthAdjust="spacingAndGlyphs" ><tspan font-style="italic">P</tspan> &lt; .0001</text>
<text x="306.20" y="0" font-size="1" fill="none"></text>
<text x="298.78" y="291.00" font-size="9.4" font-weight="normal" fill="#2b2b2b" stroke="#2b2b2b" stroke-width="0.3" textLength="38.11" lengthAdjust="spacingAndGlyphs" >Equal cell</text>
<text x="304.55" y="301.10" font-size="9.4" font-weight="normal" fill="#2b2b2b" stroke="#2b2b2b" stroke-width="0.3" textLength="28.28" lengthAdjust="spacingAndGlyphs" >Counts</text>
<text x="301.91" y="337.60" font-size="9.2" font-weight="normal" fill="#2b2b2b" stroke="#2b2b2b" stroke-width="0.3" textLength="19.71" lengthAdjust="spacingAndGlyphs" >iMKs</text>
<text x="326.27" y="337.60" font-size="9.2" font-weight="normal" fill="#2b2b2b" stroke="#2b2b2b" stroke-width="0.3" textLength="34.05" lengthAdjust="spacingAndGlyphs" >Platelets</text>
<text transform="translate(270.00,0) rotate(-90)" x="-318.27" y="0" font-size="10.6" font-weight="normal" fill="#2b2b2b" stroke="#2b2b2b" stroke-width="0.3" textLength="100.86" lengthAdjust="spacingAndGlyphs">Extent of clot contraction, %</text>
<line x1="421.75" y1="212.00" x2="421.75" y2="324.00" stroke="#222" stroke-width="1.4" />
<line x1="419.50" y1="323.50" x2="493.30" y2="323.50" stroke="#222" stroke-width="1.4" />
<line x1="418.50" y1="287.50" x2="421.75" y2="287.50" stroke="#222" stroke-width="1.1" />
<line x1="418.50" y1="251.50" x2="421.75" y2="251.50" stroke="#222" stroke-width="1.1" />
<line x1="418.50" y1="215.50" x2="421.75" y2="215.50" stroke="#222" stroke-width="1.1" />
<line x1="442.00" y1="323.50" x2="442.00" y2="326.30" stroke="#222" stroke-width="1.1" />
<line x1="472.50" y1="323.50" x2="472.50" y2="326.30" stroke="#222" stroke-width="1.1" />
<text x="409.80" y="326.40" font-size="8.4" font-weight="normal" fill="#2b2b2b" stroke="#2b2b2b" stroke-width="0.3" textLength="5.05" lengthAdjust="spacingAndGlyphs" >1</text>
<text x="404.66" y="290.40" font-size="8.4" font-weight="normal" fill="#2b2b2b" stroke="#2b2b2b" stroke-width="0.3" textLength="10.09" lengthAdjust="spacingAndGlyphs" >10</text>
<text x="399.62" y="254.40" font-size="8.4" font-weight="normal" fill="#2b2b2b" stroke="#2b2b2b" stroke-width="0.3" textLength="15.14" lengthAdjust="spacingAndGlyphs" >100</text>
<text x="394.57" y="218.40" font-size="8.4" font-weight="normal" fill="#2b2b2b" stroke="#2b2b2b" stroke-width="0.3" textLength="20.18" lengthAdjust="spacingAndGlyphs" >1000</text>
<path d="M442.0,229.8 V223.5 H472.5 V289.8" fill="none" stroke="#555" stroke-width="0.9"/>
<line x1="441.90" y1="236.50" x2="441.90" y2="238.50" stroke="#cc2a40" stroke-width="1.0" />
<line x1="441.90" y1="266.00" x2="441.90" y2="269.00" stroke="#cc2a40" stroke-width="1.0" />
<line x1="437.50" y1="236.50" x2="447.00" y2="236.50" stroke="#cc2a40" stroke-width="1.2" />
<line x1="437.50" y1="269.00" x2="447.00" y2="269.00" stroke="#cc2a40" stroke-width="1.2" />
<rect x="432.0" y="238.5" width="19.80" height="27.50" fill="#ec9a92" stroke="#e08a84" stroke-width="0.7"/>
<line x1="432.00" y1="244.00" x2="451.80" y2="244.00" stroke="#cc1f3a" stroke-width="1.8" />
<line x1="472.90" y1="296.40" x2="472.90" y2="299.90" stroke="#5cb05c" stroke-width="1.0" />
<line x1="472.90" y1="315.30" x2="472.90" y2="319.70" stroke="#5cb05c" stroke-width="1.0" />
<line x1="467.70" y1="296.40" x2="478.00" y2="296.40" stroke="#5cb05c" stroke-width="1.2" />
<line x1="467.70" y1="319.70" x2="478.00" y2="319.70" stroke="#5cb05c" stroke-width="1.2" />
<rect x="463.5" y="299.9" width="18.80" height="15.40" fill="#ade0a5" stroke="#8ccc84" stroke-width="0.7"/>
<line x1="463.50" y1="304.30" x2="482.30" y2="304.30" stroke="#47a047" stroke-width="1.8" />
<text x="436.76" y="219.80" font-size="8.6" font-weight="normal" fill="#2b2b2b" stroke="#2b2b2b" stroke-width="0.3" textLength="38.62" lengthAdjust="spacingAndGlyphs" ><tspan font-style="italic">P</tspan> = .0078</text>
<text x="431.39" y="337.80" font-size="9.2" font-weight="normal" fill="#2b2b2b" stroke="#2b2b2b" stroke-width="0.3" textLength="20.24" lengthAdjust="spacingAndGlyphs" >iMKs</text>
<text x="455.57" y="337.80" font-size="9.2" font-weight="normal" fill="#2b2b2b" stroke="#2b2b2b" stroke-width="0.3" textLength="34.26" lengthAdjust="spacingAndGlyphs" >Platelets</text>
<text transform="translate(390.50,0) rotate(-90)" x="-319.61" y="0" font-size="10.6" font-weight="normal" fill="#2b2b2b" stroke="#2b2b2b" stroke-width="0.3" textLength="103.08" lengthAdjust="spacingAndGlyphs">Contractile force per cell, nN</text>
<rect x="0.5" y="0.5" width="519" height="361" fill="none" stroke="#3c3c3c" stroke-width="1"/>
</svg>
</body></html>
